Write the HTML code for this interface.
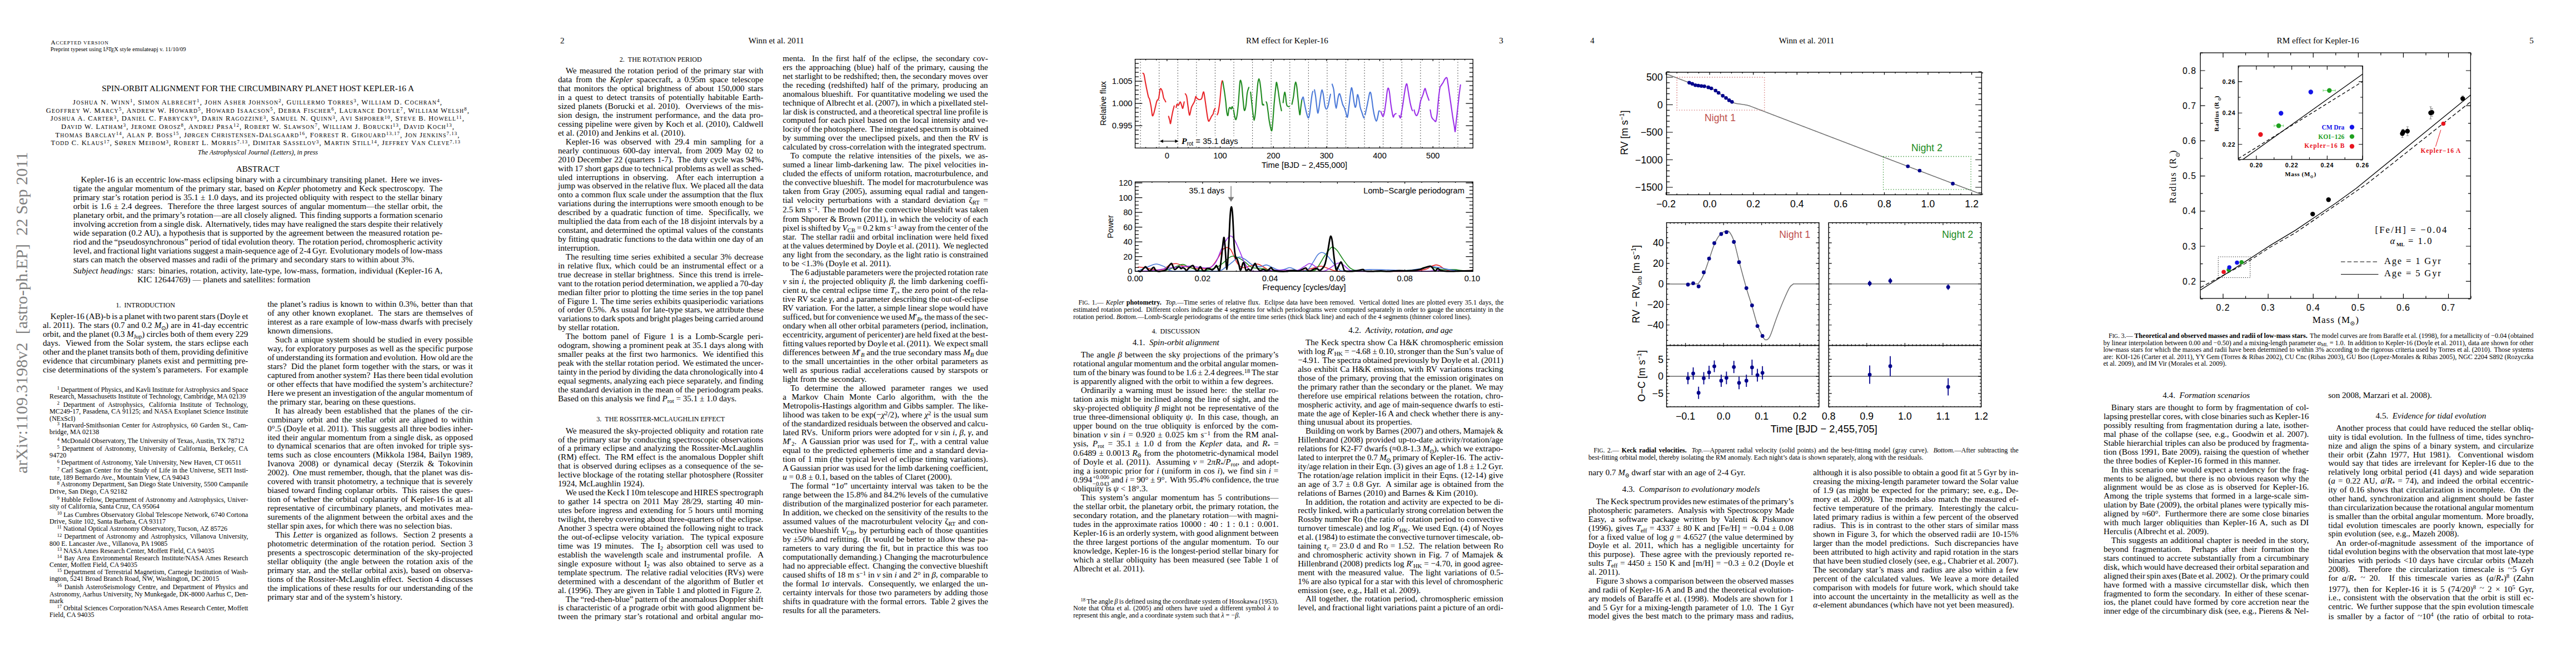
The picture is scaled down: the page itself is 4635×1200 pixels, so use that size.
<!DOCTYPE html><html><head><meta charset='utf-8'><title>Winn et al. 2011</title><style>
html,body{margin:0;padding:0;background:#fff;}
body{width:4635px;height:1200px;position:relative;overflow:hidden;font-family:'Liberation Serif',serif;color:#000;}
.l{position:absolute;white-space:nowrap;line-height:18px;height:18px;}
.c{position:absolute;white-space:nowrap;line-height:18px;height:18px;width:1000px;text-align:center;}
sup{font-size:70%;vertical-align:baseline;position:relative;top:-0.42em;line-height:0;}
sub{font-size:70%;vertical-align:baseline;position:relative;top:0.28em;line-height:0;}
sub sub{top:0.2em}
.sun{display:inline-block;width:0.62em;height:0.62em;border:0.09em solid #000;border-radius:50%;box-sizing:border-box;background:radial-gradient(circle,#000 0,#000 18%,transparent 24%);vertical-align:-0.05em;margin:0 0.05em;}
.star{display:inline-block;font-size:90%;}
.sim{display:inline-block;position:relative;top:-0.08em;}
.ss{display:inline-block;position:relative;font-size:70%;line-height:0;vertical-align:baseline;margin-left:0.08em;}
.ss span:first-child{position:relative;top:-0.5em}
.ss span:last-child{position:absolute;left:0;top:0.55em}
svg{position:absolute;left:0;top:0;}
</style></head><body>
<svg width="4635" height="1200" viewBox="0 0 4635 1200"><text xml:space="preserve" transform="translate(48.7,851.7) rotate(-90)" font-family="Liberation Serif" font-size="30.3" fill="#808080">arXiv:1109.3198v2  [astro-ph.EP]  22 Sep 2011</text><path d="M2052.05,106.6 V266.3 M2085.64,106.6 V266.3 M2119.23,106.6 V266.3 M2152.82,106.6 V266.3 M2186.41,106.6 V266.3 M2220,106.6 V266.3 M2253.59,106.6 V266.3 M2287.18,106.6 V266.3 M2320.77,106.6 V266.3 M2354.36,106.6 V266.3 M2387.95,106.6 V266.3 M2421.54,106.6 V266.3 M2455.13,106.6 V266.3 M2488.72,106.6 V266.3 M2522.32,106.6 V266.3 M2555.91,106.6 V266.3 M2589.5,106.6 V266.3 M2623.09,106.6 V266.3" stroke="#000" stroke-width="1.1" stroke-dasharray="1.2 3.7" fill="none"/>
<path d="M2056.35,131.75 C2056.69,132.13 2057.56,131.02 2058.38,134.06 C2059.2,137.1 2060.31,144.91 2061.27,149.98 C2062.24,155.04 2063.3,160.35 2064.17,164.44 C2065.03,168.54 2065.76,172.16 2066.48,174.57 C2067.2,176.98 2067.69,175.78 2068.51,178.91 C2069.33,182.05 2070.58,188.56 2071.4,193.38 C2072.22,198.2 2072.7,205.92 2073.43,207.85 C2074.15,209.78 2074.87,207.36 2075.74,204.95 C2076.61,202.54 2077.67,197.24 2078.63,193.38 C2079.6,189.52 2080.66,184.22 2081.53,181.81 C2082.4,179.39 2083.26,179.88 2083.84,178.91 C2084.42,177.95 2084.42,179.01 2085,176.02 C2085.58,173.03 2086.59,163.62 2087.31,160.97 C2088.04,158.32 2088.62,159.28 2089.34,160.1 C2090.06,160.92 2090.93,163.24 2091.66,165.89 C2092.38,168.54 2092.96,173.61 2093.68,176.02 C2094.4,178.43 2095.37,179.15 2096,180.36 C2096.62,181.56 2097.2,182.77 2097.44,183.25 M2102.65,209.29 C2102.99,210.5 2104.1,214.36 2104.68,216.53 C2105.25,218.7 2105.54,223.28 2106.12,222.31 C2106.7,221.35 2107.42,214.6 2108.15,210.74 C2108.87,206.88 2109.69,202.54 2110.46,199.17 C2111.23,195.79 2112.39,191.93 2112.78,190.49 M2116.25,193.38 C2116.49,192.42 2116.97,188.32 2117.7,187.59 C2118.42,186.87 2119.63,189.76 2120.59,189.04 C2121.55,188.32 2122.66,183.49 2123.48,183.25 C2124.3,183.01 2124.79,185.66 2125.51,187.59 C2126.23,189.52 2127.2,194.34 2127.82,194.83 C2128.45,195.31 2128.79,192.42 2129.27,190.49 C2129.75,188.56 2130.48,184.46 2130.72,183.25 M2132.74,168.78 C2133.13,169.51 2134.33,169.99 2135.06,173.12 C2135.78,176.26 2136.36,182.53 2137.08,187.59 C2137.81,192.66 2138.77,200.37 2139.4,203.51 C2140.03,206.64 2140.12,208.09 2140.84,206.4 C2141.57,204.71 2142.77,196.51 2143.74,193.38 C2144.7,190.24 2145.67,189.52 2146.63,187.59 C2147.6,185.66 2148.71,184.12 2149.53,181.81 C2150.35,179.49 2150.92,174.57 2151.55,173.7 C2152.18,172.84 2152.42,175.73 2153.29,176.6 C2154.16,177.47 2155.6,178.53 2156.76,178.91 C2157.92,179.3 2159.27,179.39 2160.23,178.91 C2161.2,178.43 2161.82,177.95 2162.55,176.02 C2163.27,174.09 2163.99,169.03 2164.57,167.34 C2165.15,165.65 2165.49,164.44 2166.02,165.89 C2166.55,167.34 2167.13,171.92 2167.75,176.02 C2168.38,180.12 2168.96,184.7 2169.78,190.49 C2170.6,196.27 2171.85,206.16 2172.67,210.74 C2173.49,215.32 2173.98,217.25 2174.7,217.97 C2175.42,218.7 2176.15,216.53 2177.01,215.08 C2177.88,213.63 2178.94,210.98 2179.91,209.29 C2180.87,207.61 2182.08,206.64 2182.8,204.95 C2183.52,203.27 2183.62,200.85 2184.25,199.17 C2184.87,197.48 2186.18,195.55 2186.56,194.83 M2190.03,206.4 C2190.28,205.92 2191,205.19 2191.48,203.51 C2191.96,201.82 2192.35,199.89 2192.93,196.27 C2193.51,192.66 2194.23,188.56 2194.95,181.81 C2195.68,175.05 2196.59,161.79 2197.27,155.76 C2197.94,149.74 2198.52,147.08 2199,145.64 C2199.49,144.19 2199.97,146.84 2200.16,147.08" stroke="#e8262a" stroke-width="2.1" fill="none" stroke-linejoin="round" stroke-linecap="round"/>
<path d="M2200.16,147.08 C2200.64,149.98 2202.19,158.66 2203.06,164.44 C2203.92,170.23 2204.65,175.54 2205.37,181.81 C2206.09,188.07 2206.72,197.72 2207.4,202.06 C2208.07,206.4 2208.79,208.81 2209.42,207.85 C2210.05,206.88 2210.53,198.68 2211.16,196.27 C2211.78,193.86 2212.51,193.38 2213.18,193.38 C2213.86,193.38 2214.58,196.51 2215.21,196.27 C2215.84,196.03 2216.41,192.17 2216.94,191.93 C2217.47,191.69 2218.15,194.34 2218.39,194.83 M2219.55,197.72 C2219.93,199.89 2221.14,207.85 2221.86,210.74 C2222.59,213.63 2223.17,216.05 2223.89,215.08 C2224.61,214.12 2225.43,210.5 2226.2,204.95 C2226.98,199.41 2227.8,190.49 2228.52,181.81 C2229.24,173.12 2229.97,159.14 2230.54,152.87 C2231.12,146.6 2231.36,144.19 2231.99,144.19 C2232.62,144.19 2233.58,147.57 2234.31,152.87 C2235.03,158.18 2235.66,168.78 2236.33,176.02 C2237.01,183.25 2237.73,192.66 2238.36,196.27 C2238.98,199.89 2239.47,199.17 2240.09,197.72 C2240.72,196.27 2241.44,192.66 2242.12,187.59 C2242.79,182.53 2243.32,172.4 2244.14,167.34 C2244.96,162.27 2246.55,158.9 2247.04,157.21 M2250.22,165.89 C2250.56,169.03 2251.52,178.19 2252.25,184.7 C2252.97,191.21 2253.84,199.65 2254.56,204.95 C2255.28,210.26 2255.91,216.53 2256.59,216.53 C2257.26,216.53 2257.89,211.71 2258.61,204.95 C2259.33,198.2 2260.15,185.18 2260.93,176.02 C2261.7,166.86 2262.52,155.67 2263.24,149.98 C2263.96,144.29 2264.59,141.88 2265.27,141.88 C2265.94,141.88 2266.57,145.25 2267.29,149.98 C2268.02,154.7 2268.93,163.96 2269.61,170.23 C2270.28,176.5 2270.76,184.7 2271.34,187.59 C2271.92,190.49 2272.64,187.35 2273.08,187.59 C2273.51,187.83 2273.8,188.8 2273.95,189.04 M2278.29,183.25 C2278.53,183.98 2279.16,184.46 2279.73,187.59 C2280.31,190.73 2281.04,196.76 2281.76,202.06 C2282.48,207.36 2283.06,213.88 2284.07,219.42 C2285.09,224.97 2286.87,234.85 2287.84,235.34 C2288.8,235.82 2289.04,230.75 2289.86,222.31 C2290.68,213.88 2291.79,195.79 2292.75,184.7 C2293.72,173.61 2294.92,161.79 2295.65,155.76 C2296.37,149.74 2296.37,147.08 2297.09,148.53 C2297.82,149.98 2299.02,158.42 2299.99,164.44 C2300.95,170.47 2301.92,178.91 2302.88,184.7 C2303.85,190.49 2305.29,196.76 2305.78,199.17 M2308.68,184.7 C2308.92,182.77 2309.65,176.26 2310.13,173.12 C2310.61,169.99 2311.09,166.13 2311.57,165.89 C2312.06,165.65 2312.54,168.54 2313.02,171.68 C2313.5,174.81 2313.99,181.56 2314.47,184.7 C2314.95,187.83 2315.05,189.28 2315.91,190.49 C2316.78,191.69 2319.05,191.69 2319.68,191.93 M2324.59,187.59 C2325.08,185.18 2326.67,178.43 2327.49,173.12 C2328.31,167.82 2328.89,160.01 2329.51,155.76 C2330.14,151.52 2330.62,147.66 2331.25,147.66 C2331.88,147.66 2332.6,151.04 2333.28,155.76 C2333.95,160.49 2334.58,168.78 2335.3,176.02 C2336.02,183.25 2336.99,194.1 2337.62,199.17 C2338.24,204.23 2338.58,207.36 2339.06,206.4 C2339.54,205.44 2339.93,197.96 2340.51,193.38 C2341.09,188.8 2342.2,181.32 2342.53,178.91" stroke="#1f8a1f" stroke-width="2.1" fill="none" stroke-linejoin="round" stroke-linecap="round"/>
<path d="M2342.53,178.91 C2342.92,178.19 2344.22,174.09 2344.85,174.57 C2345.48,175.05 2345.57,178.19 2346.3,181.81 C2347.02,185.42 2348.23,191.93 2349.19,196.27 C2350.15,200.61 2351.22,205.19 2352.08,207.85 C2352.95,210.5 2353.67,212.67 2354.4,212.19 C2355.12,211.71 2355.75,209.05 2356.42,204.95 C2357.1,200.85 2357.73,193.38 2358.45,187.59 C2359.17,181.81 2360.14,174.09 2360.76,170.23 C2361.39,166.37 2361.97,165.41 2362.21,164.44 M2365.1,161.55 C2365.44,163.48 2366.41,167.82 2367.13,173.12 C2367.85,178.43 2368.72,188.32 2369.44,193.38 C2370.17,198.44 2370.75,203.99 2371.47,203.51 C2372.19,203.02 2372.92,196.03 2373.78,190.49 C2374.65,184.94 2375.86,175.05 2376.68,170.23 C2377.5,165.41 2377.98,161.55 2378.7,161.55 C2379.43,161.55 2380.15,165.41 2381.02,170.23 C2381.89,175.05 2382.95,186.15 2383.91,190.49 C2384.88,194.83 2385.84,196.27 2386.81,196.27 C2387.77,196.27 2388.83,193.38 2389.7,190.49 C2390.57,187.59 2391.29,182.38 2392.01,178.91 C2392.74,175.44 2393.7,171.2 2394.04,169.65 M2396.93,151.42 C2397.42,153.11 2399.01,156.49 2399.83,161.55 C2400.65,166.61 2401.13,176.26 2401.85,181.81 C2402.58,187.35 2403.4,194.83 2404.17,194.83 C2404.94,194.83 2405.76,185.66 2406.48,181.81 C2407.2,177.95 2407.83,173.85 2408.51,171.68 C2409.18,169.51 2409.81,168.06 2410.53,168.78 C2411.26,169.51 2411.98,172.88 2412.85,176.02 C2413.72,179.15 2414.78,184.7 2415.74,187.59 C2416.71,190.49 2417.67,190.97 2418.63,193.38 C2419.6,195.79 2420.56,199.17 2421.53,202.06 C2422.49,204.95 2423.46,212.67 2424.42,210.74 C2425.39,208.81 2426.45,197.24 2427.31,190.49 C2428.18,183.73 2428.91,175.63 2429.63,170.23 C2430.35,164.83 2430.98,159.04 2431.66,158.08 C2432.33,157.11 2432.96,160.49 2433.68,164.44 C2434.4,168.4 2435.22,177.08 2436,181.81 C2436.77,186.53 2437.59,191.84 2438.31,192.8 C2439.03,193.77 2439.66,191.26 2440.34,187.59 C2441.01,183.93 2441.64,172.74 2442.36,170.81 C2443.08,168.88 2443.81,172.26 2444.68,176.02 C2445.54,179.78 2446.6,189.04 2447.57,193.38 C2448.53,197.72 2449.5,199.17 2450.46,202.06 C2451.43,204.95 2452.63,209.05 2453.36,210.74 C2454.08,212.43 2454.56,211.95 2454.8,212.19 M2456.25,206.4 C2456.73,204.23 2458.18,197.96 2459.14,193.38 C2460.11,188.8 2461.17,183.25 2462.04,178.91 C2462.91,174.57 2463.63,169.27 2464.35,167.34 C2465.08,165.41 2465.7,165.41 2466.38,167.34 C2467.05,169.27 2467.68,174.09 2468.4,178.91 C2469.13,183.73 2469.85,190.97 2470.72,196.27 C2471.59,201.58 2472.65,207.12 2473.61,210.74 C2474.58,214.36 2475.64,217.97 2476.5,217.97 C2477.37,217.97 2478.1,213.63 2478.82,210.74 C2479.54,207.85 2480.27,202.45 2480.84,200.61 C2481.42,198.78 2482.05,199.89 2482.29,199.75" stroke="#4a78d8" stroke-width="2.1" fill="none" stroke-linejoin="round" stroke-linecap="round"/>
<path d="M2484.61,200.61 C2484.94,201.58 2485.96,204.95 2486.63,206.4 C2487.31,207.85 2487.93,210.02 2488.66,209.29 C2489.38,208.57 2490.1,206.64 2490.97,202.06 C2491.84,197.48 2493,188.32 2493.87,181.81 C2494.73,175.3 2495.46,166.86 2496.18,163 C2496.9,159.14 2497.53,157.93 2498.21,158.66 C2498.88,159.38 2499.51,162.52 2500.23,167.34 C2500.95,172.16 2501.68,181.32 2502.55,187.59 C2503.41,193.86 2504.72,201.1 2505.44,204.95 C2506.16,208.81 2506.31,210.5 2506.89,210.74 C2507.47,210.98 2508.09,207.46 2508.91,206.4 C2509.73,205.34 2511.32,204.71 2511.81,204.38 M2517.59,207.85 C2517.98,208.57 2519.28,212.67 2519.91,212.19 C2520.53,211.71 2520.63,209.05 2521.35,204.95 C2522.08,200.85 2523.28,193.86 2524.25,187.59 C2525.21,181.32 2526.27,172.88 2527.14,167.34 C2528.01,161.79 2528.73,156.97 2529.46,154.32 C2530.18,151.66 2530.76,149.74 2531.48,151.42 C2532.2,153.11 2532.83,158.9 2533.8,164.44 C2534.76,169.99 2536.21,179.39 2537.27,184.7 C2538.33,190 2539.44,193.86 2540.16,196.27 C2540.89,198.68 2541.37,198.68 2541.61,199.17 M2544.5,197.72 C2544.74,198.68 2545.32,201.82 2545.95,203.51 C2546.58,205.19 2547.54,207.36 2548.26,207.85 C2548.99,208.33 2549.47,208.09 2550.29,206.4 C2551.11,204.71 2552.22,201.82 2553.18,197.72 C2554.15,193.62 2554.87,186.39 2556.08,181.81 C2557.28,177.22 2559.11,173.99 2560.42,170.23 C2561.72,166.47 2562.92,159.96 2563.89,159.24 C2564.85,158.51 2565.43,163.58 2566.2,165.89 C2566.98,168.21 2567.7,170.71 2568.52,173.12 C2569.34,175.54 2570.69,179.15 2571.12,180.36 M2573.44,197.72 C2573.78,199.65 2574.74,206.64 2575.46,209.29 C2576.19,211.95 2576.91,212.43 2577.78,213.63 C2578.65,214.84 2579.71,215.8 2580.67,216.53 C2581.64,217.25 2582.7,219.9 2583.56,217.97 C2584.43,216.05 2585.16,210.98 2585.88,204.95 C2586.6,198.93 2587.09,189.52 2587.91,181.81 C2588.72,174.09 2589.83,163.48 2590.8,158.66 C2591.76,153.83 2592.73,154.56 2593.69,152.87 C2594.66,151.18 2595.62,150.22 2596.59,148.53 C2597.55,146.84 2598.37,144.19 2599.48,142.74 C2600.59,141.3 2602.28,138.64 2603.24,139.85 C2604.21,141.06 2604.45,144.91 2605.27,149.98 C2606.09,155.04 2607.2,163.48 2608.16,170.23 C2609.12,176.98 2610.09,183.73 2611.05,190.49 C2612.02,197.24 2612.98,204.47 2613.95,210.74 C2614.91,217.01 2616.12,223.76 2616.84,228.1 C2617.56,232.44 2617.8,237.75 2618.29,236.78 C2618.77,235.82 2619.01,229.07 2619.73,222.31 C2620.46,215.56 2621.66,204.95 2622.63,196.27 C2623.59,187.59 2624.65,177.47 2625.52,170.23 C2626.39,163 2627.45,155.76 2627.84,152.87" stroke="#9b30e8" stroke-width="2.1" fill="none" stroke-linejoin="round" stroke-linecap="round"/>
<rect x="2042.5" y="106.6" width="607.8" height="159.7" fill="none" stroke="#000" stroke-width="1.3"/>
<path d="M2099.8,266.3 v-3.4 M2099.8,106.6 v3.4 M2195.5,266.3 v-3.4 M2195.5,106.6 v3.4 M2291.2,266.3 v-3.4 M2291.2,106.6 v3.4 M2386.9,266.3 v-3.4 M2386.9,106.6 v3.4 M2482.6,266.3 v-3.4 M2482.6,106.6 v3.4 M2578.3,266.3 v-3.4 M2578.3,106.6 v3.4 M2042.38,266.3 v-1.8 M2042.38,106.6 v1.8 M2061.52,266.3 v-1.8 M2061.52,106.6 v1.8 M2080.66,266.3 v-1.8 M2080.66,106.6 v1.8 M2118.94,266.3 v-1.8 M2118.94,106.6 v1.8 M2138.08,266.3 v-1.8 M2138.08,106.6 v1.8 M2157.22,266.3 v-1.8 M2157.22,106.6 v1.8 M2176.36,266.3 v-1.8 M2176.36,106.6 v1.8 M2214.64,266.3 v-1.8 M2214.64,106.6 v1.8 M2233.78,266.3 v-1.8 M2233.78,106.6 v1.8 M2252.92,266.3 v-1.8 M2252.92,106.6 v1.8 M2272.06,266.3 v-1.8 M2272.06,106.6 v1.8 M2310.34,266.3 v-1.8 M2310.34,106.6 v1.8 M2329.48,266.3 v-1.8 M2329.48,106.6 v1.8 M2348.62,266.3 v-1.8 M2348.62,106.6 v1.8 M2367.76,266.3 v-1.8 M2367.76,106.6 v1.8 M2406.04,266.3 v-1.8 M2406.04,106.6 v1.8 M2425.18,266.3 v-1.8 M2425.18,106.6 v1.8 M2444.32,266.3 v-1.8 M2444.32,106.6 v1.8 M2463.46,266.3 v-1.8 M2463.46,106.6 v1.8 M2501.74,266.3 v-1.8 M2501.74,106.6 v1.8 M2520.88,266.3 v-1.8 M2520.88,106.6 v1.8 M2540.02,266.3 v-1.8 M2540.02,106.6 v1.8 M2559.16,266.3 v-1.8 M2559.16,106.6 v1.8 M2597.44,266.3 v-1.8 M2597.44,106.6 v1.8 M2616.58,266.3 v-1.8 M2616.58,106.6 v1.8 M2635.72,266.3 v-1.8 M2635.72,106.6 v1.8 M2042.5,226.1 h12.8 M2650.3,226.1 h-12.8 M2042.5,186.1 h12.8 M2650.3,186.1 h-12.8 M2042.5,146.1 h12.8 M2650.3,146.1 h-12.8 M2042.5,258.1 h6.4 M2650.3,258.1 h-6.4 M2042.5,250.1 h6.4 M2650.3,250.1 h-6.4 M2042.5,242.1 h6.4 M2650.3,242.1 h-6.4 M2042.5,234.1 h6.4 M2650.3,234.1 h-6.4 M2042.5,218.1 h6.4 M2650.3,218.1 h-6.4 M2042.5,210.1 h6.4 M2650.3,210.1 h-6.4 M2042.5,202.1 h6.4 M2650.3,202.1 h-6.4 M2042.5,194.1 h6.4 M2650.3,194.1 h-6.4 M2042.5,178.1 h6.4 M2650.3,178.1 h-6.4 M2042.5,170.1 h6.4 M2650.3,170.1 h-6.4 M2042.5,162.1 h6.4 M2650.3,162.1 h-6.4 M2042.5,154.1 h6.4 M2650.3,154.1 h-6.4 M2042.5,138.1 h6.4 M2650.3,138.1 h-6.4 M2042.5,130.1 h6.4 M2650.3,130.1 h-6.4 M2042.5,122.1 h6.4 M2650.3,122.1 h-6.4 M2042.5,114.1 h6.4 M2650.3,114.1 h-6.4" stroke="#000" stroke-width="1.2" fill="none"/>
<text x="2099.8" y="284.7" font-size="14.7" font-family="Liberation Sans" text-anchor="middle" >0</text>
<text x="2195.5" y="284.7" font-size="14.7" font-family="Liberation Sans" text-anchor="middle" >100</text>
<text x="2291.2" y="284.7" font-size="14.7" font-family="Liberation Sans" text-anchor="middle" >200</text>
<text x="2386.9" y="284.7" font-size="14.7" font-family="Liberation Sans" text-anchor="middle" >300</text>
<text x="2482.6" y="284.7" font-size="14.7" font-family="Liberation Sans" text-anchor="middle" >400</text>
<text x="2578.3" y="284.7" font-size="14.7" font-family="Liberation Sans" text-anchor="middle" >500</text>
<text x="2037.5" y="151.3" font-size="14.7" font-family="Liberation Sans" text-anchor="end" >1.005</text>
<text x="2037.5" y="191.3" font-size="14.7" font-family="Liberation Sans" text-anchor="end" >1.000</text>
<text x="2037.5" y="231.3" font-size="14.7" font-family="Liberation Sans" text-anchor="end" >0.995</text>
<text transform="translate(1990.4,186.1) rotate(-90)" font-size="14.7" font-family="Liberation Sans" text-anchor="middle" >Relative flux</text>
<text x="2347" y="301.6" font-size="14.7" font-family="Liberation Sans" text-anchor="middle" >Time [BJD − 2,455,000]</text>
<path d="M2088.5,254 H2118.5" stroke="#000" stroke-width="1.2"/>
<path d="M2086.8,254 l6,-3 v6 z M2120.3,254 l-6,-3 v6 z" fill="#000"/>
<rect x="2123.5" y="244.5" width="104" height="17" fill="#fff"/>
<text x="2126" y="258.6" font-size="14.7" font-family="Liberation Sans"><tspan font-family="Liberation Serif" font-style="italic" font-weight="bold" font-size="15.5">P</tspan><tspan font-size="10" dy="3">rot</tspan><tspan dy="-3"> = 35.1 days</tspan></text>
<path d="M2047.43,480.24 C2049.35,480.46 2054.3,480.79 2058.98,481.56 C2063.65,482.33 2069.97,484.31 2075.47,484.86 C2080.97,485.41 2087.02,486.23 2091.97,484.86 C2096.92,483.49 2101.04,478.37 2105.17,476.61 C2109.29,474.85 2112.86,474.03 2116.71,474.3 C2120.56,474.58 2124.14,477.05 2128.26,478.26 C2132.39,479.47 2136.51,480.74 2141.46,481.56 C2146.41,482.39 2151.91,483.21 2157.95,483.21 C2164,483.21 2172.25,484.58 2177.75,481.56 C2183.25,478.54 2187.1,470.56 2190.95,465.06 C2194.8,459.57 2197.99,451.87 2200.84,448.57 C2203.7,445.27 2205.9,445.27 2208.1,445.27 C2210.3,445.27 2211.95,445.82 2214.04,448.57 C2216.13,451.32 2218.44,457.37 2220.64,461.77 C2222.84,466.16 2224.49,471.66 2227.24,474.96 C2229.99,478.26 2233.29,481.01 2237.14,481.56 C2240.99,482.11 2246.21,479.36 2250.33,478.26 C2254.46,477.16 2258.58,474.96 2261.88,474.96 C2265.18,474.96 2266.55,476.34 2270.13,478.26 C2273.7,480.19 2280.03,484.86 2283.33,486.51 C2286.62,488.16 2287.15,487.99 2289.92,488.16 C2292.7,488.32 2291.72,487.61 2300,487.5 C2308.28,487.39 2329.69,488.21 2339.59,487.5 C2349.49,486.78 2353.34,484.64 2359.39,483.21 C2365.43,481.78 2371.48,479.2 2375.88,478.92 C2380.28,478.65 2381.93,480.3 2385.78,481.56 C2389.63,482.83 2394.58,485.41 2398.98,486.51 C2403.38,487.61 2401.18,487.88 2412.17,488.16 C2423.17,488.43 2445.17,488.16 2464.96,488.16 C2484.76,488.16 2514.45,488.71 2530.95,488.16 C2547.44,487.61 2556.79,486.23 2563.94,484.86 C2571.09,483.49 2570.54,481.29 2573.84,479.91 C2577.14,478.54 2580.99,476.89 2583.73,476.61 C2586.48,476.34 2587.58,476.89 2590.33,478.26 C2593.08,479.64 2596.93,483.32 2600.23,484.86 C2603.53,486.4 2605.18,487.17 2610.13,487.5 C2615.08,487.83 2623.33,487 2629.92,486.84 C2636.52,486.67 2646.42,486.56 2649.72,486.51" stroke="#e8262a" stroke-width="1.6" fill="none"/>
<path d="M2047.43,488.16 C2054.85,488.05 2080.7,488.87 2091.97,487.5 C2103.24,486.12 2109.02,481.89 2115.06,479.91 C2121.11,477.93 2124.41,475.62 2128.26,475.62 C2132.11,475.62 2133.21,478.1 2138.16,479.91 C2143.11,481.73 2151.36,485.68 2157.95,486.51 C2164.55,487.33 2172.25,485.96 2177.75,484.86 C2183.25,483.76 2186.82,482.11 2190.95,479.91 C2195.07,477.71 2199.19,474.3 2202.49,471.66 C2205.79,469.02 2207.99,465.89 2210.74,464.07 C2213.49,462.26 2215.97,460.78 2218.99,460.78 C2222.01,460.78 2225.31,462.26 2228.89,464.07 C2232.46,465.89 2236.31,468.75 2240.44,471.66 C2244.56,474.58 2248.13,479.64 2253.63,481.56 C2259.13,483.49 2267.38,482.11 2273.43,483.21 C2279.48,484.31 2283.85,487.33 2289.92,488.16 C2296,488.98 2299.97,488.16 2309.9,488.16 C2319.83,488.16 2340.14,488.43 2349.49,488.16 C2358.84,487.88 2362.14,488.16 2365.98,486.51 C2369.83,484.86 2369.83,482.39 2372.58,478.26 C2375.33,474.14 2379.18,466.71 2382.48,461.77 C2385.78,456.82 2389.9,451.43 2392.38,448.57 C2394.85,445.71 2395.13,444.33 2397.33,444.61 C2399.53,444.88 2402.55,446.81 2405.58,450.22 C2408.6,453.63 2412.17,460.39 2415.47,465.06 C2418.77,469.74 2422.35,474.96 2425.37,478.26 C2428.4,481.56 2429.77,483.32 2433.62,484.86 C2437.47,486.4 2437.74,486.95 2448.47,487.5 C2459.19,488.05 2480.91,488.6 2497.95,488.16 C2515,487.72 2540.29,485.96 2550.74,484.86 C2561.19,483.76 2557.34,482.39 2560.64,481.56 C2563.94,480.74 2567.24,479.91 2570.54,479.91 C2573.84,479.91 2576.59,480.74 2580.44,481.56 C2584.28,482.39 2587.58,484.31 2593.63,484.86 C2599.68,485.41 2610.68,484.58 2616.73,484.86 C2622.78,485.13 2624.43,486.07 2629.92,486.51 C2635.42,486.95 2646.42,487.33 2649.72,487.5" stroke="#1f8a1f" stroke-width="1.6" fill="none"/>
<path d="M2047.43,487.5 C2050.45,486.23 2060.08,482 2065.58,479.91 C2071.07,477.82 2075.47,474.96 2080.42,474.96 C2085.37,474.96 2090.59,477.82 2095.27,479.91 C2099.94,482 2100.77,486.23 2108.47,487.5 C2116.16,488.76 2127.71,487.5 2141.46,487.5 C2155.21,487.5 2180.5,488.49 2190.95,487.5 C2201.39,486.51 2199.74,484.2 2204.14,481.56 C2208.54,478.92 2213.22,474.85 2217.34,471.66 C2221.46,468.47 2225.04,463.25 2228.89,462.42 C2232.74,461.6 2236.31,464.35 2240.44,466.71 C2244.56,469.08 2249.23,474.41 2253.63,476.61 C2258.03,478.81 2262.71,479.91 2266.83,479.91 C2270.95,479.91 2274.53,476.34 2278.38,476.61 C2282.23,476.89 2286.32,480.08 2289.92,481.56 C2293.53,483.05 2296.67,484.97 2300,485.52 C2303.33,486.07 2306.6,485.52 2309.9,484.86 C2313.2,484.2 2317.05,481.84 2319.8,481.56 C2322.54,481.29 2323.64,482.22 2326.39,483.21 C2329.14,484.2 2331.89,487.22 2336.29,487.5 C2340.69,487.77 2348.39,487.5 2352.79,484.86 C2357.19,482.22 2359.66,476.06 2362.69,471.66 C2365.71,467.26 2368.29,461.38 2370.93,458.47 C2373.57,455.55 2375.77,454.07 2378.52,454.18 C2381.27,454.29 2384.02,455.94 2387.43,459.13 C2390.84,462.31 2395.4,469.13 2398.98,473.31 C2402.55,477.49 2405.58,481.84 2408.87,484.2 C2412.17,486.56 2409.42,487.39 2418.77,487.5 C2428.12,487.61 2451.77,485.19 2464.96,484.86 C2478.16,484.53 2486.96,485.24 2497.95,485.52 C2508.95,485.79 2521.05,486.89 2530.95,486.51 C2540.84,486.12 2550.19,484.31 2557.34,483.21 C2564.49,482.11 2568.34,480.19 2573.84,479.91 C2579.34,479.64 2584.83,480.74 2590.33,481.56 C2595.83,482.39 2600.23,483.87 2606.83,484.86 C2613.43,485.85 2622.78,487.06 2629.92,487.5 C2637.07,487.94 2646.42,487.5 2649.72,487.5" stroke="#4a78d8" stroke-width="1.6" fill="none"/>
<path d="M2047.43,488.16 C2052.1,487.88 2065.3,487.61 2075.47,486.51 C2085.65,485.41 2100.22,482.66 2108.47,481.56 C2116.71,480.46 2119.46,480.35 2124.96,479.91 C2130.46,479.47 2135.96,478.76 2141.46,478.92 C2146.96,479.09 2152.18,480.46 2157.95,480.9 C2163.73,481.34 2171.15,483.1 2176.1,481.56 C2181.05,480.02 2184.07,477.16 2187.65,471.66 C2191.22,466.16 2194.25,455.44 2197.55,448.57 C2200.84,441.69 2204.69,434.44 2207.44,430.42 C2210.19,426.41 2211.84,424.48 2214.04,424.48 C2216.24,424.48 2217.89,425.86 2220.64,430.42 C2223.39,434.99 2227.24,444.44 2230.54,451.87 C2233.84,459.29 2237.14,469.19 2240.44,474.96 C2243.73,480.74 2246.48,484.31 2250.33,486.51 C2254.18,488.71 2256.93,488.16 2263.53,488.16 C2270.13,488.16 2282.2,486.95 2289.92,486.51 C2297.65,486.07 2302.72,485.52 2309.9,485.52 C2317.08,485.52 2326.94,487.44 2332.99,486.51 C2339.04,485.57 2342.45,481.95 2346.19,479.91 C2349.93,477.88 2352.68,474.85 2355.43,474.3 C2358.18,473.75 2360.1,475.13 2362.69,476.61 C2365.27,478.1 2368.18,481.29 2370.93,483.21 C2373.68,485.13 2376.16,487.88 2379.18,488.16 C2382.21,488.43 2385.78,486.51 2389.08,484.86 C2392.38,483.21 2395.79,480.19 2398.98,478.26 C2402.17,476.34 2405.19,473.59 2408.22,473.31 C2411.24,473.04 2413.99,474.69 2417.12,476.61 C2420.26,478.54 2423.45,482.94 2427.02,484.86 C2430.59,486.78 2426.75,487.61 2438.57,488.16 C2450.39,488.71 2477.06,488.16 2497.95,488.16 C2518.85,488.16 2549.64,488.43 2563.94,488.16 C2578.24,487.88 2578.24,486.62 2583.73,486.51 C2589.23,486.4 2585.93,487.22 2596.93,487.5 C2607.93,487.77 2640.92,488.05 2649.72,488.16" stroke="#9b30e8" stroke-width="1.6" fill="none"/>
<path d="M2047.43,487.5 C2048.25,487.61 2050.45,489.15 2052.38,488.16 C2054.3,487.17 2057.44,482.94 2058.98,481.56 C2060.52,480.19 2060.63,479.47 2061.62,479.91 C2062.61,480.35 2063.71,482.94 2064.92,484.2 C2066.13,485.46 2067.56,487.66 2068.87,487.5 C2070.19,487.33 2071.62,484.31 2072.83,483.21 C2074.04,482.11 2075.03,480.35 2076.13,480.9 C2077.23,481.45 2078.17,485.3 2079.43,486.51 C2080.7,487.72 2081.63,487.99 2083.72,488.16 C2085.81,488.32 2089.5,488.05 2091.97,487.5 C2094.44,486.95 2096.64,486.4 2098.57,484.86 C2100.49,483.32 2101.98,480.08 2103.52,478.26 C2105.06,476.45 2106.71,473.97 2107.81,473.97 C2108.91,473.97 2109.18,476.45 2110.12,478.26 C2111.05,480.08 2112.15,484.2 2113.41,484.86 C2114.68,485.52 2116.33,483.05 2117.7,482.22 C2119.08,481.4 2120.45,479.75 2121.66,479.91 C2122.87,480.08 2123.86,482.94 2124.96,483.21 C2126.06,483.49 2127.16,481.56 2128.26,481.56 C2129.36,481.56 2130.46,482.39 2131.56,483.21 C2132.66,484.03 2133.49,486.78 2134.86,486.51 C2136.23,486.23 2137.88,483.05 2139.81,481.56 C2141.73,480.08 2144.76,477.33 2146.41,477.6 C2148.06,477.88 2148.33,481.56 2149.71,483.21 C2151.08,484.86 2153.01,488.05 2154.66,487.5 C2156.3,486.95 2158.06,480.08 2159.6,479.91 C2161.14,479.75 2162.52,485.24 2163.89,486.51 C2165.27,487.77 2166.64,488.05 2167.85,487.5 C2169.06,486.95 2169.78,483.92 2171.15,483.21 C2172.53,482.5 2174.45,482.83 2176.1,483.21 C2177.75,483.6 2179.51,485.68 2181.05,485.52 C2182.59,485.35 2184.07,483.54 2185.34,482.22 C2186.6,480.9 2187.7,477.71 2188.64,477.6 C2189.57,477.49 2190.01,480.08 2190.95,481.56 C2191.88,483.05 2193.15,489.26 2194.25,486.51 C2195.35,483.76 2196.28,474.8 2197.55,465.06 C2198.81,455.33 2200.73,431.96 2201.83,428.11 C2202.93,424.26 2203.21,432.51 2204.14,441.97 C2205.08,451.43 2206.34,484.86 2207.44,484.86 C2208.54,484.86 2209.75,457.92 2210.74,441.97 C2211.73,426.02 2212.56,400.84 2213.38,389.18 C2214.21,377.52 2214.92,372.03 2215.69,372.03 C2216.46,372.03 2217.18,377.52 2218,389.18 C2218.83,400.84 2219.76,429.6 2220.64,441.97 C2221.52,454.34 2222.45,459.57 2223.28,463.41 C2224.1,467.26 2224.65,463.14 2225.59,465.06 C2226.52,466.99 2227.79,471.39 2228.89,474.96 C2229.99,478.54 2230.92,486.78 2232.19,486.51 C2233.45,486.23 2235.38,475.24 2236.48,473.31 C2237.58,471.39 2237.85,472.76 2238.79,474.96 C2239.72,477.16 2240.82,484.97 2242.09,486.51 C2243.35,488.05 2245,484.2 2246.37,484.2 C2247.75,484.2 2248.85,487.5 2250.33,486.51 C2251.82,485.52 2253.91,480.35 2255.28,478.26 C2256.66,476.17 2257.48,473.42 2258.58,473.97 C2259.68,474.52 2260.51,479.47 2261.88,481.56 C2263.26,483.65 2264.9,485.96 2266.83,486.51 C2268.75,487.06 2271.23,484.69 2273.43,484.86 C2275.63,485.02 2277.83,488.05 2280.03,487.5 C2282.23,486.95 2284.98,482 2286.62,481.56 C2288.27,481.12 2288.27,483.87 2289.92,484.86 C2291.57,485.85 2292.64,486.95 2296.52,487.5 C2300.4,488.05 2308.22,488.32 2313.2,488.16 C2318.18,487.99 2322.54,486.62 2326.39,486.51 C2330.24,486.4 2333.54,487.77 2336.29,487.5 C2339.04,487.22 2340.69,485.74 2342.89,484.86 C2345.09,483.98 2347.84,481.95 2349.49,482.22 C2351.14,482.5 2351.41,485.63 2352.79,486.51 C2354.16,487.39 2356.09,487.77 2357.74,487.5 C2359.39,487.22 2360.76,485.57 2362.69,484.86 C2364.61,484.14 2367.36,482.94 2369.28,483.21 C2371.21,483.49 2372.58,486.51 2374.23,486.51 C2375.88,486.51 2377.53,485.13 2379.18,483.21 C2380.83,481.29 2382.48,480.19 2384.13,474.96 C2385.78,469.74 2387.59,459.57 2389.08,451.87 C2390.56,444.17 2392.05,433.17 2393.04,428.77 C2394.03,424.37 2394.3,424.37 2395.02,425.47 C2395.73,426.57 2396.39,428.77 2397.33,435.37 C2398.26,441.97 2399.53,456.82 2400.63,465.06 C2401.73,473.31 2402.83,482.11 2403.93,484.86 C2405.03,487.61 2405.85,483.76 2407.23,481.56 C2408.6,479.36 2410.8,472.49 2412.17,471.66 C2413.55,470.84 2414.37,474.14 2415.47,476.61 C2416.57,479.09 2417.12,484.58 2418.77,486.51 C2420.42,488.43 2422.07,487.99 2425.37,488.16 C2428.67,488.32 2434.06,488.05 2438.57,487.5 C2443.08,486.95 2449.68,484.86 2452.42,484.86 C2455.17,484.86 2452.97,486.95 2455.06,487.5 C2457.15,488.05 2460.01,488.16 2464.96,488.16 C2469.91,488.16 2479.26,487.5 2484.76,487.5 C2490.26,487.5 2492.46,488.27 2497.95,488.16 C2503.45,488.05 2512.25,486.95 2517.75,486.84 C2523.25,486.73 2526.55,487.55 2530.95,487.5 C2535.35,487.44 2540.29,486.95 2544.14,486.51 C2547.99,486.07 2550.74,485.68 2554.04,484.86 C2557.34,484.03 2560.75,482.55 2563.94,481.56 C2567.13,480.57 2570.98,478.92 2573.18,478.92 C2575.38,478.92 2575.65,480.13 2577.14,481.56 C2578.62,482.99 2580.44,487.22 2582.09,487.5 C2583.73,487.77 2585.38,483.38 2587.03,483.21 C2588.68,483.05 2589.23,485.68 2591.98,486.51 C2594.73,487.33 2597.21,487.99 2603.53,488.16 C2609.85,488.32 2622.23,487.66 2629.92,487.5 C2637.62,487.33 2646.42,487.22 2649.72,487.17" stroke="#000" stroke-width="2.8" fill="none" stroke-linejoin="round"/>
<rect x="2042.5" y="327.2" width="607.8" height="161" fill="none" stroke="#000" stroke-width="1.3"/>
<path d="M2042.5,488.2 v-3.4 M2042.5,327.2 v3.4 M2163.8,488.2 v-3.4 M2163.8,327.2 v3.4 M2285.1,488.2 v-3.4 M2285.1,327.2 v3.4 M2406.4,488.2 v-3.4 M2406.4,327.2 v3.4 M2527.7,488.2 v-3.4 M2527.7,327.2 v3.4 M2649,488.2 v-3.4 M2649,327.2 v3.4 M2072.82,488.2 v-1.8 M2072.82,327.2 v1.8 M2103.15,488.2 v-1.8 M2103.15,327.2 v1.8 M2133.47,488.2 v-1.8 M2133.47,327.2 v1.8 M2194.12,488.2 v-1.8 M2194.12,327.2 v1.8 M2224.45,488.2 v-1.8 M2224.45,327.2 v1.8 M2254.78,488.2 v-1.8 M2254.78,327.2 v1.8 M2315.43,488.2 v-1.8 M2315.43,327.2 v1.8 M2345.75,488.2 v-1.8 M2345.75,327.2 v1.8 M2376.07,488.2 v-1.8 M2376.07,327.2 v1.8 M2436.72,488.2 v-1.8 M2436.72,327.2 v1.8 M2467.05,488.2 v-1.8 M2467.05,327.2 v1.8 M2497.38,488.2 v-1.8 M2497.38,327.2 v1.8 M2558.03,488.2 v-1.8 M2558.03,327.2 v1.8 M2588.35,488.2 v-1.8 M2588.35,327.2 v1.8 M2618.68,488.2 v-1.8 M2618.68,327.2 v1.8 M2042.5,488 h12.8 M2650.3,488 h-12.8 M2042.5,461.53 h12.8 M2650.3,461.53 h-12.8 M2042.5,435.06 h12.8 M2650.3,435.06 h-12.8 M2042.5,408.59 h12.8 M2650.3,408.59 h-12.8 M2042.5,382.12 h12.8 M2650.3,382.12 h-12.8 M2042.5,355.65 h12.8 M2650.3,355.65 h-12.8 M2042.5,329.18 h12.8 M2650.3,329.18 h-12.8 M2042.5,481.38 h6.4 M2650.3,481.38 h-6.4 M2042.5,474.76 h6.4 M2650.3,474.76 h-6.4 M2042.5,468.15 h6.4 M2650.3,468.15 h-6.4 M2042.5,454.91 h6.4 M2650.3,454.91 h-6.4 M2042.5,448.3 h6.4 M2650.3,448.3 h-6.4 M2042.5,441.68 h6.4 M2650.3,441.68 h-6.4 M2042.5,428.44 h6.4 M2650.3,428.44 h-6.4 M2042.5,421.82 h6.4 M2650.3,421.82 h-6.4 M2042.5,415.21 h6.4 M2650.3,415.21 h-6.4 M2042.5,401.97 h6.4 M2650.3,401.97 h-6.4 M2042.5,395.36 h6.4 M2650.3,395.36 h-6.4 M2042.5,388.74 h6.4 M2650.3,388.74 h-6.4 M2042.5,375.5 h6.4 M2650.3,375.5 h-6.4 M2042.5,368.88 h6.4 M2650.3,368.88 h-6.4 M2042.5,362.27 h6.4 M2650.3,362.27 h-6.4 M2042.5,349.03 h6.4 M2650.3,349.03 h-6.4 M2042.5,342.42 h6.4 M2650.3,342.42 h-6.4 M2042.5,335.8 h6.4 M2650.3,335.8 h-6.4" stroke="#000" stroke-width="1.2" fill="none"/>
<text x="2042.5" y="506.3" font-size="14.7" font-family="Liberation Sans" text-anchor="middle" >0.00</text>
<text x="2163.8" y="506.3" font-size="14.7" font-family="Liberation Sans" text-anchor="middle" >0.02</text>
<text x="2285.1" y="506.3" font-size="14.7" font-family="Liberation Sans" text-anchor="middle" >0.04</text>
<text x="2406.4" y="506.3" font-size="14.7" font-family="Liberation Sans" text-anchor="middle" >0.06</text>
<text x="2527.7" y="506.3" font-size="14.7" font-family="Liberation Sans" text-anchor="middle" >0.08</text>
<text x="2649" y="506.3" font-size="14.7" font-family="Liberation Sans" text-anchor="middle" >0.10</text>
<text x="2037.5" y="493.2" font-size="14.7" font-family="Liberation Sans" text-anchor="end" >0</text>
<text x="2037.5" y="466.73" font-size="14.7" font-family="Liberation Sans" text-anchor="end" >20</text>
<text x="2037.5" y="440.26" font-size="14.7" font-family="Liberation Sans" text-anchor="end" >40</text>
<text x="2037.5" y="413.79" font-size="14.7" font-family="Liberation Sans" text-anchor="end" >60</text>
<text x="2037.5" y="387.32" font-size="14.7" font-family="Liberation Sans" text-anchor="end" >80</text>
<text x="2037.5" y="360.85" font-size="14.7" font-family="Liberation Sans" text-anchor="end" >100</text>
<text x="2037.5" y="334.38" font-size="14.7" font-family="Liberation Sans" text-anchor="end" >120</text>
<text transform="translate(2002.9,408) rotate(-90)" font-size="14.7" font-family="Liberation Sans" text-anchor="middle" >Power</text>
<text x="2346.5" y="522.2" font-size="14.7" font-family="Liberation Sans" text-anchor="middle" >Frequency [cycles/day]</text>
<path d="M2215,334.7 V356" stroke="#777" stroke-width="1.4"/><path d="M2209.5,354.5 H2220.5 L2215,363 z" fill="#777"/>
<text x="2203" y="348" font-size="14.7" font-family="Liberation Sans" text-anchor="end" >35.1 days</text>
<text x="2634.9" y="347.9" font-size="14.7" font-family="Liberation Sans" text-anchor="end" >Lomb−Scargle periodogram</text>
<defs><clipPath id="c2t"><rect x="2998.6" y="130.0" width="566.9" height="220.4"/></clipPath></defs>
<path d="M2997.62,132.72 L2998.57,133.08 L2999.52,133.45 L3000.47,133.82 L3001.42,134.18 L3002.38,134.55 L3003.33,134.91 L3004.28,135.28 L3005.23,135.64 L3006.18,136.01 L3007.13,136.38 L3008.08,136.74 L3009.03,137.11 L3009.98,137.47 L3010.94,137.84 L3011.89,138.2 L3012.84,138.57 L3013.79,138.94 L3014.74,139.3 L3015.69,139.67 L3016.64,140.03 L3017.59,140.4 L3018.54,140.76 L3019.5,141.13 L3020.45,141.5 L3021.4,141.86 L3022.35,142.23 L3023.3,142.59 L3024.25,142.96 L3025.2,143.32 L3026.15,143.69 L3027.1,144.05 L3028.05,144.42 L3029.01,144.79 L3029.96,145.15 L3030.91,145.52 L3031.86,145.88 L3032.81,146.25 L3033.76,146.61 L3034.71,146.98 L3035.66,147.34 L3036.61,147.71 L3036.91,147.82 L3037.57,148.08 L3037.6,148.09 L3038.29,148.35 L3038.52,148.44 L3038.98,148.62 L3039.47,148.81 L3039.67,148.89 L3040.37,149.15 L3040.42,149.17 L3041.06,149.42 L3041.37,149.54 L3041.75,149.68 L3042.32,149.9 L3042.44,149.95 L3043.13,150.21 L3043.27,150.27 L3043.82,150.48 L3044.22,150.63 L3044.51,150.74 L3045.17,151 L3045.2,151.01 L3045.89,151.28 L3046.13,151.36 L3046.58,151.54 L3047.08,151.72 L3047.28,151.79 L3047.97,152.02 L3048.03,152.05 L3048.66,152.26 L3048.98,152.37 L3049.35,152.5 L3049.93,152.7 L3050.04,152.73 L3050.73,152.97 L3050.88,153.02 L3051.42,153.17 L3051.83,153.26 L3052.11,153.33 L3052.78,153.48 L3052.8,153.49 L3053.49,153.64 L3053.73,153.7 L3054.19,153.8 L3054.69,153.92 L3054.88,153.96 L3055.57,154.12 L3055.64,154.13 L3056.26,154.21 L3056.59,154.25 L3056.95,154.29 L3057.54,154.36 L3057.64,154.38 L3058.33,154.46 L3058.49,154.48 L3059.02,154.55 L3059.44,154.6 L3059.71,154.63 L3060.39,154.72 L3060.41,154.72 L3061.1,154.8 L3061.34,154.83 L3061.79,154.88 L3062.29,154.94 L3062.48,154.96 L3063.17,155.04 L3063.25,155.05 L3063.86,155.12 L3064.2,155.16 L3064.55,155.2 L3065.15,155.26 L3065.24,155.28 L3065.93,155.35 L3066.1,155.37 L3066.62,155.44 L3067.05,155.52 L3067.32,155.58 L3068,155.72 L3068.01,155.72 L3068.7,155.86 L3068.95,155.91 L3069.39,156 L3069.9,156.1 L3070.08,156.14 L3070.77,156.3 L3070.85,156.33 L3071.46,156.5 L3071.81,156.59 L3072.15,156.69 L3072.76,156.86 L3072.84,156.88 L3073.53,157.08 L3073.71,157.13 L3074.23,157.27 L3074.66,157.39 L3074.92,157.48 L3075.61,157.72 L3075.61,157.72 L3076.3,157.96 L3076.56,158.05 L3076.99,158.2 L3077.51,158.38 L3077.68,158.44 L3078.37,158.68 L3078.46,158.71 L3079.06,158.92 L3079.41,159.06 L3079.75,159.2 L3080.37,159.46 L3080.44,159.49 L3081.14,159.78 L3081.32,159.85 L3081.83,160.06 L3082.27,160.24 L3082.52,160.38 L3083.21,160.78 L3083.22,160.78 L3083.9,161.17 L3084.17,161.33 L3084.59,161.57 L3085.12,161.87 L3085.28,161.96 L3085.97,162.35 L3086.07,162.41 L3086.66,162.75 L3087.02,162.99 L3087.36,163.24 L3087.97,163.7 L3088.05,163.76 L3088.74,164.28 L3088.92,164.42 L3089.43,164.79 L3089.88,165.13 L3090.12,165.31 L3090.81,165.83 L3090.83,165.84 L3091.5,166.35 L3091.78,166.56 L3092.19,166.87 L3092.73,167.26 L3092.88,167.37 L3093.57,167.87 L3093.68,167.95 L3094.27,168.37 L3094.63,168.64 L3094.96,168.88 L3095.58,169.33 L3095.65,169.38 L3096.34,169.88 L3096.53,170.02 L3097.03,170.38 L3097.48,170.71 L3097.72,170.89 L3098.41,171.39 L3098.44,171.41 L3099.1,171.89 L3099.39,172.1 L3099.79,172.39 L3100.34,172.76 L3100.48,172.86 L3101.18,173.33 L3101.29,173.41 L3101.87,173.81 L3102.24,174.06 L3102.56,174.28 L3103.19,174.72 L3103.25,174.75 L3103.94,175.23 L3104.14,175.37 L3104.63,175.7 L3105.09,176.02 L3105.32,176.18 L3106.01,176.66 L3106.04,176.68 L3106.7,177.15 L3107,177.35 L3107.4,177.64 L3107.95,178.03 L3108.09,178.12 L3108.78,178.61 L3108.9,178.7 L3109.47,179.1 L3109.85,179.37 L3110.16,179.59 L3110.8,180.04 L3110.85,180.08 L3111.54,180.51 L3111.75,180.64 L3112.23,180.92 L3112.7,181.2 L3112.92,181.33 L3113.61,181.74 L3113.65,181.77 L3114.31,182.15 L3114.6,182.33 L3115,182.56 L3115.56,182.89 L3115.69,182.97 L3116.38,183.37 L3116.51,183.43 L3117.07,183.71 L3117.46,183.9 L3117.76,184.05 L3118.41,184.37 L3118.45,184.39 L3119.14,184.74 L3119.36,184.85 L3119.83,185.04 L3120.31,185.18 L3120.52,185.25 L3121.22,185.46 L3121.26,185.47 L3121.91,185.67 L3122.21,185.76 L3122.6,185.88 L3123.16,186.05 L3123.29,186.09 L3123.98,186.3 L3124.12,186.34 L3124.67,186.42 L3125.07,186.47 L3125.36,186.5 L3126.02,186.58 L3126.05,186.59 L3126.74,186.67 L3126.97,186.7 L3127.43,186.76 L3127.92,186.82 L3128.13,186.85 L3128.82,186.93 L3128.87,186.94 L3129.51,187.02 L3129.82,187.06 L3130.2,187.1 L3130.77,187.17 L3130.89,187.19 L3131.58,187.29 L3131.72,187.31 L3132.27,187.39 L3132.68,187.46 L3132.96,187.5 L3133.63,187.6 L3133.65,187.6 L3134.35,187.71 L3134.58,187.74 L3135.04,187.81 L3135.53,187.88 L3135.73,187.91 L3136.42,188.02 L3136.48,188.03 L3137.11,188.12 L3137.43,188.17 L3137.8,188.22 L3138.38,188.31 L3138.49,188.33 L3139.18,188.45 L3139.33,188.48 L3139.87,188.58 L3140.28,188.66 L3140.56,188.71 L3141.24,188.83 L3141.26,188.83 L3141.95,188.96 L3142.19,189.01 L3142.64,189.09 L3143.14,189.18 L3143.33,189.22 L3144.02,189.34 L3144.09,189.35 L3144.71,189.53 L3145.04,189.62 L3145.4,189.73 L3145.99,189.9 L3146.09,189.93 L3146.78,190.13 L3146.94,190.18 L3147.47,190.33 L3147.89,190.45 L3148.17,190.55 L3148.84,190.81 L3148.86,190.81 L3149.55,191.07 L3149.79,191.16 L3150.24,191.33 L3150.75,191.51 L3150.93,191.58 L3151.62,191.85 L3151.7,191.88 L3152.31,192.11 L3152.65,192.24 L3153,192.38 L3153.6,192.61 L3153.69,192.64 L3154.39,192.91 L3154.55,192.97 L3155.08,193.17 L3155.5,193.34 L3155.77,193.44 L3156.45,193.7 L3156.46,193.7 L3157.15,193.97 L3157.4,194.07 L3157.84,194.23 L3158.35,194.43 L3158.53,194.5 L3159.22,194.76 L3159.31,194.79 L3159.91,195.03 L3160.26,195.16 L3160.6,195.29 L3161.21,195.52 L3161.3,195.56 L3161.99,195.82 L3162.16,195.89 L3162.68,196.09 L3163.11,196.25 L3163.37,196.35 L3164.06,196.62 L3164.06,196.62 L3164.75,196.88 L3165.01,196.98 L3165.44,197.15 L3165.96,197.35 L3166.13,197.41 L3166.82,197.68 L3166.91,197.71 L3167.51,197.94 L3167.87,198.07 L3168.21,198.2 L3168.82,198.44 L3168.9,198.47 L3169.59,198.73 L3169.77,198.8 L3170.28,199 L3170.72,199.17 L3170.97,199.26 L3171.66,199.53 L3171.67,199.53 L3172.35,199.79 L3172.62,199.9 L3173.04,200.06 L3173.57,200.26 L3173.73,200.32 L3174.42,200.59 L3174.52,200.63 L3175.47,200.99 L3176.43,201.35 L3177.38,201.72 L3178.33,202.08 L3179.28,202.45 L3180.23,202.81 L3181.18,203.18 L3182.13,203.54 L3183.08,203.9 L3184.03,204.27 L3184.99,204.63 L3185.94,205 L3186.89,205.36 L3187.84,205.73 L3188.79,206.09 L3189.74,206.45 L3190.69,206.82 L3191.64,207.18 L3192.59,207.55 L3193.55,207.91 L3194.5,208.28 L3195.45,208.64 L3196.4,209 L3197.35,209.37 L3198.3,209.73 L3199.25,210.1 L3200.2,210.46 L3201.15,210.82 L3202.11,211.19 L3203.06,211.55 L3204.01,211.92 L3204.96,212.28 L3205.91,212.65 L3206.86,213.01 L3207.81,213.37 L3208.76,213.74 L3209.71,214.1 L3210.66,214.47 L3211.62,214.83 L3212.57,215.19 L3213.52,215.56 L3214.47,215.92 L3215.42,216.29 L3216.37,216.65 L3217.32,217.01 L3218.27,217.38 L3219.22,217.74 L3220.18,218.11 L3221.13,218.47 L3222.08,218.83 L3223.03,219.2 L3223.98,219.56 L3224.93,219.93 L3225.88,220.29 L3226.83,220.65 L3227.78,221.02 L3228.74,221.38 L3229.69,221.75 L3230.64,222.11 L3231.59,222.47 L3232.54,222.84 L3233.49,223.2 L3234.44,223.57 L3235.39,223.93 L3236.34,224.29 L3237.3,224.66 L3238.25,225.02 L3239.2,225.38 L3240.15,225.75 L3241.1,226.11 L3242.05,226.48 L3243,226.84 L3243.95,227.2 L3244.9,227.57 L3245.86,227.93 L3246.81,228.3 L3247.76,228.66 L3248.71,229.02 L3249.66,229.39 L3250.61,229.75 L3251.56,230.11 L3252.51,230.48 L3253.46,230.84 L3254.42,231.21 L3255.37,231.57 L3256.32,231.93 L3257.27,232.3 L3258.22,232.66 L3259.17,233.02 L3260.12,233.39 L3261.07,233.75 L3262.02,234.11 L3262.98,234.48 L3263.93,234.84 L3264.88,235.21 L3265.83,235.57 L3266.78,235.93 L3267.73,236.3 L3268.68,236.66 L3269.63,237.02 L3270.58,237.39 L3271.53,237.75 L3272.49,238.11 L3273.44,238.48 L3274.39,238.84 L3275.34,239.2 L3276.29,239.57 L3277.24,239.93 L3278.19,240.3 L3279.14,240.66 L3280.09,241.02 L3281.05,241.39 L3282,241.75 L3282.95,242.11 L3283.9,242.48 L3284.85,242.84 L3285.8,243.2 L3286.75,243.57 L3287.7,243.93 L3288.65,244.29 L3289.61,244.66 L3290.56,245.02 L3291.51,245.38 L3292.46,245.75 L3293.41,246.11 L3294.36,246.47 L3295.31,246.84 L3296.26,247.2 L3297.21,247.56 L3298.17,247.93 L3299.12,248.29 L3300.07,248.65 L3301.02,249.02 L3301.97,249.38 L3302.92,249.74 L3303.87,250.11 L3304.82,250.47 L3305.77,250.83 L3306.73,251.2 L3307.68,251.56 L3308.63,251.92 L3309.58,252.29 L3310.53,252.65 L3311.48,253.01 L3312.43,253.38 L3313.38,253.74 L3314.33,254.1 L3315.29,254.47 L3316.24,254.83 L3317.19,255.19 L3318.14,255.56 L3319.09,255.92 L3320.04,256.28 L3320.99,256.65 L3321.94,257.01 L3322.89,257.37 L3323.85,257.74 L3324.8,258.1 L3325.75,258.46 L3326.7,258.82 L3327.65,259.19 L3328.6,259.55 L3329.55,259.91 L3330.5,260.28 L3331.45,260.64 L3332.4,261 L3333.36,261.37 L3334.31,261.73 L3335.26,262.09 L3336.21,262.46 L3337.16,262.82 L3338.11,263.18 L3339.06,263.54 L3340.01,263.91 L3340.96,264.27 L3341.92,264.63 L3342.87,265 L3343.82,265.36 L3344.77,265.72 L3345.72,266.09 L3346.67,266.45 L3347.62,266.81 L3348.57,267.17 L3349.52,267.54 L3350.48,267.9 L3351.43,268.26 L3352.38,268.63 L3353.33,268.99 L3354.28,269.35 L3355.23,269.72 L3356.18,270.08 L3357.13,270.44 L3358.08,270.8 L3359.04,271.17 L3359.99,271.53 L3360.94,271.89 L3361.89,272.26 L3362.84,272.62 L3363.79,272.98 L3364.74,273.34 L3365.69,273.71 L3366.64,274.07 L3367.6,274.43 L3368.55,274.8 L3369.5,275.16 L3370.45,275.52 L3371.4,275.88 L3372.35,276.25 L3373.3,276.61 L3374.25,276.97 L3375.2,277.33 L3376.16,277.7 L3377.11,278.06 L3378.06,278.42 L3379.01,278.79 L3379.96,279.15 L3380.91,279.51 L3381.86,279.87 L3382.81,280.24 L3383.76,280.6 L3384.72,280.96 L3385.67,281.32 L3386.62,281.69 L3387.57,282.05 L3388.52,282.41 L3389.47,282.77 L3390.42,283.14 L3391.37,283.5 L3392.32,283.86 L3393.27,284.22 L3394.23,284.59 L3395.18,284.95 L3396.13,285.31 L3397.08,285.68 L3398.03,286.04 L3398.98,286.4 L3399.93,286.76 L3400.88,287.13 L3401.83,287.49 L3402.79,287.85 L3403.74,288.21 L3404.69,288.58 L3405.64,288.94 L3406.59,289.3 L3407.54,289.66 L3408.49,290.03 L3409.44,290.39 L3410.39,290.75 L3411.35,291.11 L3412.3,291.47 L3413.25,291.84 L3414.2,292.2 L3415.15,292.56 L3416.1,292.92 L3417.05,293.29 L3418,293.65 L3418.95,294.01 L3419.91,294.37 L3420.86,294.74 L3421.81,295.1 L3422.76,295.46 L3423.71,295.82 L3424.66,296.19 L3425.61,296.55 L3426.56,296.91 L3427.51,297.27 L3428.47,297.63 L3429.42,298 L3430.37,298.36 L3431.32,298.72 L3432.27,299.08 L3433.22,299.45 L3434.17,299.81 L3435.12,300.17 L3436.07,300.53 L3437.03,300.9 L3437.98,301.26 L3438.93,301.62 L3439.88,301.98 L3440.83,302.34 L3441.78,302.71 L3442.73,303.07 L3443.68,303.43 L3444.63,303.79 L3445.59,304.16 L3446.54,304.52 L3447.49,304.88 L3448.44,305.24 L3449.39,305.6 L3450.34,305.97 L3451.29,306.33 L3452.24,306.69 L3453.19,307.05 L3454.14,307.41 L3455.1,307.78 L3456.05,308.14 L3457,308.5 L3457.95,308.86 L3458.9,309.22 L3459.85,309.59 L3460.8,309.95 L3461.75,310.31 L3462.7,310.67 L3463.66,311.03 L3464.61,311.4 L3465.56,311.76 L3466.51,312.12 L3467.46,312.48 L3468.41,312.84 L3469.36,313.21 L3470.31,313.57 L3471.26,313.93 L3472.22,314.29 L3473.17,314.65 L3474.12,315.02 L3475.07,315.38 L3476.02,315.74 L3476.97,316.1 L3477.92,316.46 L3478.87,316.83 L3479.82,317.19 L3480.78,317.55 L3481.73,317.91 L3482.68,318.27 L3483.63,318.63 L3484.58,319 L3485.53,319.36 L3486.48,319.72 L3487.43,320.08 L3488.38,320.44 L3489.34,320.81 L3490.29,321.17 L3491.24,321.53 L3492.19,321.89 L3493.14,322.25 L3494.09,322.61 L3495.04,322.98 L3495.99,323.34 L3496.94,323.7 L3497.9,324.06 L3498.85,324.42 L3499.8,324.79 L3500.75,325.15 L3501.7,325.51 L3502.65,325.87 L3503.6,326.23 L3504.55,326.59 L3505.5,326.96 L3506.46,327.32 L3507.41,327.68 L3508.36,328.04 L3509.31,328.4 L3510.26,328.76 L3511.21,329.13 L3512.16,329.49 L3513.11,329.85 L3514.06,330.21 L3515.01,330.57 L3515.97,330.93 L3516.92,331.29 L3517.87,331.66 L3518.82,332.02 L3519.77,332.38 L3520.72,332.74 L3521.67,333.1 L3522.62,333.46 L3523.57,333.83 L3524.53,334.19 L3525.48,334.55 L3526.43,334.91 L3527.38,335.27 L3528.33,335.63 L3529.28,335.99 L3530.23,336.36 L3531.18,336.72 L3532.13,337.08 L3533.09,337.44 L3534.04,337.8 L3534.99,338.16 L3535.94,338.52 L3536.89,338.89 L3537.84,339.25 L3538.79,339.61 L3539.74,339.97 L3540.69,340.33 L3541.65,340.69 L3542.6,341.05 L3543.55,341.42 L3544.5,341.78 L3545.45,342.14 L3546.4,342.5 L3547.35,342.86 L3548.3,343.22 L3549.25,343.58 L3550.21,343.94 L3551.16,344.31 L3552.11,344.67 L3553.06,345.03 L3554.01,345.39 L3554.96,345.75 L3555.91,346.11 L3556.86,346.47 L3557.81,346.84 L3558.77,347.2 L3559.72,347.56 L3560.67,347.92 L3561.62,348.28 L3562.57,348.64 L3563.52,349 L3564.47,349.36 L3565.42,349.72 L3566.37,350.09 L3567.32,350.45" stroke="#6e6e6e" stroke-width="1.5" fill="none" clip-path="url(#c2t)"/>
<rect x="3017.3" y="139" width="157.5" height="59.2" fill="none" stroke="#cd5c5c" stroke-width="1.3" stroke-dasharray="1.3 3.2"/>
<rect x="3388.6" y="281.5" width="157.7" height="59.3" fill="none" stroke="#228b22" stroke-width="1.3" stroke-dasharray="1.3 3.2"/>
<text x="3095" y="218.1" font-size="17.7" font-family="Liberation Sans" text-anchor="middle" fill="#c0504d">Night 1</text>
<text x="3467" y="272.2" font-size="17.7" font-family="Liberation Sans" text-anchor="middle" fill="#228b22">Night 2</text>
<circle cx="3039.46" cy="148.87" r="3.3" fill="#00008b"/>
<circle cx="3044.89" cy="150.83" r="3.3" fill="#00008b"/>
<circle cx="3050.43" cy="153.25" r="3.3" fill="#00008b"/>
<circle cx="3055.77" cy="153.95" r="3.3" fill="#00008b"/>
<circle cx="3061.27" cy="154.74" r="3.3" fill="#00008b"/>
<circle cx="3066.65" cy="155.32" r="3.3" fill="#00008b"/>
<circle cx="3073.76" cy="157.17" r="3.3" fill="#00008b"/>
<circle cx="3079.19" cy="159.07" r="3.3" fill="#00008b"/>
<circle cx="3086.85" cy="162.95" r="3.3" fill="#00008b"/>
<circle cx="3092.19" cy="166.96" r="3.3" fill="#00008b"/>
<circle cx="3099.77" cy="172.37" r="3.3" fill="#00008b"/>
<circle cx="3105.59" cy="176.26" r="3.3" fill="#00008b"/>
<circle cx="3111.17" cy="180.4" r="3.3" fill="#00008b"/>
<circle cx="3116.35" cy="183.35" r="3.3" fill="#00008b"/>
<circle cx="3432.84" cy="299.25" r="3.3" fill="#00008b"/>
<circle cx="3454.01" cy="307.07" r="3.3" fill="#00008b"/>
<circle cx="3513.69" cy="330.38" r="3.3" fill="#00008b"/>
<rect x="2998.6" y="130.0" width="566.9" height="220.4" fill="none" stroke="#000" stroke-width="1.4"/>
<path d="M2997.62,350.4 v-4.4 M2997.62,130 v4.4 M3076.2,350.4 v-4.4 M3076.2,130 v4.4 M3154.78,350.4 v-4.4 M3154.78,130 v4.4 M3233.36,350.4 v-4.4 M3233.36,130 v4.4 M3311.94,350.4 v-4.4 M3311.94,130 v4.4 M3390.52,350.4 v-4.4 M3390.52,130 v4.4 M3469.1,350.4 v-4.4 M3469.1,130 v4.4 M3547.68,350.4 v-4.4 M3547.68,130 v4.4 M3017.26,350.4 v-2.2 M3017.26,130 v2.2 M3036.91,350.4 v-2.2 M3036.91,130 v2.2 M3056.55,350.4 v-2.2 M3056.55,130 v2.2 M3095.84,350.4 v-2.2 M3095.84,130 v2.2 M3115.49,350.4 v-2.2 M3115.49,130 v2.2 M3135.13,350.4 v-2.2 M3135.13,130 v2.2 M3174.42,350.4 v-2.2 M3174.42,130 v2.2 M3194.07,350.4 v-2.2 M3194.07,130 v2.2 M3213.71,350.4 v-2.2 M3213.71,130 v2.2 M3253,350.4 v-2.2 M3253,130 v2.2 M3272.65,350.4 v-2.2 M3272.65,130 v2.2 M3292.29,350.4 v-2.2 M3292.29,130 v2.2 M3331.59,350.4 v-2.2 M3331.59,130 v2.2 M3351.23,350.4 v-2.2 M3351.23,130 v2.2 M3370.88,350.4 v-2.2 M3370.88,130 v2.2 M3410.16,350.4 v-2.2 M3410.16,130 v2.2 M3429.81,350.4 v-2.2 M3429.81,130 v2.2 M3449.45,350.4 v-2.2 M3449.45,130 v2.2 M3488.74,350.4 v-2.2 M3488.74,130 v2.2 M3508.39,350.4 v-2.2 M3508.39,130 v2.2 M3528.03,350.4 v-2.2 M3528.03,130 v2.2 M3567.32,350.4 v-2.2 M3567.32,130 v2.2 M2998.6,337 h11.3 M3565.5,337 h-11.3 M2998.6,287.5 h11.3 M3565.5,287.5 h-11.3 M2998.6,238 h11.3 M3565.5,238 h-11.3 M2998.6,188.5 h11.3 M3565.5,188.5 h-11.3 M2998.6,139 h11.3 M3565.5,139 h-11.3 M2998.6,346.9 h5.7 M3565.5,346.9 h-5.7 M2998.6,327.1 h5.7 M3565.5,327.1 h-5.7 M2998.6,317.2 h5.7 M3565.5,317.2 h-5.7 M2998.6,307.3 h5.7 M3565.5,307.3 h-5.7 M2998.6,297.4 h5.7 M3565.5,297.4 h-5.7 M2998.6,277.6 h5.7 M3565.5,277.6 h-5.7 M2998.6,267.7 h5.7 M3565.5,267.7 h-5.7 M2998.6,257.8 h5.7 M3565.5,257.8 h-5.7 M2998.6,247.9 h5.7 M3565.5,247.9 h-5.7 M2998.6,228.1 h5.7 M3565.5,228.1 h-5.7 M2998.6,218.2 h5.7 M3565.5,218.2 h-5.7 M2998.6,208.3 h5.7 M3565.5,208.3 h-5.7 M2998.6,198.4 h5.7 M3565.5,198.4 h-5.7 M2998.6,178.6 h5.7 M3565.5,178.6 h-5.7 M2998.6,168.7 h5.7 M3565.5,168.7 h-5.7 M2998.6,158.8 h5.7 M3565.5,158.8 h-5.7 M2998.6,148.9 h5.7 M3565.5,148.9 h-5.7 M2998.6,129.1 h5.7 M3565.5,129.1 h-5.7" stroke="#000" stroke-width="1.2" fill="none"/>
<text x="2997.62" y="373.2" font-size="17.7" font-family="Liberation Sans" text-anchor="middle" >−0.2</text>
<text x="3076.2" y="373.2" font-size="17.7" font-family="Liberation Sans" text-anchor="middle" >0.0</text>
<text x="3154.78" y="373.2" font-size="17.7" font-family="Liberation Sans" text-anchor="middle" >0.2</text>
<text x="3233.36" y="373.2" font-size="17.7" font-family="Liberation Sans" text-anchor="middle" >0.4</text>
<text x="3311.94" y="373.2" font-size="17.7" font-family="Liberation Sans" text-anchor="middle" >0.6</text>
<text x="3390.52" y="373.2" font-size="17.7" font-family="Liberation Sans" text-anchor="middle" >0.8</text>
<text x="3469.1" y="373.2" font-size="17.7" font-family="Liberation Sans" text-anchor="middle" >1.0</text>
<text x="3547.68" y="373.2" font-size="17.7" font-family="Liberation Sans" text-anchor="middle" >1.2</text>
<text x="2991.8" y="145.3" font-size="17.7" font-family="Liberation Sans" text-anchor="end" >500</text>
<text x="2991.8" y="194.8" font-size="17.7" font-family="Liberation Sans" text-anchor="end" >0</text>
<text x="2991.8" y="244.3" font-size="17.7" font-family="Liberation Sans" text-anchor="end" >−500</text>
<text x="2991.8" y="293.8" font-size="17.7" font-family="Liberation Sans" text-anchor="end" >−1000</text>
<text x="2991.8" y="343.3" font-size="17.7" font-family="Liberation Sans" text-anchor="end" >−1500</text>
<text transform="translate(2929,238.7) rotate(-90)" font-size="17.7" font-family="Liberation Sans" text-anchor="middle">RV [m s<tspan font-size="11" dy="-7">−1</tspan><tspan dy="7">]</tspan></text>
<path d="M2998.45,510.8 C3007.04,510.8 3040.13,511.35 3049.96,510.8 C3059.79,510.25 3054.87,510.21 3057.43,507.47 C3059.99,504.73 3062.43,500.92 3065.31,494.36 C3068.18,487.8 3071.51,477.18 3074.69,468.12 C3077.88,459.07 3081.67,446.91 3084.42,440.04 C3087.17,433.17 3088.82,430.5 3091.2,426.92 C3093.57,423.35 3096.17,420.49 3098.67,418.61 C3101.17,416.73 3104.01,415.84 3106.2,415.65 C3108.39,415.47 3109.57,414.58 3111.82,417.5 C3114.07,420.43 3116.82,424.46 3119.69,433.21 C3122.57,441.95 3125.33,455.84 3129.08,469.97 C3132.82,484.1 3138.29,504.55 3142.16,518.01 C3146.03,531.46 3148.99,539.65 3152.3,550.71 C3155.61,561.76 3158.92,575.4 3162.03,584.33 C3165.13,593.26 3168.46,599.76 3170.93,604.28 C3173.41,608.81 3174.59,611.4 3176.89,611.49 C3179.2,611.58 3181.48,611.43 3184.77,604.84 C3188.06,598.25 3192.45,582.91 3196.62,571.95 C3200.79,560.99 3205.93,548.09 3209.77,539.07 C3213.62,530.04 3216.95,522.44 3219.7,517.82 C3222.46,513.2 3224.34,512.52 3226.28,511.35 C3228.22,510.18 3223.66,510.89 3231.35,510.8 C3239.04,510.71 3265.6,510.8 3272.45,510.8" stroke="#6e6e6e" stroke-width="1.5" fill="none"/>
<path d="M3290.3,510.8 H3564.8" stroke="#6e6e6e" stroke-width="1.5"/>
<path d="M2998.6,677.1 H3273.0 M3290.3,677.1 H3564.8" stroke="#888" stroke-width="2"/>
<path d="M3037.15,691.32 V669.52 M3046.61,683 V661 M3056.26,717.68 V695.68 M3065.58,691.42 V669.42 M3075.17,681.9 V657.9 M3084.55,669.58 V648.58 M3096.95,695.91 V673.91 M3106.41,691.21 V668.41 M3119.76,671.31 V649.31 M3129.08,700.19 V677.38 M3142.3,695.91 V673.91 M3152.44,674.93 V646.93 M3162.16,686.41 V663.61 M3171.21,682.83 V658.83 M3364.18,690.59 V657.59 M3401.16,676.87 V640.67 M3505.36,711.6 V680.6 M3364.18,514.88 V504.91 M3401.16,510.28 V500.31 M3505.36,521.5 V511.52" stroke="#00008b" stroke-width="1.8"/>
<circle cx="3037.15" cy="512" r="3.4" fill="#00008b"/>
<circle cx="3037.15" cy="680.42" r="3.4" fill="#00008b"/>
<circle cx="3046.61" cy="509.69" r="3.4" fill="#00008b"/>
<circle cx="3046.61" cy="672" r="3.4" fill="#00008b"/>
<circle cx="3056.26" cy="515.23" r="3.4" fill="#00008b"/>
<circle cx="3056.26" cy="706.68" r="3.4" fill="#00008b"/>
<circle cx="3065.58" cy="489.92" r="3.4" fill="#00008b"/>
<circle cx="3065.58" cy="680.42" r="3.4" fill="#00008b"/>
<circle cx="3075.17" cy="465.17" r="3.4" fill="#00008b"/>
<circle cx="3075.17" cy="669.9" r="3.4" fill="#00008b"/>
<circle cx="3084.55" cy="437.45" r="3.4" fill="#00008b"/>
<circle cx="3084.55" cy="659.08" r="3.4" fill="#00008b"/>
<circle cx="3096.95" cy="421.01" r="3.4" fill="#00008b"/>
<circle cx="3096.95" cy="684.91" r="3.4" fill="#00008b"/>
<circle cx="3106.41" cy="417.69" r="3.4" fill="#00008b"/>
<circle cx="3106.41" cy="679.81" r="3.4" fill="#00008b"/>
<circle cx="3119.76" cy="435.24" r="3.4" fill="#00008b"/>
<circle cx="3119.76" cy="660.31" r="3.4" fill="#00008b"/>
<circle cx="3129.08" cy="471.63" r="3.4" fill="#00008b"/>
<circle cx="3129.08" cy="688.78" r="3.4" fill="#00008b"/>
<circle cx="3142.3" cy="518.37" r="3.4" fill="#00008b"/>
<circle cx="3142.3" cy="684.91" r="3.4" fill="#00008b"/>
<circle cx="3152.44" cy="549.41" r="3.4" fill="#00008b"/>
<circle cx="3152.44" cy="660.93" r="3.4" fill="#00008b"/>
<circle cx="3162.16" cy="586.55" r="3.4" fill="#00008b"/>
<circle cx="3162.16" cy="675.01" r="3.4" fill="#00008b"/>
<circle cx="3171.21" cy="604.47" r="3.4" fill="#00008b"/>
<circle cx="3171.21" cy="670.83" r="3.4" fill="#00008b"/>
<circle cx="3364.18" cy="509.89" r="3.4" fill="#00008b"/>
<circle cx="3364.18" cy="674.09" r="3.4" fill="#00008b"/>
<circle cx="3401.16" cy="505.29" r="3.4" fill="#00008b"/>
<circle cx="3401.16" cy="658.77" r="3.4" fill="#00008b"/>
<circle cx="3505.36" cy="516.51" r="3.4" fill="#00008b"/>
<circle cx="3505.36" cy="696.1" r="3.4" fill="#00008b"/>
<rect x="2998.6" y="400.6" width="274.4" height="220.9" fill="none" stroke="#000" stroke-width="1.4"/>
<rect x="2998.6" y="621.5" width="274.4" height="110.4" fill="none" stroke="#000" stroke-width="1.4"/>
<path d="M3032.7,621.5 v-4.4 M3032.7,400.6 v4.4 M3101.2,621.5 v-4.4 M3101.2,400.6 v4.4 M3169.7,621.5 v-4.4 M3169.7,400.6 v4.4 M3238.2,621.5 v-4.4 M3238.2,400.6 v4.4 M2998.45,621.5 v-2.2 M2998.45,400.6 v2.2 M3005.3,621.5 v-2.2 M3005.3,400.6 v2.2 M3012.15,621.5 v-2.2 M3012.15,400.6 v2.2 M3019,621.5 v-2.2 M3019,400.6 v2.2 M3025.85,621.5 v-2.2 M3025.85,400.6 v2.2 M3039.55,621.5 v-2.2 M3039.55,400.6 v2.2 M3046.4,621.5 v-2.2 M3046.4,400.6 v2.2 M3053.25,621.5 v-2.2 M3053.25,400.6 v2.2 M3060.1,621.5 v-2.2 M3060.1,400.6 v2.2 M3066.95,621.5 v-2.2 M3066.95,400.6 v2.2 M3073.8,621.5 v-2.2 M3073.8,400.6 v2.2 M3080.65,621.5 v-2.2 M3080.65,400.6 v2.2 M3087.5,621.5 v-2.2 M3087.5,400.6 v2.2 M3094.35,621.5 v-2.2 M3094.35,400.6 v2.2 M3108.05,621.5 v-2.2 M3108.05,400.6 v2.2 M3114.9,621.5 v-2.2 M3114.9,400.6 v2.2 M3121.75,621.5 v-2.2 M3121.75,400.6 v2.2 M3128.6,621.5 v-2.2 M3128.6,400.6 v2.2 M3135.45,621.5 v-2.2 M3135.45,400.6 v2.2 M3142.3,621.5 v-2.2 M3142.3,400.6 v2.2 M3149.15,621.5 v-2.2 M3149.15,400.6 v2.2 M3156,621.5 v-2.2 M3156,400.6 v2.2 M3162.85,621.5 v-2.2 M3162.85,400.6 v2.2 M3176.55,621.5 v-2.2 M3176.55,400.6 v2.2 M3183.4,621.5 v-2.2 M3183.4,400.6 v2.2 M3190.25,621.5 v-2.2 M3190.25,400.6 v2.2 M3197.1,621.5 v-2.2 M3197.1,400.6 v2.2 M3203.95,621.5 v-2.2 M3203.95,400.6 v2.2 M3210.8,621.5 v-2.2 M3210.8,400.6 v2.2 M3217.65,621.5 v-2.2 M3217.65,400.6 v2.2 M3224.5,621.5 v-2.2 M3224.5,400.6 v2.2 M3231.35,621.5 v-2.2 M3231.35,400.6 v2.2 M3245.05,621.5 v-2.2 M3245.05,400.6 v2.2 M3251.9,621.5 v-2.2 M3251.9,400.6 v2.2 M3258.75,621.5 v-2.2 M3258.75,400.6 v2.2 M3265.6,621.5 v-2.2 M3265.6,400.6 v2.2 M3272.45,621.5 v-2.2 M3272.45,400.6 v2.2 M2998.6,584.7 h5.5 M3273,584.7 h-5.5 M2998.6,547.75 h5.5 M3273,547.75 h-5.5 M2998.6,510.8 h5.5 M3273,510.8 h-5.5 M2998.6,473.85 h5.5 M3273,473.85 h-5.5 M2998.6,436.9 h5.5 M3273,436.9 h-5.5 M2998.6,612.41 h2.8 M3273,612.41 h-2.8 M2998.6,603.17 h2.8 M3273,603.17 h-2.8 M2998.6,593.94 h2.8 M3273,593.94 h-2.8 M2998.6,575.46 h2.8 M3273,575.46 h-2.8 M2998.6,566.23 h2.8 M3273,566.23 h-2.8 M2998.6,556.99 h2.8 M3273,556.99 h-2.8 M2998.6,538.51 h2.8 M3273,538.51 h-2.8 M2998.6,529.27 h2.8 M3273,529.27 h-2.8 M2998.6,520.04 h2.8 M3273,520.04 h-2.8 M2998.6,501.56 h2.8 M3273,501.56 h-2.8 M2998.6,492.32 h2.8 M3273,492.32 h-2.8 M2998.6,483.09 h2.8 M3273,483.09 h-2.8 M2998.6,464.61 h2.8 M3273,464.61 h-2.8 M2998.6,455.38 h2.8 M3273,455.38 h-2.8 M2998.6,446.14 h2.8 M3273,446.14 h-2.8 M2998.6,427.66 h2.8 M3273,427.66 h-2.8 M2998.6,418.43 h2.8 M3273,418.43 h-2.8 M2998.6,409.19 h2.8 M3273,409.19 h-2.8 M3032.7,731.9 v-2.2 M3032.7,621.5 v2.2 M3101.2,731.9 v-2.2 M3101.2,621.5 v2.2 M3169.7,731.9 v-2.2 M3169.7,621.5 v2.2 M3238.2,731.9 v-2.2 M3238.2,621.5 v2.2 M2998.45,731.9 v-1.1 M2998.45,621.5 v1.1 M3005.3,731.9 v-1.1 M3005.3,621.5 v1.1 M3012.15,731.9 v-1.1 M3012.15,621.5 v1.1 M3019,731.9 v-1.1 M3019,621.5 v1.1 M3025.85,731.9 v-1.1 M3025.85,621.5 v1.1 M3039.55,731.9 v-1.1 M3039.55,621.5 v1.1 M3046.4,731.9 v-1.1 M3046.4,621.5 v1.1 M3053.25,731.9 v-1.1 M3053.25,621.5 v1.1 M3060.1,731.9 v-1.1 M3060.1,621.5 v1.1 M3066.95,731.9 v-1.1 M3066.95,621.5 v1.1 M3073.8,731.9 v-1.1 M3073.8,621.5 v1.1 M3080.65,731.9 v-1.1 M3080.65,621.5 v1.1 M3087.5,731.9 v-1.1 M3087.5,621.5 v1.1 M3094.35,731.9 v-1.1 M3094.35,621.5 v1.1 M3108.05,731.9 v-1.1 M3108.05,621.5 v1.1 M3114.9,731.9 v-1.1 M3114.9,621.5 v1.1 M3121.75,731.9 v-1.1 M3121.75,621.5 v1.1 M3128.6,731.9 v-1.1 M3128.6,621.5 v1.1 M3135.45,731.9 v-1.1 M3135.45,621.5 v1.1 M3142.3,731.9 v-1.1 M3142.3,621.5 v1.1 M3149.15,731.9 v-1.1 M3149.15,621.5 v1.1 M3156,731.9 v-1.1 M3156,621.5 v1.1 M3162.85,731.9 v-1.1 M3162.85,621.5 v1.1 M3176.55,731.9 v-1.1 M3176.55,621.5 v1.1 M3183.4,731.9 v-1.1 M3183.4,621.5 v1.1 M3190.25,731.9 v-1.1 M3190.25,621.5 v1.1 M3197.1,731.9 v-1.1 M3197.1,621.5 v1.1 M3203.95,731.9 v-1.1 M3203.95,621.5 v1.1 M3210.8,731.9 v-1.1 M3210.8,621.5 v1.1 M3217.65,731.9 v-1.1 M3217.65,621.5 v1.1 M3224.5,731.9 v-1.1 M3224.5,621.5 v1.1 M3231.35,731.9 v-1.1 M3231.35,621.5 v1.1 M3245.05,731.9 v-1.1 M3245.05,621.5 v1.1 M3251.9,731.9 v-1.1 M3251.9,621.5 v1.1 M3258.75,731.9 v-1.1 M3258.75,621.5 v1.1 M3265.6,731.9 v-1.1 M3265.6,621.5 v1.1 M3272.45,731.9 v-1.1 M3272.45,621.5 v1.1 M2998.6,707.85 h5.5 M3273,707.85 h-5.5 M2998.6,677.1 h5.5 M3273,677.1 h-5.5 M2998.6,646.35 h5.5 M3273,646.35 h-5.5 M2998.6,732.45 h2.8 M3273,732.45 h-2.8 M2998.6,726.3 h2.8 M3273,726.3 h-2.8 M2998.6,720.15 h2.8 M3273,720.15 h-2.8 M2998.6,714 h2.8 M3273,714 h-2.8 M2998.6,701.7 h2.8 M3273,701.7 h-2.8 M2998.6,695.55 h2.8 M3273,695.55 h-2.8 M2998.6,689.4 h2.8 M3273,689.4 h-2.8 M2998.6,683.25 h2.8 M3273,683.25 h-2.8 M2998.6,670.95 h2.8 M3273,670.95 h-2.8 M2998.6,664.8 h2.8 M3273,664.8 h-2.8 M2998.6,658.65 h2.8 M3273,658.65 h-2.8 M2998.6,652.5 h2.8 M3273,652.5 h-2.8 M2998.6,640.2 h2.8 M3273,640.2 h-2.8 M2998.6,634.05 h2.8 M3273,634.05 h-2.8 M2998.6,627.9 h2.8 M3273,627.9 h-2.8 M2998.6,621.75 h2.8 M3273,621.75 h-2.8" stroke="#000" stroke-width="1.1" fill="none"/>
<rect x="3290.3" y="400.6" width="274.5" height="220.9" fill="none" stroke="#000" stroke-width="1.4"/>
<rect x="3290.3" y="621.5" width="274.5" height="110.4" fill="none" stroke="#000" stroke-width="1.4"/>
<path d="M3290.3,621.5 v-4.4 M3290.3,400.6 v4.4 M3358.9,621.5 v-4.4 M3358.9,400.6 v4.4 M3427.5,621.5 v-4.4 M3427.5,400.6 v4.4 M3496.1,621.5 v-4.4 M3496.1,400.6 v4.4 M3564.7,621.5 v-4.4 M3564.7,400.6 v4.4 M3297.16,621.5 v-2.2 M3297.16,400.6 v2.2 M3304.02,621.5 v-2.2 M3304.02,400.6 v2.2 M3310.88,621.5 v-2.2 M3310.88,400.6 v2.2 M3317.74,621.5 v-2.2 M3317.74,400.6 v2.2 M3324.6,621.5 v-2.2 M3324.6,400.6 v2.2 M3331.46,621.5 v-2.2 M3331.46,400.6 v2.2 M3338.32,621.5 v-2.2 M3338.32,400.6 v2.2 M3345.18,621.5 v-2.2 M3345.18,400.6 v2.2 M3352.04,621.5 v-2.2 M3352.04,400.6 v2.2 M3365.76,621.5 v-2.2 M3365.76,400.6 v2.2 M3372.62,621.5 v-2.2 M3372.62,400.6 v2.2 M3379.48,621.5 v-2.2 M3379.48,400.6 v2.2 M3386.34,621.5 v-2.2 M3386.34,400.6 v2.2 M3393.2,621.5 v-2.2 M3393.2,400.6 v2.2 M3400.06,621.5 v-2.2 M3400.06,400.6 v2.2 M3406.92,621.5 v-2.2 M3406.92,400.6 v2.2 M3413.78,621.5 v-2.2 M3413.78,400.6 v2.2 M3420.64,621.5 v-2.2 M3420.64,400.6 v2.2 M3434.36,621.5 v-2.2 M3434.36,400.6 v2.2 M3441.22,621.5 v-2.2 M3441.22,400.6 v2.2 M3448.08,621.5 v-2.2 M3448.08,400.6 v2.2 M3454.94,621.5 v-2.2 M3454.94,400.6 v2.2 M3461.8,621.5 v-2.2 M3461.8,400.6 v2.2 M3468.66,621.5 v-2.2 M3468.66,400.6 v2.2 M3475.52,621.5 v-2.2 M3475.52,400.6 v2.2 M3482.38,621.5 v-2.2 M3482.38,400.6 v2.2 M3489.24,621.5 v-2.2 M3489.24,400.6 v2.2 M3502.96,621.5 v-2.2 M3502.96,400.6 v2.2 M3509.82,621.5 v-2.2 M3509.82,400.6 v2.2 M3516.68,621.5 v-2.2 M3516.68,400.6 v2.2 M3523.54,621.5 v-2.2 M3523.54,400.6 v2.2 M3530.4,621.5 v-2.2 M3530.4,400.6 v2.2 M3537.26,621.5 v-2.2 M3537.26,400.6 v2.2 M3544.12,621.5 v-2.2 M3544.12,400.6 v2.2 M3550.98,621.5 v-2.2 M3550.98,400.6 v2.2 M3557.84,621.5 v-2.2 M3557.84,400.6 v2.2 M3290.3,584.7 h5.5 M3564.8,584.7 h-5.5 M3290.3,547.75 h5.5 M3564.8,547.75 h-5.5 M3290.3,510.8 h5.5 M3564.8,510.8 h-5.5 M3290.3,473.85 h5.5 M3564.8,473.85 h-5.5 M3290.3,436.9 h5.5 M3564.8,436.9 h-5.5 M3290.3,612.41 h2.8 M3564.8,612.41 h-2.8 M3290.3,603.17 h2.8 M3564.8,603.17 h-2.8 M3290.3,593.94 h2.8 M3564.8,593.94 h-2.8 M3290.3,575.46 h2.8 M3564.8,575.46 h-2.8 M3290.3,566.23 h2.8 M3564.8,566.23 h-2.8 M3290.3,556.99 h2.8 M3564.8,556.99 h-2.8 M3290.3,538.51 h2.8 M3564.8,538.51 h-2.8 M3290.3,529.27 h2.8 M3564.8,529.27 h-2.8 M3290.3,520.04 h2.8 M3564.8,520.04 h-2.8 M3290.3,501.56 h2.8 M3564.8,501.56 h-2.8 M3290.3,492.32 h2.8 M3564.8,492.32 h-2.8 M3290.3,483.09 h2.8 M3564.8,483.09 h-2.8 M3290.3,464.61 h2.8 M3564.8,464.61 h-2.8 M3290.3,455.38 h2.8 M3564.8,455.38 h-2.8 M3290.3,446.14 h2.8 M3564.8,446.14 h-2.8 M3290.3,427.66 h2.8 M3564.8,427.66 h-2.8 M3290.3,418.43 h2.8 M3564.8,418.43 h-2.8 M3290.3,409.19 h2.8 M3564.8,409.19 h-2.8 M3290.3,731.9 v-2.2 M3290.3,621.5 v2.2 M3358.9,731.9 v-2.2 M3358.9,621.5 v2.2 M3427.5,731.9 v-2.2 M3427.5,621.5 v2.2 M3496.1,731.9 v-2.2 M3496.1,621.5 v2.2 M3564.7,731.9 v-2.2 M3564.7,621.5 v2.2 M3297.16,731.9 v-1.1 M3297.16,621.5 v1.1 M3304.02,731.9 v-1.1 M3304.02,621.5 v1.1 M3310.88,731.9 v-1.1 M3310.88,621.5 v1.1 M3317.74,731.9 v-1.1 M3317.74,621.5 v1.1 M3324.6,731.9 v-1.1 M3324.6,621.5 v1.1 M3331.46,731.9 v-1.1 M3331.46,621.5 v1.1 M3338.32,731.9 v-1.1 M3338.32,621.5 v1.1 M3345.18,731.9 v-1.1 M3345.18,621.5 v1.1 M3352.04,731.9 v-1.1 M3352.04,621.5 v1.1 M3365.76,731.9 v-1.1 M3365.76,621.5 v1.1 M3372.62,731.9 v-1.1 M3372.62,621.5 v1.1 M3379.48,731.9 v-1.1 M3379.48,621.5 v1.1 M3386.34,731.9 v-1.1 M3386.34,621.5 v1.1 M3393.2,731.9 v-1.1 M3393.2,621.5 v1.1 M3400.06,731.9 v-1.1 M3400.06,621.5 v1.1 M3406.92,731.9 v-1.1 M3406.92,621.5 v1.1 M3413.78,731.9 v-1.1 M3413.78,621.5 v1.1 M3420.64,731.9 v-1.1 M3420.64,621.5 v1.1 M3434.36,731.9 v-1.1 M3434.36,621.5 v1.1 M3441.22,731.9 v-1.1 M3441.22,621.5 v1.1 M3448.08,731.9 v-1.1 M3448.08,621.5 v1.1 M3454.94,731.9 v-1.1 M3454.94,621.5 v1.1 M3461.8,731.9 v-1.1 M3461.8,621.5 v1.1 M3468.66,731.9 v-1.1 M3468.66,621.5 v1.1 M3475.52,731.9 v-1.1 M3475.52,621.5 v1.1 M3482.38,731.9 v-1.1 M3482.38,621.5 v1.1 M3489.24,731.9 v-1.1 M3489.24,621.5 v1.1 M3502.96,731.9 v-1.1 M3502.96,621.5 v1.1 M3509.82,731.9 v-1.1 M3509.82,621.5 v1.1 M3516.68,731.9 v-1.1 M3516.68,621.5 v1.1 M3523.54,731.9 v-1.1 M3523.54,621.5 v1.1 M3530.4,731.9 v-1.1 M3530.4,621.5 v1.1 M3537.26,731.9 v-1.1 M3537.26,621.5 v1.1 M3544.12,731.9 v-1.1 M3544.12,621.5 v1.1 M3550.98,731.9 v-1.1 M3550.98,621.5 v1.1 M3557.84,731.9 v-1.1 M3557.84,621.5 v1.1 M3290.3,707.85 h5.5 M3564.8,707.85 h-5.5 M3290.3,677.1 h5.5 M3564.8,677.1 h-5.5 M3290.3,646.35 h5.5 M3564.8,646.35 h-5.5 M3290.3,732.45 h2.8 M3564.8,732.45 h-2.8 M3290.3,726.3 h2.8 M3564.8,726.3 h-2.8 M3290.3,720.15 h2.8 M3564.8,720.15 h-2.8 M3290.3,714 h2.8 M3564.8,714 h-2.8 M3290.3,701.7 h2.8 M3564.8,701.7 h-2.8 M3290.3,695.55 h2.8 M3564.8,695.55 h-2.8 M3290.3,689.4 h2.8 M3564.8,689.4 h-2.8 M3290.3,683.25 h2.8 M3564.8,683.25 h-2.8 M3290.3,670.95 h2.8 M3564.8,670.95 h-2.8 M3290.3,664.8 h2.8 M3564.8,664.8 h-2.8 M3290.3,658.65 h2.8 M3564.8,658.65 h-2.8 M3290.3,652.5 h2.8 M3564.8,652.5 h-2.8 M3290.3,640.2 h2.8 M3564.8,640.2 h-2.8 M3290.3,634.05 h2.8 M3564.8,634.05 h-2.8 M3290.3,627.9 h2.8 M3564.8,627.9 h-2.8 M3290.3,621.75 h2.8 M3564.8,621.75 h-2.8" stroke="#000" stroke-width="1.1" fill="none"/>
<text x="3032.7" y="755.4" font-size="17.7" font-family="Liberation Sans" text-anchor="middle" >−0.1</text>
<text x="3101.2" y="755.4" font-size="17.7" font-family="Liberation Sans" text-anchor="middle" >0.0</text>
<text x="3169.7" y="755.4" font-size="17.7" font-family="Liberation Sans" text-anchor="middle" >0.1</text>
<text x="3238.2" y="755.4" font-size="17.7" font-family="Liberation Sans" text-anchor="middle" >0.2</text>
<text x="3290.3" y="755.4" font-size="17.7" font-family="Liberation Sans" text-anchor="middle" >0.8</text>
<text x="3358.9" y="755.4" font-size="17.7" font-family="Liberation Sans" text-anchor="middle" >0.9</text>
<text x="3427.5" y="755.4" font-size="17.7" font-family="Liberation Sans" text-anchor="middle" >1.0</text>
<text x="3496.1" y="755.4" font-size="17.7" font-family="Liberation Sans" text-anchor="middle" >1.1</text>
<text x="3564.7" y="755.4" font-size="17.7" font-family="Liberation Sans" text-anchor="middle" >1.2</text>
<text x="2993.7" y="443.2" font-size="17.7" font-family="Liberation Sans" text-anchor="end" >40</text>
<text x="2993.7" y="480.15" font-size="17.7" font-family="Liberation Sans" text-anchor="end" >20</text>
<text x="2993.7" y="517.1" font-size="17.7" font-family="Liberation Sans" text-anchor="end" >0</text>
<text x="2993.7" y="554.05" font-size="17.7" font-family="Liberation Sans" text-anchor="end" >−20</text>
<text x="2993.7" y="591" font-size="17.7" font-family="Liberation Sans" text-anchor="end" >−40</text>
<text x="2993" y="652.65" font-size="17.7" font-family="Liberation Sans" text-anchor="end" >5</text>
<text x="2993" y="683.4" font-size="17.7" font-family="Liberation Sans" text-anchor="end" >0</text>
<text x="2993" y="714.15" font-size="17.7" font-family="Liberation Sans" text-anchor="end" >−5</text>
<text x="3281.8" y="778" font-size="18.3" font-family="Liberation Sans" text-anchor="middle" >Time [BJD − 2,455,705]</text>
<text x="3229.3" y="427.7" font-size="17.7" font-family="Liberation Sans" text-anchor="middle" fill="#c0504d">Night 1</text>
<text x="3522.2" y="427.7" font-size="17.7" font-family="Liberation Sans" text-anchor="middle" fill="#228b22">Night 2</text>
<text transform="translate(2950,511.2) rotate(-90)" font-size="17.7" font-family="Liberation Sans" text-anchor="middle">RV − RV<tspan font-size="11" dy="4">orb</tspan><tspan dy="-4"> [m s</tspan><tspan font-size="11" dy="-7">−1</tspan><tspan dy="7">]</tspan></text>
<text transform="translate(2960,676.5) rotate(-90)" font-size="17.7" font-family="Liberation Sans" text-anchor="middle">O−C [m s<tspan font-size="11" dy="-7">−1</tspan><tspan dy="7">]</tspan></text>
<defs><clipPath id="c3"><rect x="3959.1" y="95.0" width="486.3" height="441.9"/></clipPath></defs>
<path d="M3959.1,521.9 L4040,470.6 L4085,441.4 L4130,414.4 L4175,384 L4202,366 L4240,338.5 L4445.4,171.1" stroke="#000" stroke-width="1.3" fill="none" clip-path="url(#c3)"/>
<path d="M3959.1,517.4 L4040,474 L4085,444.7 L4130,418.9 L4175,388 L4204.2,368.2 L4260.6,329.3 L4445.4,183.1" stroke="#000" stroke-width="1.3" fill="none" stroke-dasharray="7 4" clip-path="url(#c3)"/>
<path d="M4161.2,382.1 V388.1 M4159.2,382.1 h4 M4159.2,388.1 h4 M4189.7,357.2 V361.2 M4187.7,357.2 h4 M4187.7,361.2 h4 M4322.5,233.4 V247.4 M4320.5,233.4 h4 M4320.5,247.4 h4 M4324,232.5 V242.5 M4322,232.5 h4 M4322,242.5 h4 M4331.8,228 V244 M4329.8,228 h4 M4329.8,244 h4 M4373.4,192 V214 M4371.4,192 h4 M4371.4,214 h4 M4375.7,195.2 V209.2 M4373.7,195.2 h4 M4373.7,209.2 h4 M4431.2,172.5 V182.5 M4429.2,172.5 h4 M4429.2,182.5 h4" stroke="#777" stroke-width="0.9"/>
<circle cx="4161.2" cy="385.1" r="4.2" fill="#000"/>
<circle cx="4189.7" cy="359.2" r="4.2" fill="#000"/>
<circle cx="4322.5" cy="240.4" r="4.2" fill="#000"/>
<circle cx="4324" cy="237.5" r="4.2" fill="#000"/>
<circle cx="4331.8" cy="236" r="4.2" fill="#000"/>
<circle cx="4373.4" cy="203" r="4.2" fill="#000"/>
<circle cx="4375.7" cy="202.2" r="4.2" fill="#000"/>
<circle cx="4431.2" cy="177.5" r="4.2" fill="#000"/>
<circle cx="4001.1" cy="489.3" r="3.8" fill="#e8141e"/>
<circle cx="4010.1" cy="485.6" r="3.8" fill="#1fa01f"/>
<circle cx="4011.2" cy="481.1" r="3.8" fill="#1414e8"/>
<circle cx="4025.1" cy="472.5" r="3.8" fill="#1414e8"/>
<circle cx="4033.3" cy="471.7" r="3.8" fill="#1fa01f"/>
<circle cx="4396.3" cy="222.5" r="3.8" fill="#e8141e"/>
<path d="M4391.8,233.7 L4382.4,263.7" stroke="#e8141e" stroke-width="1"/>
<text x="4355.4" y="275" font-size="11.5" font-family="Liberation Serif" textLength="72" lengthAdjust="spacing" text-anchor="start" fill="#e8141e" font-weight="bold">Kepler−16 A</text>
<rect x="3991.3" y="462" width="57.4" height="37.5" fill="none" stroke="#000" stroke-width="1.1" stroke-dasharray="1.2 2.6"/>
<path d="M4212,471 H4279.4" stroke="#000" stroke-width="1.2" stroke-dasharray="7.5 4"/>
<path d="M4212,493.5 H4279.4" stroke="#000" stroke-width="1.2"/>
<text x="4289.9" y="474.9" font-size="16.5" font-family="Liberation Serif" textLength="101.9" lengthAdjust="spacing" text-anchor="start" >Age = 1 Gyr</text>
<text x="4289.9" y="496.5" font-size="16.5" font-family="Liberation Serif" textLength="101.9" lengthAdjust="spacing" text-anchor="start" >Age = 5 Gyr</text>
<text x="4273.4" y="418.6" font-size="16.5" font-family="Liberation Serif" textLength="128.9" lengthAdjust="spacing" text-anchor="start" >[Fe/H] = −0.04</text>
<text x="4300.4" y="439" font-size="16.5" font-family="Liberation Serif" font-style="italic">α</text>
<text x="4312" y="442.5" font-size="9" font-family="Liberation Serif" font-weight="bold">ML</text>
<text x="4333" y="439" font-size="16.5" font-family="Liberation Serif" textLength="42.4" lengthAdjust="spacing" text-anchor="start" >= 1.0</text>
<rect x="3959.1" y="95.0" width="486.3" height="441.9" fill="none" stroke="#000" stroke-width="1.3"/>
<path d="M4000,536.9 v-8.5 M4000,95 v8.5 M4081.1,536.9 v-8.5 M4081.1,95 v8.5 M4162.2,536.9 v-8.5 M4162.2,95 v8.5 M4243.3,536.9 v-8.5 M4243.3,95 v8.5 M4324.4,536.9 v-8.5 M4324.4,95 v8.5 M4405.5,536.9 v-8.5 M4405.5,95 v8.5 M3959.45,536.9 v-4.5 M3959.45,95 v4.5 M4040.55,536.9 v-4.5 M4040.55,95 v4.5 M4121.65,536.9 v-4.5 M4121.65,95 v4.5 M4202.75,536.9 v-4.5 M4202.75,95 v4.5 M4283.85,536.9 v-4.5 M4283.85,95 v4.5 M4364.95,536.9 v-4.5 M4364.95,95 v4.5 M4446.05,536.9 v-4.5 M4446.05,95 v4.5 M3959.1,506.2 h8.5 M4445.4,506.2 h-8.5 M3959.1,443 h8.5 M4445.4,443 h-8.5 M3959.1,379.8 h8.5 M4445.4,379.8 h-8.5 M3959.1,316.6 h8.5 M4445.4,316.6 h-8.5 M3959.1,253.4 h8.5 M4445.4,253.4 h-8.5 M3959.1,190.2 h8.5 M4445.4,190.2 h-8.5 M3959.1,127 h8.5 M4445.4,127 h-8.5 M3959.1,537.8 h4.5 M4445.4,537.8 h-4.5 M3959.1,474.6 h4.5 M4445.4,474.6 h-4.5 M3959.1,411.4 h4.5 M4445.4,411.4 h-4.5 M3959.1,348.2 h4.5 M4445.4,348.2 h-4.5 M3959.1,285 h4.5 M4445.4,285 h-4.5 M3959.1,221.8 h4.5 M4445.4,221.8 h-4.5 M3959.1,158.6 h4.5 M4445.4,158.6 h-4.5 M3959.1,95.4 h4.5 M4445.4,95.4 h-4.5" stroke="#000" stroke-width="1.2" fill="none"/>
<text x="4000" y="558.7" font-size="15.8" font-family="Liberation Sans" text-anchor="middle" letter-spacing="1">0.2</text>
<text x="4081.1" y="558.7" font-size="15.8" font-family="Liberation Sans" text-anchor="middle" letter-spacing="1">0.3</text>
<text x="4162.2" y="558.7" font-size="15.8" font-family="Liberation Sans" text-anchor="middle" letter-spacing="1">0.4</text>
<text x="4243.3" y="558.7" font-size="15.8" font-family="Liberation Sans" text-anchor="middle" letter-spacing="1">0.5</text>
<text x="4324.4" y="558.7" font-size="15.8" font-family="Liberation Sans" text-anchor="middle" letter-spacing="1">0.6</text>
<text x="4405.5" y="558.7" font-size="15.8" font-family="Liberation Sans" text-anchor="middle" letter-spacing="1">0.7</text>
<text x="3952" y="511.8" font-size="15.8" font-family="Liberation Sans" text-anchor="end" letter-spacing="1">0.2</text>
<text x="3952" y="448.6" font-size="15.8" font-family="Liberation Sans" text-anchor="end" letter-spacing="1">0.3</text>
<text x="3952" y="385.4" font-size="15.8" font-family="Liberation Sans" text-anchor="end" letter-spacing="1">0.4</text>
<text x="3952" y="322.2" font-size="15.8" font-family="Liberation Sans" text-anchor="end" letter-spacing="1">0.5</text>
<text x="3952" y="259" font-size="15.8" font-family="Liberation Sans" text-anchor="end" letter-spacing="1">0.6</text>
<text x="3952" y="195.8" font-size="15.8" font-family="Liberation Sans" text-anchor="end" letter-spacing="1">0.7</text>
<text x="3952" y="132.6" font-size="15.8" font-family="Liberation Sans" text-anchor="end" letter-spacing="1">0.8</text>
<text transform="translate(3915.2,366.1) rotate(-90)" font-size="17" font-family="Liberation Serif" textLength="81.8" lengthAdjust="spacing">Radius (R</text>
<text transform="translate(3915.2,276.3) rotate(-90)" font-size="17" font-family="Liberation Serif">)</text>
<circle cx="3918.6" cy="278.6" r="3.1" fill="none" stroke="#000" stroke-width="0.9"/><circle cx="3918.6" cy="278.6" r="0.9" fill="#000"/>
<text x="4160.8" y="581" font-size="17" font-family="Liberation Serif" textLength="67.2" lengthAdjust="spacing">Mass (M</text>
<text x="4238.3" y="581" font-size="17" font-family="Liberation Serif">)</text>
<circle cx="4232.9" cy="582" r="3.1" fill="none" stroke="#000" stroke-width="0.9"/><circle cx="4232.9" cy="582" r="0.9" fill="#000"/>
<rect x="4027.3" y="118.6" width="223.8" height="168.3" fill="#fff" stroke="none"/>
<defs><clipPath id="c3i"><rect x="4027.3" y="118.6" width="223.8" height="168.3"/></clipPath></defs>
<path d="M4035.6,286.9 L4251.1,133.2" stroke="#000" stroke-width="1.3" clip-path="url(#c3i)"/>
<path d="M4027.3,285.4 L4251.1,146.7" stroke="#000" stroke-width="1.3" stroke-dasharray="6 4" clip-path="url(#c3i)"/>
<path d="M4180,162.8 H4202 M4180,160.8 v4 M4202,160.8 v4 M4091.8,226.2 H4108.6 M4091.8,224.2 v4 M4108.6,224.2 v4 M4157.8,161 V170 M4104.2,199.5 V208" stroke="#5c5" stroke-width="0.9"/>
<circle cx="4157.8" cy="165.5" r="4.2" fill="#1414e8"/>
<circle cx="4104.2" cy="203.7" r="4.2" fill="#1414e8"/>
<circle cx="4191.2" cy="162.8" r="4.2" fill="#1fa01f"/>
<circle cx="4100" cy="226.2" r="4.2" fill="#1fa01f"/>
<circle cx="4067.4" cy="242" r="4.2" fill="#e8141e"/>
<text x="4177.6" y="232.6" font-size="11.5" font-family="Liberation Serif" textLength="40.7" lengthAdjust="spacing" text-anchor="start" fill="#1414e8" font-weight="bold">CM Dra</text>
<circle cx="4231.9" cy="228.8" r="4.2" fill="#1414e8"/>
<text x="4171.2" y="249.7" font-size="11.5" font-family="Liberation Serif" textLength="47.1" lengthAdjust="spacing" text-anchor="start" fill="#1fa01f" font-weight="bold">KOI−126</text>
<circle cx="4231.9" cy="245.6" r="4.2" fill="#1fa01f"/>
<text x="4146.2" y="265.8" font-size="11.5" font-family="Liberation Serif" textLength="72.1" lengthAdjust="spacing" text-anchor="start" fill="#e8141e" font-weight="bold">Kepler−16 B</text>
<circle cx="4231.9" cy="263.2" r="4.2" fill="#e8141e"/>
<rect x="4027.3" y="118.6" width="223.8" height="168.3" fill="none" stroke="#000" stroke-width="1.3"/>
<path d="M4059.9,286.9 v-7 M4059.9,118.6 v7 M4123.6,286.9 v-7 M4123.6,118.6 v7 M4187.3,286.9 v-7 M4187.3,118.6 v7 M4251,286.9 v-7 M4251,118.6 v7 M4028.05,286.9 v-4 M4028.05,118.6 v4 M4091.75,286.9 v-4 M4091.75,118.6 v4 M4155.45,286.9 v-4 M4155.45,118.6 v4 M4219.15,286.9 v-4 M4219.15,118.6 v4 M4027.3,259.75 h7 M4251.1,259.75 h-7 M4027.3,203.3 h7 M4251.1,203.3 h-7 M4027.3,146.85 h7 M4251.1,146.85 h-7 M4027.3,287.98 h4 M4251.1,287.98 h-4 M4027.3,231.53 h4 M4251.1,231.53 h-4 M4027.3,175.07 h4 M4251.1,175.07 h-4 M4027.3,118.62 h4 M4251.1,118.62 h-4" stroke="#000" stroke-width="1.1" fill="none"/>
<text x="4059.9" y="301.2" font-size="10.6" font-family="Liberation Sans" text-anchor="middle" font-weight="bold" letter-spacing="0.8">0.20</text>
<text x="4123.6" y="301.2" font-size="10.6" font-family="Liberation Sans" text-anchor="middle" font-weight="bold" letter-spacing="0.8">0.22</text>
<text x="4187.3" y="301.2" font-size="10.6" font-family="Liberation Sans" text-anchor="middle" font-weight="bold" letter-spacing="0.8">0.24</text>
<text x="4251" y="301.2" font-size="10.6" font-family="Liberation Sans" text-anchor="middle" font-weight="bold" letter-spacing="0.8">0.26</text>
<text x="4022.5" y="263.55" font-size="10.6" font-family="Liberation Sans" text-anchor="end" font-weight="bold" letter-spacing="0.8">0.22</text>
<text x="4022.5" y="207.1" font-size="10.6" font-family="Liberation Sans" text-anchor="end" font-weight="bold" letter-spacing="0.8">0.24</text>
<text x="4022.5" y="150.65" font-size="10.6" font-family="Liberation Sans" text-anchor="end" font-weight="bold" letter-spacing="0.8">0.26</text>
<text transform="translate(3992.2,236.5) rotate(-90)" font-size="11" font-family="Liberation Serif" font-weight="bold" textLength="53" lengthAdjust="spacing">Radius (R</text>
<text transform="translate(3992.2,176.3) rotate(-90)" font-size="11" font-family="Liberation Serif" font-weight="bold">)</text>
<circle cx="3993.8" cy="178.4" r="2.1" fill="none" stroke="#000" stroke-width="0.8"/><circle cx="3993.8" cy="178.4" r="0.6" fill="#000"/>
<text x="4111.3" y="316.8" font-size="11" font-family="Liberation Serif" font-weight="bold" textLength="45" lengthAdjust="spacing">Mass (M</text>
<text x="4163.5" y="316.8" font-size="11" font-family="Liberation Serif" font-weight="bold">)</text>
<circle cx="4159.6" cy="318" r="2.1" fill="none" stroke="#000" stroke-width="0.8"/><circle cx="4159.6" cy="318" r="0.6" fill="#000"/></svg>
<div class='l' style='left:91.40px;top:67.39px;font-size:11.3px;letter-spacing:0.916px;'>A<span style='font-size:80%'>CCEPTED VERSION</span></div>
<div class='l' style='left:90.70px;top:80.02px;font-size:10.6px;'>Preprint typeset using L<span style='font-size:75%;position:relative;top:-0.25em;margin-left:-0.3em;margin-right:-0.12em'>A</span>T<span style='position:relative;top:0.22em;margin-left:-0.12em;margin-right:-0.1em'>E</span>X style emulateapj v. 11/10/09</div>
<div class='c' style='left:-36.00px;top:149.69px;font-size:15.15px;'>SPIN-ORBIT ALIGNMENT FOR THE CIRCUMBINARY PLANET HOST KEPLER-16 A</div>
<div class='l' style='left:131.10px;top:175.05px;font-size:12.6px;letter-spacing:1.175px;'>J<span style='font-size:78%'>OSHUA</span> N. W<span style='font-size:78%'>INN</span><sup>1</sup>, S<span style='font-size:78%'>IMON</span> A<span style='font-size:78%'>LBRECHT</span><sup>1</sup>, J<span style='font-size:78%'>OHN</span> A<span style='font-size:78%'>SHER</span> J<span style='font-size:78%'>OHNSON</span><sup>2</sup>, G<span style='font-size:78%'>UILLERMO</span> T<span style='font-size:78%'>ORRES</span><sup>3</sup>, W<span style='font-size:78%'>ILLIAM</span> D. C<span style='font-size:78%'>OCHRAN</span><sup>4</sup>,</div>
<div class='l' style='left:82.80px;top:189.65px;font-size:12.6px;letter-spacing:1.172px;'>G<span style='font-size:78%'>EOFFREY</span> W. M<span style='font-size:78%'>ARCY</span><sup>5</sup>, A<span style='font-size:78%'>NDREW</span> W. H<span style='font-size:78%'>OWARD</span><sup>5</sup>, H<span style='font-size:78%'>OWARD</span> I<span style='font-size:78%'>SAACSON</span><sup>5</sup>, D<span style='font-size:78%'>EBRA</span> F<span style='font-size:78%'>ISCHER</span><sup>6</sup>, L<span style='font-size:78%'>AURANCE</span> D<span style='font-size:78%'>OYLE</span><sup>7</sup>, W<span style='font-size:78%'>ILLIAM</span> W<span style='font-size:78%'>ELSH</span><sup>8</sup>,</div>
<div class='l' style='left:90.70px;top:204.45px;font-size:12.6px;letter-spacing:1.091px;'>J<span style='font-size:78%'>OSHUA</span> A. C<span style='font-size:78%'>ARTER</span><sup>3</sup>, D<span style='font-size:78%'>ANIEL</span> C. F<span style='font-size:78%'>ABRYCKY</span><sup>9</sup>, D<span style='font-size:78%'>ARIN</span> R<span style='font-size:78%'>AGOZZINE</span><sup>3</sup>, S<span style='font-size:78%'>AMUEL</span> N. Q<span style='font-size:78%'>UINN</span><sup>3</sup>, A<span style='font-size:78%'>VI</span> S<span style='font-size:78%'>HPORER</span><sup>10</sup>, S<span style='font-size:78%'>TEVE</span> B. H<span style='font-size:78%'>OWELL</span><sup>11</sup>,</div>
<div class='l' style='left:110.10px;top:218.75px;font-size:12.6px;letter-spacing:1.107px;'>D<span style='font-size:78%'>AVID</span> W. L<span style='font-size:78%'>ATHAM</span><sup>3</sup>, J<span style='font-size:78%'>EROME</span> O<span style='font-size:78%'>ROSZ</span><sup>8</sup>, A<span style='font-size:78%'>NDREJ</span> P<span style='font-size:78%'>RSA</span><sup>12</sup>, R<span style='font-size:78%'>OBERT</span> W. S<span style='font-size:78%'>LAWSON</span><sup>7</sup>, W<span style='font-size:78%'>ILLIAM</span> J. B<span style='font-size:78%'>ORUCKI</span><sup>13</sup>, D<span style='font-size:78%'>AVID</span> K<span style='font-size:78%'>OCH</span><sup>13</sup>,</div>
<div class='l' style='left:99.50px;top:233.65px;font-size:12.6px;letter-spacing:1.086px;'>T<span style='font-size:78%'>HOMAS</span> B<span style='font-size:78%'>ARCLAY</span><sup>14</sup>, A<span style='font-size:78%'>LAN</span> P. B<span style='font-size:78%'>OSS</span><sup>15</sup>, J<span style='font-size:78%'>ØRGEN</span> C<span style='font-size:78%'>HRISTENSEN</span>-D<span style='font-size:78%'>ALSGAARD</span><sup>16</sup>, F<span style='font-size:78%'>ORREST</span> R. G<span style='font-size:78%'>IROUARD</span><sup>13,17</sup>, J<span style='font-size:78%'>ON</span> J<span style='font-size:78%'>ENKINS</span><sup>7,13</sup>,</div>
<div class='l' style='left:91.40px;top:248.25px;font-size:12.6px;letter-spacing:1.059px;'>T<span style='font-size:78%'>ODD</span> C. K<span style='font-size:78%'>LAUS</span><sup>17</sup>, S<span style='font-size:78%'>ØREN</span> M<span style='font-size:78%'>EIBOM</span><sup>3</sup>, R<span style='font-size:78%'>OBERT</span> L. M<span style='font-size:78%'>ORRIS</span><sup>7,13</sup>, D<span style='font-size:78%'>IMITAR</span> S<span style='font-size:78%'>ASSELOV</span><sup>3</sup>, M<span style='font-size:78%'>ARTIN</span> S<span style='font-size:78%'>TILL</span><sup>14</sup>, J<span style='font-size:78%'>EFFREY</span> V<span style='font-size:78%'>AN</span> C<span style='font-size:78%'>LEVE</span><sup>7,13</sup></div>
<div class='c' style='left:-36.00px;top:265.31px;font-size:12.12px;'><i>The Astrophysical Journal (Letters), in press</i></div>
<div class='c' style='left:-36.00px;top:294.97px;font-size:14.9px;'>ABSTRACT</div>
<div class='l' style='left:145.60px;top:314.29px;font-size:15.15px;word-spacing:0.491px;'>Kepler-16 is an eccentric low-mass eclipsing binary with a circumbinary transiting planet.<span style='word-spacing:3.16px'> </span>Here we inves-</div>
<div class='l' style='left:131.80px;top:330.28px;font-size:15.15px;word-spacing:0.904px;'>tigate the angular momentum of the primary star,<span style='word-spacing:1.13px'> </span>based on <i>Kepler</i> photometry and Keck spectroscopy.<span style='word-spacing:4.39px'> </span>The</div>
<div class='l' style='left:131.80px;top:346.26px;font-size:15.15px;word-spacing:0.633px;'>primary star’s rotation period is 35.1 ± 1.0 days,<span style='word-spacing:0.79px'> </span>and its projected obliquity with respect to the stellar binary</div>
<div class='l' style='left:131.80px;top:362.25px;font-size:15.15px;word-spacing:1.367px;'>orbit is 1.6 ± 2.4 degrees.<span style='word-spacing:5.78px'> </span>Therefore the three largest sources of angular momentum—the stellar orbit,<span style='word-spacing:1.71px'> </span>the</div>
<div class='l' style='left:131.80px;top:378.24px;font-size:15.15px;word-spacing:-0.245px;'>planetary orbit, and the primary’s rotation—are all closely aligned.<span style='word-spacing:1.60px'> </span>This finding supports a formation scenario</div>
<div class='l' style='left:131.80px;top:394.23px;font-size:15.15px;word-spacing:-0.325px;'>involving accretion from a single disk.<span style='word-spacing:1.57px'> </span>Alternatively,<span style='word-spacing:-0.26px'> </span>tides may have realigned the stars despite their relatively</div>
<div class='l' style='left:131.80px;top:410.22px;font-size:15.15px;word-spacing:0.252px;'>wide separation (0.2 AU),<span style='word-spacing:0.31px'> </span>a hypothesis that is supported by the agreement between the measured rotation pe-</div>
<div class='l' style='left:131.80px;top:426.21px;font-size:15.15px;word-spacing:-0.774px;'>riod and the “pseudosynchronous” period of tidal evolution theory.<span style='word-spacing:1.42px'> </span>The rotation period,<span style='word-spacing:-0.62px'> </span>chromospheric activity</div>
<div class='l' style='left:131.80px;top:442.20px;font-size:15.15px;word-spacing:-0.812px;'>level,<span style='word-spacing:-0.65px'> </span>and fractional light variations suggest a main-sequence age of 2-4 Gyr.<span style='word-spacing:1.41px'> </span>Evolutionary models of low-mass</div>
<div class='l' style='left:131.80px;top:458.19px;font-size:15.15px;'>stars can match the observed masses and radii of the primary and secondary stars to within about 3%.</div>
<div class='l' style='left:131.80px;top:478.39px;font-size:15.15px;word-spacing:0.600px;'><i>Subject headings:</i><span style='word-spacing:2.88px'> </span>stars:<span style='word-spacing:2.88px'> </span>binaries,<span style='word-spacing:0.75px'> </span>rotation,<span style='word-spacing:0.75px'> </span>activity,<span style='word-spacing:0.75px'> </span>late-type,<span style='word-spacing:0.75px'> </span>low-mass,<span style='word-spacing:0.75px'> </span>formation,<span style='word-spacing:0.75px'> </span>individual (Kepler-16 A,</div>
<div class='l' style='left:247.20px;top:493.99px;font-size:15.15px;'>KIC 12644769) — planets and satellites: formation</div>
<div class='c' style='left:-238.30px;top:539.71px;font-size:12.12px;'>1. &nbsp;INTRODUCTION</div>
<div class='l' style='left:90.80px;top:560.49px;font-size:15.15px;word-spacing:-0.906px;'>Kepler-16 (AB)-b is a planet with two parent stars (Doyle et</div>
<div class='l' style='left:77.00px;top:576.44px;font-size:15.15px;word-spacing:0.373px;'>al. 2011).<span style='word-spacing:2.80px'> </span>The stars (0.7 and 0.2 <i>M</i><sub><span class="sun"></span></sub>) are in 41-day eccentric</div>
<div class='l' style='left:77.00px;top:592.39px;font-size:15.15px;word-spacing:-0.370px;'>orbit,<span style='word-spacing:-0.30px'> </span>and the planet (0.3 <i>M</i><sub>Jup</sub>) circles both of them every 229</div>
<div class='l' style='left:77.00px;top:608.34px;font-size:15.15px;word-spacing:1.285px;'>days.<span style='word-spacing:5.54px'> </span>Viewed from the Solar system,<span style='word-spacing:1.61px'> </span>the stars eclipse each</div>
<div class='l' style='left:77.00px;top:624.29px;font-size:15.15px;word-spacing:-0.835px;'>other and the planet transits both of them,<span style='word-spacing:-0.67px'> </span>providing definitive</div>
<div class='l' style='left:77.00px;top:640.24px;font-size:15.15px;word-spacing:0.698px;'>evidence that circumbinary planets exist and permitting pre-</div>
<div class='l' style='left:77.00px;top:656.19px;font-size:15.15px;word-spacing:0.213px;'>cise determinations of the system’s parameters.<span style='word-spacing:2.32px'> </span>For example</div>
<div class='l' style='left:102.70px;top:691.61px;font-size:12.12px;word-spacing:-0.536px;'><sup>1</sup> Department of Physics,<span style='word-spacing:-0.43px'> </span>and Kavli Institute for Astrophysics and Space</div>
<div class='l' style='left:89.10px;top:703.81px;font-size:12.12px;'>Research, Massachusetts Institute of Technology, Cambridge, MA 02139</div>
<div class='l' style='left:102.70px;top:718.61px;font-size:12.12px;word-spacing:3.799px;'><sup>2</sup> Department of Astrophysics,<span style='word-spacing:4.75px'> </span>California Institute of Technology,</div>
<div class='l' style='left:89.10px;top:730.61px;font-size:12.12px;word-spacing:0.361px;'>MC249-17,<span style='word-spacing:0.45px'> </span>Pasadena,<span style='word-spacing:0.45px'> </span>CA 91125;<span style='word-spacing:0.54px'> </span>and NASA Exoplanet Science Institute</div>
<div class='l' style='left:89.10px;top:743.61px;font-size:12.12px;'>(NExScI)</div>
<div class='l' style='left:102.70px;top:756.01px;font-size:12.12px;word-spacing:0.963px;'><sup>3</sup> Harvard-Smithsonian Center for Astrophysics,<span style='word-spacing:1.20px'> </span>60 Garden St.,<span style='word-spacing:1.20px'> </span>Cam-</div>
<div class='l' style='left:89.10px;top:768.31px;font-size:12.12px;'>bridge, MA 02138</div>
<div class='l' style='left:102.70px;top:783.61px;font-size:12.12px;'><sup>4</sup> McDonald Observatory, The University of Texas, Austin, TX 78712</div>
<div class='l' style='left:102.70px;top:797.91px;font-size:12.12px;word-spacing:1.809px;'><sup>5</sup> Department of Astronomy,<span style='word-spacing:2.26px'> </span>University of California,<span style='word-spacing:2.26px'> </span>Berkeley,<span style='word-spacing:2.26px'> </span>CA</div>
<div class='l' style='left:89.10px;top:810.21px;font-size:12.12px;'>94720</div>
<div class='l' style='left:102.70px;top:823.41px;font-size:12.12px;'><sup>6</sup> Department of Astronomy, Yale University, New Haven, CT 06511</div>
<div class='l' style='left:102.70px;top:837.21px;font-size:12.12px;word-spacing:0.594px;'><sup>7</sup> Carl Sagan Center for the Study of Life in the Universe,<span style='word-spacing:0.74px'> </span>SETI Insti-</div>
<div class='l' style='left:89.10px;top:849.71px;font-size:12.12px;'>tute, 189 Bernardo Ave., Mountain View, CA 94043</div>
<div class='l' style='left:102.70px;top:862.41px;font-size:12.12px;word-spacing:-0.103px;'><sup>8</sup> Astronomy Department, San Diego State University, 5500 Campanile</div>
<div class='l' style='left:89.10px;top:874.71px;font-size:12.12px;'>Drive, San Diego, CA 92182</div>
<div class='l' style='left:102.70px;top:889.51px;font-size:12.12px;word-spacing:0.253px;'><sup>9</sup> Hubble Fellow,<span style='word-spacing:0.32px'> </span>Department of Astronomy and Astrophysics,<span style='word-spacing:0.32px'> </span>Univer-</div>
<div class='l' style='left:89.10px;top:901.91px;font-size:12.12px;'>sity of California, Santa Cruz, CA 95064</div>
<div class='l' style='left:102.70px;top:916.61px;font-size:12.12px;word-spacing:0.041px;'><sup>10</sup> Las Cumbres Observatory Global Telescope Network, 6740 Cortona</div>
<div class='l' style='left:89.10px;top:929.31px;font-size:12.12px;'>Drive, Suite 102, Santa Barbara, CA 93117</div>
<div class='l' style='left:102.70px;top:941.71px;font-size:12.12px;'><sup>11</sup> National Optical Astronomy Observatory, Tucson, AZ 85726</div>
<div class='l' style='left:102.70px;top:956.41px;font-size:12.12px;word-spacing:1.340px;'><sup>12</sup> Department of Astronomy and Astrophysics,<span style='word-spacing:1.68px'> </span>Villanova University,</div>
<div class='l' style='left:89.10px;top:968.81px;font-size:12.12px;'>800 E. Lancaster Ave., Villanova, PA 19085</div>
<div class='l' style='left:102.70px;top:981.51px;font-size:12.12px;'><sup>13</sup> NASA Ames Research Center, Moffett Field, CA 94035</div>
<div class='l' style='left:102.70px;top:994.61px;font-size:12.12px;word-spacing:1.145px;'><sup>14</sup> Bay Area Environmental Research Institute/NASA Ames Research</div>
<div class='l' style='left:89.10px;top:1006.71px;font-size:12.12px;'>Center, Moffett Field, CA 94035</div>
<div class='l' style='left:102.70px;top:1019.71px;font-size:12.12px;word-spacing:0.350px;'><sup>15</sup> Department of Terrestrial Magnetism,<span style='word-spacing:0.44px'> </span>Carnegie Institution of Wash-</div>
<div class='l' style='left:89.10px;top:1032.01px;font-size:12.12px;'>ington, 5241 Broad Branch Road, NW, Washington, DC 20015</div>
<div class='l' style='left:102.70px;top:1046.71px;font-size:12.12px;word-spacing:1.621px;'><sup>16</sup> Danish AsteroSeismology Centre,<span style='word-spacing:2.03px'> </span>and Department of Physics and</div>
<div class='l' style='left:89.10px;top:1059.51px;font-size:12.12px;word-spacing:-0.232px;'>Astronomy, Aarhus University, Ny Munkegade, DK-8000 Aarhus C, Den-</div>
<div class='l' style='left:89.10px;top:1071.81px;font-size:12.12px;'>mark</div>
<div class='l' style='left:102.70px;top:1084.51px;font-size:12.12px;word-spacing:-0.053px;'><sup>17</sup> Orbital Sciences Corporation/NASA Ames Research Center, Moffett</div>
<div class='l' style='left:89.10px;top:1096.91px;font-size:12.12px;'>Field, CA 94035</div>
<div class='l' style='left:481.20px;top:538.19px;font-size:15.15px;word-spacing:0.849px;'>the planet’s radius is known to within 0.3%,<span style='word-spacing:1.06px'> </span>better than that</div>
<div class='l' style='left:481.20px;top:554.14px;font-size:15.15px;word-spacing:1.356px;'>of any other known exoplanet.<span style='word-spacing:5.75px'> </span>The stars are themselves of</div>
<div class='l' style='left:481.20px;top:570.10px;font-size:15.15px;word-spacing:0.368px;'>interest as a rare example of low-mass dwarfs with precisely</div>
<div class='l' style='left:481.20px;top:586.05px;font-size:15.15px;'>known dimensions.</div>
<div class='l' style='left:495.00px;top:602.01px;font-size:15.15px;word-spacing:0.880px;'>Such a unique system should be studied in every possible</div>
<div class='l' style='left:481.20px;top:617.96px;font-size:15.15px;word-spacing:0.144px;'>way, for exploratory purposes as well as the specific purpose</div>
<div class='l' style='left:481.20px;top:633.91px;font-size:15.15px;word-spacing:-0.871px;'>of understanding its formation and evolution.<span style='word-spacing:1.39px'> </span>How old are the</div>
<div class='l' style='left:481.20px;top:649.87px;font-size:15.15px;word-spacing:0.977px;'>stars?<span style='word-spacing:4.61px'> </span>Did the planet form together with the stars,<span style='word-spacing:1.22px'> </span>or was it</div>
<div class='l' style='left:481.20px;top:665.82px;font-size:15.15px;word-spacing:-0.638px;'>captured from another system?<span style='word-spacing:1.47px'> </span>Has there been tidal evolution</div>
<div class='l' style='left:481.20px;top:681.78px;font-size:15.15px;word-spacing:0.082px;'>or other effects that have modified the system’s architecture?</div>
<div class='l' style='left:481.20px;top:697.73px;font-size:15.15px;word-spacing:-0.663px;'>Here we present an investigation of the angular momentum of</div>
<div class='l' style='left:481.20px;top:713.69px;font-size:15.15px;'>the primary star, bearing on these questions.</div>
<div class='l' style='left:495.00px;top:729.64px;font-size:15.15px;word-spacing:1.631px;'>It has already been established that the planes of the cir-</div>
<div class='l' style='left:481.20px;top:745.60px;font-size:15.15px;word-spacing:2.514px;'>cumbinary orbit and the stellar orbit are aligned to within</div>
<div class='l' style='left:481.20px;top:761.55px;font-size:15.15px;word-spacing:0.002px;'>0°.5 (Doyle et al. 2011).<span style='word-spacing:1.69px'> </span>This suggests all three bodies inher-</div>
<div class='l' style='left:481.20px;top:777.51px;font-size:15.15px;word-spacing:0.669px;'>ited their angular momentum from a single disk,<span style='word-spacing:0.84px'> </span>as opposed</div>
<div class='l' style='left:481.20px;top:793.46px;font-size:15.15px;word-spacing:1.019px;'>to dynamical scenarios that are often invoked for triple sys-</div>
<div class='l' style='left:481.20px;top:809.41px;font-size:15.15px;word-spacing:1.055px;'>tems such as close encounters (Mikkola 1984,<span style='word-spacing:1.32px'> </span>Bailyn 1989,</div>
<div class='l' style='left:481.20px;top:825.37px;font-size:15.15px;word-spacing:3.783px;'>Ivanova 2008) or dynamical decay (Sterzik &amp; Tokovinin</div>
<div class='l' style='left:481.20px;top:841.32px;font-size:15.15px;word-spacing:0.446px;'>2002).<span style='word-spacing:3.02px'> </span>One must remember,<span style='word-spacing:0.56px'> </span>though,<span style='word-spacing:0.56px'> </span>that the planet was dis-</div>
<div class='l' style='left:481.20px;top:857.28px;font-size:15.15px;word-spacing:0.619px;'>covered with transit photometry,<span style='word-spacing:0.77px'> </span>a technique that is severely</div>
<div class='l' style='left:481.20px;top:873.23px;font-size:15.15px;word-spacing:1.027px;'>biased toward finding coplanar orbits.<span style='word-spacing:4.76px'> </span>This raises the ques-</div>
<div class='l' style='left:481.20px;top:889.19px;font-size:15.15px;word-spacing:1.075px;'>tion of whether the orbital coplanarity of Kepler-16 is at all</div>
<div class='l' style='left:481.20px;top:905.14px;font-size:15.15px;word-spacing:1.742px;'>representative of circumbinary planets,<span style='word-spacing:2.18px'> </span>and motivates mea-</div>
<div class='l' style='left:481.20px;top:921.10px;font-size:15.15px;word-spacing:0.740px;'>surements of the alignment between the orbital axes and the</div>
<div class='l' style='left:481.20px;top:937.05px;font-size:15.15px;'>stellar spin axes, for which there was no selection bias.</div>
<div class='l' style='left:495.00px;top:953.01px;font-size:15.15px;word-spacing:1.473px;'>This <i>Letter</i> is organized as follows.<span style='word-spacing:6.10px'> </span>Section 2 presents a</div>
<div class='l' style='left:481.20px;top:968.96px;font-size:15.15px;word-spacing:1.157px;'>photometric determination of the rotation period.<span style='word-spacing:5.15px'> </span>Section 3</div>
<div class='l' style='left:481.20px;top:984.91px;font-size:15.15px;word-spacing:1.742px;'>presents a spectroscopic determination of the sky-projected</div>
<div class='l' style='left:481.20px;top:1000.87px;font-size:15.15px;word-spacing:1.766px;'>stellar obliquity (the angle between the rotation axis of the</div>
<div class='l' style='left:481.20px;top:1016.82px;font-size:15.15px;word-spacing:1.118px;'>primary star,<span style='word-spacing:1.40px'> </span>and the stellar orbital axis),<span style='word-spacing:1.40px'> </span>based on observa-</div>
<div class='l' style='left:481.20px;top:1032.78px;font-size:15.15px;word-spacing:0.471px;'>tions of the Rossiter-McLaughlin effect.<span style='word-spacing:3.10px'> </span>Section 4 discusses</div>
<div class='l' style='left:481.20px;top:1048.73px;font-size:15.15px;word-spacing:0.455px;'>the implications of these results for our understanding of the</div>
<div class='l' style='left:481.20px;top:1064.69px;font-size:15.15px;'>primary star and of the system’s history.</div>
<div class='l' style='left:1007.90px;top:63.89px;font-size:15.15px;'>2</div>
<div class='c' style='left:896.60px;top:63.89px;font-size:15.15px;'>Winn et al. 2011</div>
<div class='c' style='left:688.70px;top:97.61px;font-size:12.12px;'>2. &nbsp;THE ROTATION PERIOD</div>
<div class='l' style='left:1017.80px;top:118.39px;font-size:15.15px;word-spacing:1.292px;'>We measured the rotation period of the primary star with</div>
<div class='l' style='left:1004.00px;top:134.32px;font-size:15.15px;word-spacing:2.988px;'>data from the <i>Kepler</i> spacecraft,<span style='word-spacing:3.73px'> </span>a 0.95m space telescope</div>
<div class='l' style='left:1004.00px;top:150.25px;font-size:15.15px;word-spacing:2.179px;'>that monitors the optical brightness of about 150,000 stars</div>
<div class='l' style='left:1004.00px;top:166.18px;font-size:15.15px;word-spacing:2.503px;'>in a quest to detect transits of potentially habitable Earth-</div>
<div class='l' style='left:1004.00px;top:182.11px;font-size:15.15px;word-spacing:1.588px;'>sized planets (Borucki et al. 2010).<span style='word-spacing:6.45px'> </span>Overviews of the mis-</div>
<div class='l' style='left:1004.00px;top:198.04px;font-size:15.15px;word-spacing:1.907px;'>sion design,<span style='word-spacing:2.38px'> </span>the instrument performance,<span style='word-spacing:2.38px'> </span>and the data pro-</div>
<div class='l' style='left:1004.00px;top:213.97px;font-size:15.15px;word-spacing:0.707px;'>cessing pipeline were given by Koch et al. (2010),<span style='word-spacing:0.88px'> </span>Caldwell</div>
<div class='l' style='left:1004.00px;top:229.89px;font-size:15.15px;'>et al. (2010) and Jenkins et al. (2010).</div>
<div class='l' style='left:1017.80px;top:245.82px;font-size:15.15px;word-spacing:3.647px;'>Kepler-16 was observed with 29.4 min sampling for a</div>
<div class='l' style='left:1004.00px;top:261.75px;font-size:15.15px;word-spacing:2.522px;'>nearly continuous 600-day interval,<span style='word-spacing:3.15px'> </span>from 2009 May 02 to</div>
<div class='l' style='left:1004.00px;top:277.68px;font-size:15.15px;word-spacing:0.545px;'>2010 December 22 (quarters 1-7).<span style='word-spacing:3.32px'> </span>The duty cycle was 94%,</div>
<div class='l' style='left:1004.00px;top:293.61px;font-size:15.15px;word-spacing:-0.707px;'>with 17 short gaps due to technical problems as well as sched-</div>
<div class='l' style='left:1004.00px;top:309.54px;font-size:15.15px;word-spacing:2.828px;'>uled interruptions in observing.<span style='word-spacing:10.17px'> </span>After each interruption a</div>
<div class='l' style='left:1004.00px;top:325.47px;font-size:15.15px;word-spacing:-0.481px;'>jump was observed in the relative flux.<span style='word-spacing:1.52px'> </span>We placed all the data</div>
<div class='l' style='left:1004.00px;top:341.40px;font-size:15.15px;word-spacing:0.273px;'>onto a common flux scale under the assumption that the flux</div>
<div class='l' style='left:1004.00px;top:357.33px;font-size:15.15px;word-spacing:-0.079px;'>variations during the interruptions were smooth enough to be</div>
<div class='l' style='left:1004.00px;top:373.26px;font-size:15.15px;word-spacing:1.434px;'>described by a quadratic function of time.<span style='word-spacing:5.98px'> </span>Specifically,<span style='word-spacing:1.79px'> </span>we</div>
<div class='l' style='left:1004.00px;top:389.19px;font-size:15.15px;word-spacing:-0.094px;'>multiplied the data from each of the 18 disjoint intervals by a</div>
<div class='l' style='left:1004.00px;top:405.12px;font-size:15.15px;word-spacing:0.486px;'>constant,<span style='word-spacing:0.61px'> </span>and determined the optimal values of the constants</div>
<div class='l' style='left:1004.00px;top:421.05px;font-size:15.15px;word-spacing:-0.171px;'>by fitting quadratic functions to the data within one day of an</div>
<div class='l' style='left:1004.00px;top:436.98px;font-size:15.15px;'>interruption.</div>
<div class='l' style='left:1017.80px;top:452.91px;font-size:15.15px;word-spacing:1.147px;'>The resulting time series exhibited a secular 3% decrease</div>
<div class='l' style='left:1004.00px;top:468.84px;font-size:15.15px;word-spacing:1.734px;'>in relative flux,<span style='word-spacing:2.17px'> </span>which could be an instrumental effect or a</div>
<div class='l' style='left:1004.00px;top:484.77px;font-size:15.15px;word-spacing:0.864px;'>true decrease in stellar brightness.<span style='word-spacing:4.27px'> </span>Since this trend is irrele-</div>
<div class='l' style='left:1004.00px;top:500.70px;font-size:15.15px;word-spacing:-0.642px;'>vant to the rotation period determination,<span style='word-spacing:-0.51px'> </span>we applied a 70-day</div>
<div class='l' style='left:1004.00px;top:516.63px;font-size:15.15px;word-spacing:0.288px;'>median filter prior to plotting the time series in the top panel</div>
<div class='l' style='left:1004.00px;top:532.56px;font-size:15.15px;word-spacing:0.006px;'>of Figure 1.<span style='word-spacing:1.70px'> </span>The time series exhibits quasiperiodic variations</div>
<div class='l' style='left:1004.00px;top:548.49px;font-size:15.15px;word-spacing:0.054px;'>of order 0.5%.<span style='word-spacing:1.84px'> </span>As usual for late-type stars, we attribute these</div>
<div class='l' style='left:1004.00px;top:564.42px;font-size:15.15px;word-spacing:-0.956px;'>variations to dark spots and bright plages being carried around</div>
<div class='l' style='left:1004.00px;top:580.35px;font-size:15.15px;'>by stellar rotation.</div>
<div class='l' style='left:1017.80px;top:596.28px;font-size:15.15px;word-spacing:3.428px;'>The bottom panel of Figure 1 is a Lomb-Scargle peri-</div>
<div class='l' style='left:1004.00px;top:612.21px;font-size:15.15px;word-spacing:0.339px;'>odogram,<span style='word-spacing:0.42px'> </span>showing a prominent peak at 35.1 days along with</div>
<div class='l' style='left:1004.00px;top:628.14px;font-size:15.15px;word-spacing:1.074px;'>smaller peaks at the first two harmonics.<span style='word-spacing:4.90px'> </span>We identified this</div>
<div class='l' style='left:1004.00px;top:644.07px;font-size:15.15px;word-spacing:-0.156px;'>peak with the stellar rotation period.<span style='word-spacing:1.63px'> </span>We estimated the uncer-</div>
<div class='l' style='left:1004.00px;top:660.00px;font-size:15.15px;word-spacing:-0.737px;'>tainty in the period by dividing the data chronologically into 4</div>
<div class='l' style='left:1004.00px;top:675.93px;font-size:15.15px;word-spacing:0.224px;'>equal segments,<span style='word-spacing:0.28px'> </span>analyzing each piece separately,<span style='word-spacing:0.28px'> </span>and finding</div>
<div class='l' style='left:1004.00px;top:691.86px;font-size:15.15px;word-spacing:-0.067px;'>the standard deviation in the mean of the periodogram peaks.</div>
<div class='l' style='left:1004.00px;top:707.79px;font-size:15.15px;'>Based on this analysis we find <i>P</i><sub>rot</sub> = 35.1 ± 1.0 days.</div>
<div class='c' style='left:688.70px;top:744.91px;font-size:12.12px;'>3. &nbsp;THE ROSSITER-MCLAUGHLIN EFFECT</div>
<div class='l' style='left:1017.80px;top:765.59px;font-size:15.15px;word-spacing:0.581px;'>We measured the sky-projected obliquity and rotation rate</div>
<div class='l' style='left:1004.00px;top:781.53px;font-size:15.15px;word-spacing:0.093px;'>of the primary star by conducting spectroscopic observations</div>
<div class='l' style='left:1004.00px;top:797.47px;font-size:15.15px;word-spacing:0.740px;'>of a primary eclipse and analyzing the Rossiter-McLaughlin</div>
<div class='l' style='left:1004.00px;top:813.42px;font-size:15.15px;word-spacing:0.937px;'>(RM) effect.<span style='word-spacing:4.49px'> </span>The RM effect is the anomalous Doppler shift</div>
<div class='l' style='left:1004.00px;top:829.36px;font-size:15.15px;word-spacing:1.118px;'>that is observed during eclipses as a consequence of the se-</div>
<div class='l' style='left:1004.00px;top:845.30px;font-size:15.15px;word-spacing:0.575px;'>lective blockage of the rotating stellar photosphere (Rossiter</div>
<div class='l' style='left:1004.00px;top:861.24px;font-size:15.15px;'>1924, McLaughlin 1924).</div>
<div class='l' style='left:1017.80px;top:877.19px;font-size:15.15px;word-spacing:-0.951px;'>We used the Keck I 10m telescope and HIRES spectrograph</div>
<div class='l' style='left:1004.00px;top:893.13px;font-size:15.15px;word-spacing:2.330px;'>to gather 14 spectra on 2011 May 28/29,<span style='word-spacing:2.91px'> </span>starting 40 min-</div>
<div class='l' style='left:1004.00px;top:909.07px;font-size:15.15px;word-spacing:1.097px;'>utes before ingress and extending for 5 hours until morning</div>
<div class='l' style='left:1004.00px;top:925.02px;font-size:15.15px;word-spacing:-0.148px;'>twilight, thereby covering about three-quarters of the eclipse.</div>
<div class='l' style='left:1004.00px;top:940.96px;font-size:15.15px;word-spacing:0.353px;'>Another 3 spectra were obtained the following night to track</div>
<div class='l' style='left:1004.00px;top:956.90px;font-size:15.15px;word-spacing:2.117px;'>the out-of-eclipse velocity variation.<span style='word-spacing:8.03px'> </span>The typical exposure</div>
<div class='l' style='left:1004.00px;top:972.84px;font-size:15.15px;word-spacing:2.506px;'>time was 19 minutes.<span style='word-spacing:9.20px'> </span>The I<sub>2</sub> absorption cell was used to</div>
<div class='l' style='left:1004.00px;top:988.79px;font-size:15.15px;word-spacing:1.988px;'>establish the wavelength scale and instrumental profile.<span style='word-spacing:7.65px'> </span>A</div>
<div class='l' style='left:1004.00px;top:1004.73px;font-size:15.15px;word-spacing:2.099px;'>single exposure without I<sub>2</sub> was also obtained to serve as a</div>
<div class='l' style='left:1004.00px;top:1020.67px;font-size:15.15px;word-spacing:0.384px;'>template spectrum.<span style='word-spacing:2.83px'> </span>The relative radial velocities (RVs) were</div>
<div class='l' style='left:1004.00px;top:1036.62px;font-size:15.15px;word-spacing:1.662px;'>determined with a descendant of the algorithm of Butler et</div>
<div class='l' style='left:1004.00px;top:1052.56px;font-size:15.15px;'>al. (1996). They are given in Table 1 and plotted in Figure 2.</div>
<div class='l' style='left:1017.80px;top:1068.50px;font-size:15.15px;word-spacing:-0.673px;'>The “red-then-blue” pattern of the anomalous Doppler shift</div>
<div class='l' style='left:1004.00px;top:1084.44px;font-size:15.15px;word-spacing:0.636px;'>is characteristic of a prograde orbit with good alignment be-</div>
<div class='l' style='left:1004.00px;top:1100.39px;font-size:15.15px;word-spacing:1.853px;'>tween the primary star’s rotational and orbital angular mo-</div>
<div class='l' style='left:1408.20px;top:96.09px;font-size:15.15px;word-spacing:2.159px;'>menta.<span style='word-spacing:8.16px'> </span>In the first half of the eclipse,<span style='word-spacing:2.70px'> </span>the secondary cov-</div>
<div class='l' style='left:1408.20px;top:112.00px;font-size:15.15px;word-spacing:1.965px;'>ers the approaching (blue) half of the primary,<span style='word-spacing:2.46px'> </span>causing the</div>
<div class='l' style='left:1408.20px;top:127.91px;font-size:15.15px;word-spacing:0.034px;'>net starlight to be redshifted; then, the secondary moves over</div>
<div class='l' style='left:1408.20px;top:143.82px;font-size:15.15px;word-spacing:2.049px;'>the receding (redshifted) half of the primary,<span style='word-spacing:2.56px'> </span>producing an</div>
<div class='l' style='left:1408.20px;top:159.74px;font-size:15.15px;word-spacing:0.594px;'>anomalous blueshift.<span style='word-spacing:3.46px'> </span>For quantitative modeling we used the</div>
<div class='l' style='left:1408.20px;top:175.65px;font-size:15.15px;word-spacing:-0.308px;'>technique of Albrecht et al. (2007),<span style='word-spacing:-0.25px'> </span>in which a pixellated stel-</div>
<div class='l' style='left:1408.20px;top:191.56px;font-size:15.15px;word-spacing:-0.607px;'>lar disk is constructed,<span style='word-spacing:-0.49px'> </span>and a theoretical spectral line profile is</div>
<div class='l' style='left:1408.20px;top:207.47px;font-size:15.15px;word-spacing:0.541px;'>computed for each pixel based on the local intensity and ve-</div>
<div class='l' style='left:1408.20px;top:223.39px;font-size:15.15px;word-spacing:-1.007px;'>locity of the photosphere.<span style='word-spacing:1.35px'> </span>The integrated spectrum is obtained</div>
<div class='l' style='left:1408.20px;top:239.30px;font-size:15.15px;word-spacing:1.363px;'>by summing over the uneclipsed pixels,<span style='word-spacing:1.70px'> </span>and then the RV is</div>
<div class='l' style='left:1408.20px;top:255.21px;font-size:15.15px;'>calculated by cross-correlation with the integrated spectrum.</div>
<div class='l' style='left:1422.00px;top:271.12px;font-size:15.15px;word-spacing:2.386px;'>To compute the relative intensities of the pixels,<span style='word-spacing:2.98px'> </span>we as-</div>
<div class='l' style='left:1408.20px;top:287.04px;font-size:15.15px;word-spacing:1.043px;'>sumed a linear limb-darkening law.<span style='word-spacing:4.81px'> </span>The pixel velocities in-</div>
<div class='l' style='left:1408.20px;top:302.95px;font-size:15.15px;word-spacing:0.592px;'>cluded the effects of uniform rotation,<span style='word-spacing:0.74px'> </span>macroturbulence,<span style='word-spacing:0.74px'> </span>and</div>
<div class='l' style='left:1408.20px;top:318.86px;font-size:15.15px;word-spacing:-0.562px;'>the convective blueshift.<span style='word-spacing:1.49px'> </span>The model for macroturbulence was</div>
<div class='l' style='left:1408.20px;top:334.77px;font-size:15.15px;word-spacing:1.316px;'>taken from Gray (2005),<span style='word-spacing:1.65px'> </span>assuming equal radial and tangen-</div>
<div class='l' style='left:1408.20px;top:350.69px;font-size:15.15px;word-spacing:2.777px;'>tial velocity perturbations with a standard deviation ζ<sub>RT</sub> =</div>
<div class='l' style='left:1408.20px;top:368.19px;font-size:15.15px;word-spacing:-0.155px;'>2.5 km s<sup>−1</sup>.<span style='word-spacing:1.63px'> </span>The model for the convective blueshift was taken</div>
<div class='l' style='left:1408.20px;top:384.84px;font-size:15.15px;word-spacing:0.127px;'>from Shporer &amp; Brown (2011), in which the velocity of each</div>
<div class='l' style='left:1408.20px;top:401.49px;font-size:15.15px;word-spacing:-1.114px;'>pixel is shifted by <i>V</i><sub>CB</sub> = 0.2 km s<sup>−1</sup> away from the center of the</div>
<div class='l' style='left:1408.20px;top:417.49px;font-size:15.15px;word-spacing:0.745px;'>star.<span style='word-spacing:3.92px'> </span>The stellar radii and orbital inclination were held fixed</div>
<div class='l' style='left:1408.20px;top:433.49px;font-size:15.15px;word-spacing:-0.552px;'>at the values determined by Doyle et al. (2011).<span style='word-spacing:1.50px'> </span>We neglected</div>
<div class='l' style='left:1408.20px;top:449.49px;font-size:15.15px;word-spacing:0.332px;'>any light from the secondary,<span style='word-spacing:0.42px'> </span>as the light ratio is constrained</div>
<div class='l' style='left:1408.20px;top:465.49px;font-size:15.15px;'>to be &lt;1.3% (Doyle et al. 2011).</div>
<div class='l' style='left:1422.00px;top:481.49px;font-size:15.15px;word-spacing:-0.940px;'>The 6 adjustable parameters were the projected rotation rate</div>
<div class='l' style='left:1408.20px;top:497.49px;font-size:15.15px;word-spacing:1.097px;'><i>v</i> sin <i>i</i>,<span style='word-spacing:1.37px'> </span>the projected obliquity <i>β</i>,<span style='word-spacing:1.37px'> </span>the limb darkening coeffi-</div>
<div class='l' style='left:1408.20px;top:513.49px;font-size:15.15px;word-spacing:0.258px;'>cient <i>u</i>,<span style='word-spacing:0.32px'> </span>the central eclipse time <i>T</i><sub><i>c</i></sub>,<span style='word-spacing:0.32px'> </span>the zero point of the rela-</div>
<div class='l' style='left:1408.20px;top:529.49px;font-size:15.15px;word-spacing:-0.181px;'>tive RV scale <i>γ</i>, and a parameter describing the out-of-eclipse</div>
<div class='l' style='left:1408.20px;top:545.49px;font-size:15.15px;word-spacing:-0.104px;'>RV variation.<span style='word-spacing:1.65px'> </span>For the latter, a simple linear slope would have</div>
<div class='l' style='left:1408.20px;top:561.49px;font-size:15.15px;word-spacing:-1.223px;'>sufficed,<span style='word-spacing:-0.98px'> </span>but for convenience we used <i>M</i>′<sub><i>B</i></sub>,<span style='word-spacing:-0.98px'> </span>the mass of the sec-</div>
<div class='l' style='left:1408.20px;top:577.49px;font-size:15.15px;word-spacing:-0.009px;'>ondary when all other orbital parameters (period, inclination,</div>
<div class='l' style='left:1408.20px;top:593.49px;font-size:15.15px;word-spacing:-0.861px;'>eccentricity,<span style='word-spacing:-0.69px'> </span>argument of pericenter) are held fixed at the best-</div>
<div class='l' style='left:1408.20px;top:609.49px;font-size:15.15px;word-spacing:-1.004px;'>fitting values reported by Doyle et al. (2011).<span style='word-spacing:1.35px'> </span>We expect small</div>
<div class='l' style='left:1408.20px;top:625.49px;font-size:15.15px;word-spacing:-0.104px;'>differences between <i>M</i>′<sub><i>B</i></sub> and the true secondary mass <i>M</i><sub><i>B</i></sub> due</div>
<div class='l' style='left:1408.20px;top:641.49px;font-size:15.15px;word-spacing:1.674px;'>to the small uncertainties in the other orbital parameters as</div>
<div class='l' style='left:1408.20px;top:657.49px;font-size:15.15px;word-spacing:1.725px;'>well as spurious radial accelerations caused by starspots or</div>
<div class='l' style='left:1408.20px;top:673.49px;font-size:15.15px;'>light from the secondary.</div>
<div class='l' style='left:1422.00px;top:689.49px;font-size:15.15px;word-spacing:5.863px;'>To determine the allowed parameter ranges we used</div>
<div class='l' style='left:1408.20px;top:705.49px;font-size:15.15px;word-spacing:5.898px;'>a Markov Chain Monte Carlo algorithm,<span style='word-spacing:7.37px'> </span>with the the</div>
<div class='l' style='left:1408.20px;top:721.49px;font-size:15.15px;word-spacing:0.229px;'>Metropolis-Hastings algorithm and Gibbs sampler.<span style='word-spacing:2.37px'> </span>The like-</div>
<div class='l' style='left:1408.20px;top:737.49px;font-size:15.15px;word-spacing:0.354px;'>lihood was taken to be exp(−<i>χ</i><sup>2</sup>/2),<span style='word-spacing:0.44px'> </span>where <i>χ</i><sup>2</sup> is the usual sum</div>
<div class='l' style='left:1408.20px;top:753.49px;font-size:15.15px;word-spacing:-0.582px;'>of the standardized residuals between the observed and calcu-</div>
<div class='l' style='left:1408.20px;top:769.49px;font-size:15.15px;word-spacing:0.381px;'>lated RVs.<span style='word-spacing:2.82px'> </span>Uniform priors were adopted for <i>v</i> sin <i>i</i>,<span style='word-spacing:0.48px'> </span><i>β</i>,<span style='word-spacing:0.48px'> </span><i>γ</i>,<span style='word-spacing:0.48px'> </span>and</div>
<div class='l' style='left:1408.20px;top:785.49px;font-size:15.15px;word-spacing:1.017px;'><i>M</i>′<sub>2</sub>.<span style='word-spacing:4.73px'> </span>A Gaussian prior was used for <i>T</i><sub><i>c</i></sub>,<span style='word-spacing:1.27px'> </span>with a central value</div>
<div class='l' style='left:1408.20px;top:801.49px;font-size:15.15px;word-spacing:1.023px;'>equal to the predicted ephemeris time and a standard devia-</div>
<div class='l' style='left:1408.20px;top:817.49px;font-size:15.15px;word-spacing:0.747px;'>tion of 1 min (the typical level of eclipse timing variations).</div>
<div class='l' style='left:1408.20px;top:833.49px;font-size:15.15px;word-spacing:-0.399px;'>A Gaussian prior was used for the limb darkening coefficient,</div>
<div class='l' style='left:1408.20px;top:849.49px;font-size:15.15px;'><i>u</i> = 0.8 ± 0.1, based on the tables of Claret (2000).</div>
<div class='l' style='left:1422.00px;top:865.49px;font-size:15.15px;word-spacing:1.555px;'>The formal “1<i>σ</i>” uncertainty interval was taken to be the</div>
<div class='l' style='left:1408.20px;top:881.49px;font-size:15.15px;word-spacing:-0.101px;'>range between the 15.8% and 84.2% levels of the cumulative</div>
<div class='l' style='left:1408.20px;top:897.49px;font-size:15.15px;word-spacing:0.092px;'>distribution of the marginalized posterior for each parameter.</div>
<div class='l' style='left:1408.20px;top:913.49px;font-size:15.15px;word-spacing:-0.204px;'>In addition, we checked on the sensitivity of the results to the</div>
<div class='l' style='left:1408.20px;top:929.49px;font-size:15.15px;word-spacing:1.008px;'>assumed values of the macroturbulent velocity ζ<sub>RT</sub> and con-</div>
<div class='l' style='left:1408.20px;top:945.49px;font-size:15.15px;word-spacing:0.720px;'>vective blueshift <i>V</i><sub>CB</sub>,<span style='word-spacing:0.90px'> </span>by perturbing each of those quantities</div>
<div class='l' style='left:1408.20px;top:961.49px;font-size:15.15px;word-spacing:0.293px;'>by ±50% and refitting.<span style='word-spacing:2.56px'> </span>(It would be better to allow these pa-</div>
<div class='l' style='left:1408.20px;top:977.49px;font-size:15.15px;word-spacing:1.599px;'>rameters to vary during the fit,<span style='word-spacing:2.00px'> </span>but in practice this was too</div>
<div class='l' style='left:1408.20px;top:993.49px;font-size:15.15px;word-spacing:-0.279px;'>computationally demanding.)<span style='word-spacing:1.59px'> </span>Changing the macroturbulence</div>
<div class='l' style='left:1408.20px;top:1009.49px;font-size:15.15px;word-spacing:0.072px;'>had no appreciable effect.<span style='word-spacing:1.90px'> </span>Changing the convective blueshift</div>
<div class='l' style='left:1408.20px;top:1025.49px;font-size:15.15px;word-spacing:0.039px;'>caused shifts of 18 m s<sup>−1</sup> in <i>v</i> sin <i>i</i> and 2° in <i>β</i>, comparable to</div>
<div class='l' style='left:1408.20px;top:1041.49px;font-size:15.15px;word-spacing:1.313px;'>the formal 1<i>σ</i> intervals.<span style='word-spacing:5.62px'> </span>Consequently,<span style='word-spacing:1.64px'> </span>we enlarged the un-</div>
<div class='l' style='left:1408.20px;top:1057.49px;font-size:15.15px;word-spacing:0.885px;'>certainty intervals for those two parameters by adding those</div>
<div class='l' style='left:1408.20px;top:1073.49px;font-size:15.15px;word-spacing:0.385px;'>shifts in quadrature with the formal errors.<span style='word-spacing:2.84px'> </span>Table 2 gives the</div>
<div class='l' style='left:1408.20px;top:1089.49px;font-size:15.15px;'>results for all the parameters.</div>
<div class='c' style='left:1816.00px;top:63.89px;font-size:15.15px;'>RM effect for Kepler-16</div>
<div class='l' style='left:2697.20px;top:63.89px;font-size:15.15px;'>3</div>
<div class='l' style='left:1940.50px;top:535.41px;font-size:12.12px;word-spacing:1.000px;'>F<span style="font-size:80%">IG</span>. 1.— <i>Kepler</i> <b>photometry.</b><span style='word-spacing:4.35px'> </span><i>Top.</i>—Time series of relative flux.<span style='word-spacing:4.35px'> </span>Eclipse data have been removed.<span style='word-spacing:4.35px'> </span>Vertical dotted lines are plotted every 35.1 days,<span style='word-spacing:1.25px'> </span>the</div>
<div class='l' style='left:1931.00px;top:548.01px;font-size:12.12px;word-spacing:0.525px;'>estimated rotation period.<span style='word-spacing:2.92px'> </span>Different colors indicate the 4 segments for which periodograms were computed separately in order to gauge the uncertainty in the</div>
<div class='l' style='left:1931.00px;top:560.61px;font-size:12.12px;'>rotation period. <i>Bottom.</i>—Lomb-Scargle periodograms of the entire time series (thick black line) and each of the 4 segments (thinner colored lines).</div>
<div class='c' style='left:1615.70px;top:586.51px;font-size:12.12px;'>4. &nbsp;DISCUSSION</div>
<div class='c' style='left:1615.70px;top:607.39px;font-size:15.15px;'>4.1. &nbsp;<i>Spin-orbit alignment</i></div>
<div class='l' style='left:1944.80px;top:628.99px;font-size:15.15px;word-spacing:1.251px;'>The angle <i>β</i> between the sky projections of the primary’s</div>
<div class='l' style='left:1931.00px;top:645.04px;font-size:15.15px;word-spacing:-0.746px;'>rotational angular momentum and the orbital angular momen-</div>
<div class='l' style='left:1931.00px;top:661.09px;font-size:15.15px;word-spacing:-0.770px;'>tum of the binary was found to be 1.6 ± 2.4 degrees.<sup>18</sup> The star</div>
<div class='l' style='left:1931.00px;top:677.14px;font-size:15.15px;'>is apparently aligned with the orbit to within a few degrees.</div>
<div class='l' style='left:1944.80px;top:693.19px;font-size:15.15px;word-spacing:1.545px;'>Ordinarily a warning must be issued here:<span style='word-spacing:4.77px'> </span>the stellar ro-</div>
<div class='l' style='left:1931.00px;top:709.24px;font-size:15.15px;word-spacing:0.840px;'>tation axis might be inclined along the line of sight,<span style='word-spacing:1.05px'> </span>and the</div>
<div class='l' style='left:1931.00px;top:725.29px;font-size:15.15px;word-spacing:1.187px;'>sky-projected obliquity <i>β</i> might not be representative of the</div>
<div class='l' style='left:1931.00px;top:741.34px;font-size:15.15px;word-spacing:1.167px;'>true three-dimensional obliquity <i>ψ</i>.<span style='word-spacing:5.18px'> </span>In this case,<span style='word-spacing:1.46px'> </span>though,<span style='word-spacing:1.46px'> </span>an</div>
<div class='l' style='left:1931.00px;top:757.39px;font-size:15.15px;word-spacing:1.956px;'>upper bound on the true obliquity is enforced by the com-</div>
<div class='l' style='left:1931.00px;top:773.44px;font-size:15.15px;word-spacing:1.437px;'>bination <i>v</i> sin <i>i</i> = 0.920 ± 0.025 km s<sup>−1</sup> from the RM anal-</div>
<div class='l' style='left:1931.00px;top:789.49px;font-size:15.15px;word-spacing:2.917px;'>ysis,<span style='word-spacing:3.65px'> </span><i>P</i><sub>rot</sub> = 35.1 ± 1.0 d from the <i>Kepler</i> data,<span style='word-spacing:3.65px'> </span>and <i>R</i><sub><span class="star">*</span></sub> =</div>
<div class='l' style='left:1931.00px;top:805.54px;font-size:15.15px;word-spacing:1.059px;'>0.6489 ± 0.0013 <i>R</i><sub><span class="sun"></span></sub> from the photometric-dynamical model</div>
<div class='l' style='left:1931.00px;top:821.59px;font-size:15.15px;word-spacing:1.338px;'>of Doyle et al. (2011).<span style='word-spacing:5.70px'> </span>Assuming <i>v</i> = 2<i>πR</i><sub><span class="star">*</span></sub>/<i>P</i><sub>rot</sub>,<span style='word-spacing:1.67px'> </span>and adopt-</div>
<div class='l' style='left:1931.00px;top:837.64px;font-size:15.15px;word-spacing:1.034px;'>ing a isotropic prior for <i>i</i> (uniform in cos <i>i</i>),<span style='word-spacing:1.29px'> </span>we find sin <i>i</i> =</div>
<div class='l' style='left:1931.00px;top:853.69px;font-size:15.15px;word-spacing:-0.093px;'>0.994<span class="ss"><span>+0.006</span><span>−0.043</span></span> and <i>i</i> = 90° ± 9°.<span style='word-spacing:1.65px'> </span>With 95.4% confidence, the true</div>
<div class='l' style='left:1931.00px;top:869.74px;font-size:15.15px;'>obliquity is <i>ψ</i> &lt; 18°.3.</div>
<div class='l' style='left:1944.80px;top:885.79px;font-size:15.15px;word-spacing:2.774px;'>This system’s angular momentum has 5 contributions—</div>
<div class='l' style='left:1931.00px;top:901.84px;font-size:15.15px;word-spacing:0.456px;'>the stellar orbit,<span style='word-spacing:0.57px'> </span>the planetary orbit,<span style='word-spacing:0.57px'> </span>the primary rotation,<span style='word-spacing:0.57px'> </span>the</div>
<div class='l' style='left:1931.00px;top:917.89px;font-size:15.15px;word-spacing:0.914px;'>secondary rotation,<span style='word-spacing:1.14px'> </span>and the planetary rotation—with magni-</div>
<div class='l' style='left:1931.00px;top:933.94px;font-size:15.15px;word-spacing:0.456px;'>tudes in the approximate ratios 10000 :<span style='word-spacing:2.59px'> </span>40 :<span style='word-spacing:2.59px'> </span>1 :<span style='word-spacing:2.59px'> </span>0.1 :<span style='word-spacing:2.59px'> </span>0.001.</div>
<div class='l' style='left:1931.00px;top:949.99px;font-size:15.15px;word-spacing:-0.526px;'>Kepler-16 is an orderly system,<span style='word-spacing:-0.42px'> </span>with good alignment between</div>
<div class='l' style='left:1931.00px;top:966.04px;font-size:15.15px;word-spacing:0.932px;'>the three largest portions of the angular momentum.<span style='word-spacing:4.48px'> </span>To our</div>
<div class='l' style='left:1931.00px;top:982.09px;font-size:15.15px;word-spacing:0.307px;'>knowledge,<span style='word-spacing:0.38px'> </span>Kepler-16 is the longest-period stellar binary for</div>
<div class='l' style='left:1931.00px;top:998.14px;font-size:15.15px;word-spacing:1.168px;'>which a stellar obliquity has been measured (see Table 1 of</div>
<div class='l' style='left:1931.00px;top:1014.19px;font-size:15.15px;'>Albrecht et al. 2011).</div>
<div class='l' style='left:1944.60px;top:1072.71px;font-size:12.12px;word-spacing:-0.547px;'><sup>18</sup> The angle <i>β</i> is defined using the coordinate system of Hosokawa (1953).</div>
<div class='l' style='left:1931.00px;top:1085.26px;font-size:12.12px;word-spacing:1.406px;'>Note that Ohta et al. (2005) and others have used a different symbol <i>λ</i> to</div>
<div class='l' style='left:1931.00px;top:1097.81px;font-size:12.12px;'>represent this angle, and a coordinate system such that <i>λ</i> = −<i>β</i>.</div>
<div class='c' style='left:2020.00px;top:585.49px;font-size:15.15px;'>4.2. &nbsp;<i>Activity, rotation, and age</i></div>
<div class='l' style='left:2349.00px;top:607.39px;font-size:15.15px;word-spacing:0.658px;'>The Keck spectra show Ca H&amp;K chromospheric emission</div>
<div class='l' style='left:2335.20px;top:623.29px;font-size:15.15px;word-spacing:-0.465px;'>with log <i>R</i>′<sub>HK</sub> = −4.68 ± 0.10,<span style='word-spacing:-0.37px'> </span>stronger than the Sun’s value of</div>
<div class='l' style='left:2335.20px;top:639.19px;font-size:15.15px;word-spacing:-0.582px;'>−4.91.<span style='word-spacing:1.49px'> </span>The spectra obtained previously by Doyle et al. (2011)</div>
<div class='l' style='left:2335.20px;top:655.09px;font-size:15.15px;word-spacing:1.080px;'>also exhibit Ca H&amp;K emission,<span style='word-spacing:1.35px'> </span>with RV variations tracking</div>
<div class='l' style='left:2335.20px;top:670.99px;font-size:15.15px;word-spacing:0.502px;'>those of the primary,<span style='word-spacing:0.63px'> </span>proving that the emission originates on</div>
<div class='l' style='left:2335.20px;top:686.89px;font-size:15.15px;word-spacing:0.402px;'>the primary rather than the secondary or the planet.<span style='word-spacing:2.89px'> </span>We may</div>
<div class='l' style='left:2335.20px;top:702.79px;font-size:15.15px;word-spacing:0.981px;'>therefore use empirical relations between the rotation,<span style='word-spacing:1.23px'> </span>chro-</div>
<div class='l' style='left:2335.20px;top:718.69px;font-size:15.15px;word-spacing:0.316px;'>mospheric activity,<span style='word-spacing:0.40px'> </span>and age of main-sequence dwarfs to esti-</div>
<div class='l' style='left:2335.20px;top:734.59px;font-size:15.15px;word-spacing:0.254px;'>mate the age of Kepler-16 A and check whether there is any-</div>
<div class='l' style='left:2335.20px;top:750.49px;font-size:15.15px;'>thing unusual about its properties.</div>
<div class='l' style='left:2349.00px;top:766.39px;font-size:15.15px;word-spacing:-0.771px;'>Building on work by Barnes (2007) and others,<span style='word-spacing:-0.62px'> </span>Mamajek &amp;</div>
<div class='l' style='left:2335.20px;top:782.29px;font-size:15.15px;word-spacing:0.926px;'>Hillenbrand (2008) provided up-to-date activity/rotation/age</div>
<div class='l' style='left:2335.20px;top:798.19px;font-size:15.15px;word-spacing:-0.218px;'>relations for K2-F7 dwarfs (≈0.8-1.3 <i>M</i><sub><span class="sun"></span></sub>), which we extrapo-</div>
<div class='l' style='left:2335.20px;top:814.09px;font-size:15.15px;word-spacing:-0.354px;'>lated to interpret the 0.7 <i>M</i><sub><span class="sun"></span></sub> primary of Kepler-16.<span style='word-spacing:1.56px'> </span>The activ-</div>
<div class='l' style='left:2335.20px;top:829.99px;font-size:15.15px;word-spacing:-0.387px;'>ity/age relation in their Eqn. (3) gives an age of 1.8 ± 1.2 Gyr.</div>
<div class='l' style='left:2335.20px;top:845.89px;font-size:15.15px;word-spacing:0.619px;'>The rotation/age relation implicit in their Eqns. (12-14) give</div>
<div class='l' style='left:2335.20px;top:861.79px;font-size:15.15px;word-spacing:1.037px;'>an age of 3.7 ± 0.8 Gyr.<span style='word-spacing:4.79px'> </span>A similar age is obtained from the</div>
<div class='l' style='left:2335.20px;top:877.69px;font-size:15.15px;'>relations of Barnes (2010) and Barnes &amp; Kim (2010).</div>
<div class='l' style='left:2349.00px;top:893.59px;font-size:15.15px;word-spacing:0.370px;'>In addition,<span style='word-spacing:0.46px'> </span>the rotation and activity are expected to be di-</div>
<div class='l' style='left:2335.20px;top:909.49px;font-size:15.15px;word-spacing:-0.763px;'>rectly linked,<span style='word-spacing:-0.61px'> </span>with a particularly strong correlation betwen the</div>
<div class='l' style='left:2335.20px;top:925.39px;font-size:15.15px;word-spacing:-0.012px;'>Rossby number Ro (the ratio of rotation period to convective</div>
<div class='l' style='left:2335.20px;top:941.29px;font-size:15.15px;word-spacing:0.086px;'>turnover timescale) and log <i>R</i>′<sub>HK</sub>. We used Eqn. (4) of Noyes</div>
<div class='l' style='left:2335.20px;top:957.19px;font-size:15.15px;word-spacing:-1.056px;'>et al. (1984) to estimate the convective turnover timescale,<span style='word-spacing:-0.85px'> </span>ob-</div>
<div class='l' style='left:2335.20px;top:973.09px;font-size:15.15px;word-spacing:0.831px;'>taining <i>τ</i><sub><i>c</i></sub> = 23.0 d and Ro = 1.52.<span style='word-spacing:4.17px'> </span>The relation between Ro</div>
<div class='l' style='left:2335.20px;top:988.99px;font-size:15.15px;word-spacing:1.528px;'>and chromospheric activity shown in Fig. 7 of Mamajek &amp;</div>
<div class='l' style='left:2335.20px;top:1004.89px;font-size:15.15px;word-spacing:0.037px;'>Hillenbrand (2008) predicts log <i>R</i>′<sub>HK</sub> = −4.70, in good agree-</div>
<div class='l' style='left:2335.20px;top:1020.79px;font-size:15.15px;word-spacing:1.469px;'>ment with the measured value.<span style='word-spacing:6.09px'> </span>The light variations of 0.5-</div>
<div class='l' style='left:2335.20px;top:1036.69px;font-size:15.15px;word-spacing:-0.312px;'>1% are also typical for a star with this level of chromospheric</div>
<div class='l' style='left:2335.20px;top:1052.59px;font-size:15.15px;'>emission (see, e.g., Hall et al. 2009).</div>
<div class='l' style='left:2349.00px;top:1068.49px;font-size:15.15px;word-spacing:1.382px;'>All together,<span style='word-spacing:1.73px'> </span>the rotation period,<span style='word-spacing:1.73px'> </span>chromospheric emission</div>
<div class='l' style='left:2335.20px;top:1084.39px;font-size:15.15px;word-spacing:-0.435px;'>level,<span style='word-spacing:-0.35px'> </span>and fractional light variations paint a picture of an ordi-</div>
<div class='l' style='left:2861.30px;top:63.89px;font-size:15.15px;'>4</div>
<div class='c' style='left:2750.50px;top:63.89px;font-size:15.15px;'>Winn et al. 2011</div>
<div class='l' style='left:2867.50px;top:801.41px;font-size:12.12px;word-spacing:1.497px;'>F<span style="font-size:80%">IG</span>. 2.— <b>Keck radial velocities.</b><span style='word-spacing:5.84px'> </span><i>Top.</i>—Apparent radial velocity (solid points) and the best-fitting model (gray curve).<span style='word-spacing:5.84px'> </span><i>Bottom.</i>—After subtracting the</div>
<div class='l' style='left:2858.00px;top:813.81px;font-size:12.12px;'>best-fitting orbital model, thereby isolating the RM anomaly. Each night’s data is shown separately, along with the residuals.</div>
<div class='l' style='left:2858.00px;top:841.19px;font-size:15.15px;'>nary 0.7 <i>M</i><sub><span class="sun"></span></sub> dwarf star with an age of 2-4 Gyr.</div>
<div class='c' style='left:2542.70px;top:871.29px;font-size:15.15px;'>4.3. &nbsp;<i>Comparison to evolutionary models</i></div>
<div class='l' style='left:2871.80px;top:892.99px;font-size:15.15px;word-spacing:-1.064px;'>The Keck spectrum provides new estimates of the primary’s</div>
<div class='l' style='left:2858.00px;top:908.87px;font-size:15.15px;word-spacing:0.752px;'>photospheric parameters.<span style='word-spacing:3.94px'> </span>Analysis with Spectroscopy Made</div>
<div class='l' style='left:2858.00px;top:924.76px;font-size:15.15px;word-spacing:3.594px;'>Easy,<span style='word-spacing:4.49px'> </span>a software package written by Valenti &amp; Piskunov</div>
<div class='l' style='left:2858.00px;top:940.64px;font-size:15.15px;word-spacing:0.774px;'>(1996),<span style='word-spacing:0.97px'> </span>gives <i>T</i><sub>eff</sub> = 4337 ± 80 K and [Fe/H] = −0.04 ± 0.08</div>
<div class='l' style='left:2858.00px;top:956.53px;font-size:15.15px;word-spacing:0.533px;'>for a fixed value of log <i>g</i> = 4.6527 (the value determined by</div>
<div class='l' style='left:2858.00px;top:972.41px;font-size:15.15px;word-spacing:3.133px;'>Doyle et al. 2011,<span style='word-spacing:3.92px'> </span>which has a negligible uncertainty for</div>
<div class='l' style='left:2858.00px;top:988.29px;font-size:15.15px;word-spacing:1.356px;'>this purpose).<span style='word-spacing:5.75px'> </span>These agree with the previously reported re-</div>
<div class='l' style='left:2858.00px;top:1004.18px;font-size:15.15px;word-spacing:0.912px;'>sults <i>T</i><sub>eff</sub> = 4450 ± 150 K and [m/H] = −0.3 ± 0.2 (Doyle et</div>
<div class='l' style='left:2858.00px;top:1020.06px;font-size:15.15px;'>al. 2011).</div>
<div class='l' style='left:2871.80px;top:1035.95px;font-size:15.15px;word-spacing:-0.437px;'>Figure 3 shows a comparison between the observed masses</div>
<div class='l' style='left:2858.00px;top:1051.83px;font-size:15.15px;word-spacing:0.054px;'>and radii of Kepler-16 A and B and the theoretical evolution-</div>
<div class='l' style='left:2858.00px;top:1067.72px;font-size:15.15px;word-spacing:0.525px;'>ary models of Baraffe et al. (1998).<span style='word-spacing:3.26px'> </span>Models are shown for 1</div>
<div class='l' style='left:2858.00px;top:1083.60px;font-size:15.15px;word-spacing:0.978px;'>and 5 Gyr for a mixing-length parameter of 1.0.<span style='word-spacing:4.62px'> </span>The 1 Gyr</div>
<div class='l' style='left:2858.00px;top:1099.49px;font-size:15.15px;word-spacing:1.073px;'>model gives the best match to the primary mass and radius,</div>
<div class='l' style='left:3262.20px;top:841.19px;font-size:15.15px;word-spacing:-0.221px;'>although it is also possible to obtain a good fit at 5 Gyr by in-</div>
<div class='l' style='left:3262.20px;top:857.07px;font-size:15.15px;word-spacing:0.353px;'>creasing the mixing-length parameter toward the Solar value</div>
<div class='l' style='left:3262.20px;top:872.95px;font-size:15.15px;word-spacing:1.292px;'>of 1.9 (as might be expected for the primary;<span style='word-spacing:1.94px'> </span>see,<span style='word-spacing:1.61px'> </span>e.g.,<span style='word-spacing:1.61px'> </span>De-</div>
<div class='l' style='left:3262.20px;top:888.83px;font-size:15.15px;word-spacing:0.963px;'>mory et al. 2009).<span style='word-spacing:4.57px'> </span>The models also match the measured ef-</div>
<div class='l' style='left:3262.20px;top:904.71px;font-size:15.15px;word-spacing:1.554px;'>fective temperature of the primary.<span style='word-spacing:6.35px'> </span>Interestingly the calcu-</div>
<div class='l' style='left:3262.20px;top:920.59px;font-size:15.15px;word-spacing:0.877px;'>lated primary radius is within a few percent of the observed</div>
<div class='l' style='left:3262.20px;top:936.47px;font-size:15.15px;word-spacing:1.143px;'>radius.<span style='word-spacing:5.11px'> </span>This is in contrast to the other stars of similar mass</div>
<div class='l' style='left:3262.20px;top:952.35px;font-size:15.15px;word-spacing:0.729px;'>shown in Figure 3,<span style='word-spacing:0.91px'> </span>for which the observed radii are 10-15%</div>
<div class='l' style='left:3262.20px;top:968.23px;font-size:15.15px;word-spacing:1.379px;'>larger than the model predictions.<span style='word-spacing:5.82px'> </span>Such discrepancies have</div>
<div class='l' style='left:3262.20px;top:984.11px;font-size:15.15px;word-spacing:0.284px;'>been attributed to high activity and rapid rotation in the stars</div>
<div class='l' style='left:3262.20px;top:999.99px;font-size:15.15px;word-spacing:-0.664px;'>that have been studied closely (see,<span style='word-spacing:-0.53px'> </span>e.g.,<span style='word-spacing:-0.53px'> </span>Chabrier et al. 2007).</div>
<div class='l' style='left:3262.20px;top:1015.87px;font-size:15.15px;word-spacing:1.408px;'>The secondary star’s mass and radius are also within a few</div>
<div class='l' style='left:3262.20px;top:1031.75px;font-size:15.15px;word-spacing:1.550px;'>percent of the calculated values.<span style='word-spacing:6.33px'> </span>We leave a more detailed</div>
<div class='l' style='left:3262.20px;top:1047.63px;font-size:15.15px;word-spacing:0.801px;'>comparison with models for future work,<span style='word-spacing:1.00px'> </span>which should take</div>
<div class='l' style='left:3262.20px;top:1063.51px;font-size:15.15px;word-spacing:0.959px;'>into account the uncertainty in the metallicity as well as the</div>
<div class='l' style='left:3262.20px;top:1079.39px;font-size:15.15px;'><i>α</i>-element abundances (which have not yet been measured).</div>
<div class='c' style='left:3670.50px;top:63.89px;font-size:15.15px;'>RM effect for Kepler-16</div>
<div class='l' style='left:4551.20px;top:63.89px;font-size:15.15px;'>5</div>
<div class='l' style='left:3793.90px;top:595.41px;font-size:12.12px;word-spacing:-0.427px;'>F<span style="font-size:80%">IG</span>. 3.— <b>Theoretical and observed masses and radii of low-mass stars.</b><span style='word-spacing:1.20px'> </span>The model curves are from Baraffe et al. (1998),<span style='word-spacing:-0.34px'> </span>for a metallicity of −0.04 (obtained</div>
<div class='l' style='left:3784.40px;top:607.78px;font-size:12.12px;word-spacing:-0.048px;'>by linear interpolation between 0.00 and −0.50) and a mixing-length parameter <i>α</i><sub>ML</sub> = 1.0.<span style='word-spacing:1.33px'> </span>In addition to Kepler-16 (Doyle et al. 2011), data are shown for other</div>
<div class='l' style='left:3784.40px;top:620.16px;font-size:12.12px;word-spacing:0.041px;'>low-mass stars for which the masses and radii have been determined to within 3% according to the rigorous criteria used by Torres et al. (2010).<span style='word-spacing:1.47px'> </span>Those systems</div>
<div class='l' style='left:3784.40px;top:632.53px;font-size:12.12px;word-spacing:-0.142px;'>are:<span style='word-spacing:1.27px'> </span>KOI-126 (Carter et al. 2011), YY Gem (Torres &amp; Ribas 2002), CU Cnc (Ribas 2003), GU Boo (Lopez-Morales &amp; Ribas 2005), NGC 2204 S892 (Rozyczka</div>
<div class='l' style='left:3784.40px;top:644.91px;font-size:12.12px;'>et al. 2009), and IM Vir (Morales et al. 2009).</div>
<div class='c' style='left:3469.70px;top:702.39px;font-size:15.15px;'>4.4. &nbsp;<i>Formation scenarios</i></div>
<div class='l' style='left:3798.80px;top:724.19px;font-size:15.15px;word-spacing:1.155px;'>Binary stars are thought to form by fragmentation of col-</div>
<div class='l' style='left:3785.00px;top:740.11px;font-size:15.15px;word-spacing:-0.522px;'>lapsing prestellar cores,<span style='word-spacing:-0.42px'> </span>with close binaries such as Kepler-16</div>
<div class='l' style='left:3785.00px;top:756.03px;font-size:15.15px;word-spacing:0.999px;'>possibly resulting from fragmentation during a late,<span style='word-spacing:1.25px'> </span>isother-</div>
<div class='l' style='left:3785.00px;top:771.95px;font-size:15.15px;word-spacing:1.785px;'>mal phase of the collapse (see,<span style='word-spacing:2.23px'> </span>e.g.,<span style='word-spacing:2.23px'> </span>Goodwin et al. 2007).</div>
<div class='l' style='left:3785.00px;top:787.87px;font-size:15.15px;word-spacing:0.140px;'>Stable hierarchial triples can also be produced by fragmenta-</div>
<div class='l' style='left:3785.00px;top:803.80px;font-size:15.15px;word-spacing:0.417px;'>tion (Boss 1991,<span style='word-spacing:0.52px'> </span>Bate 2009),<span style='word-spacing:0.52px'> </span>raising the question of whether</div>
<div class='l' style='left:3785.00px;top:819.72px;font-size:15.15px;'>the three bodies of Kepler-16 formed in this manner.</div>
<div class='l' style='left:3798.80px;top:835.64px;font-size:15.15px;word-spacing:0.666px;'>In this scenario one would expect a tendency for the frag-</div>
<div class='l' style='left:3785.00px;top:851.56px;font-size:15.15px;word-spacing:0.915px;'>ments to be aligned,<span style='word-spacing:1.14px'> </span>but there is no obvious reason why the</div>
<div class='l' style='left:3785.00px;top:867.48px;font-size:15.15px;word-spacing:2.116px;'>alignment would be as close as is observed for Kepler-16.</div>
<div class='l' style='left:3785.00px;top:883.40px;font-size:15.15px;word-spacing:1.598px;'>Among the triple systems that formed in a large-scale sim-</div>
<div class='l' style='left:3785.00px;top:899.33px;font-size:15.15px;word-spacing:0.025px;'>ulation by Bate (2009), the orbital planes were typically mis-</div>
<div class='l' style='left:3785.00px;top:915.25px;font-size:15.15px;word-spacing:0.902px;'>aligned by ≈60°.<span style='word-spacing:4.39px'> </span>Furthermore there are some close binaries</div>
<div class='l' style='left:3785.00px;top:931.17px;font-size:15.15px;word-spacing:1.994px;'>with much larger obliquities than Kepler-16 A,<span style='word-spacing:2.49px'> </span>such as DI</div>
<div class='l' style='left:3785.00px;top:947.09px;font-size:15.15px;'>Herculis (Albrecht et al. 2009).</div>
<div class='l' style='left:3798.80px;top:963.01px;font-size:15.15px;word-spacing:0.843px;'>This suggests an additional chapter is needed in the story,</div>
<div class='l' style='left:3785.00px;top:978.93px;font-size:15.15px;word-spacing:3.764px;'>beyond fragmentation.<span style='word-spacing:12.97px'> </span>Perhaps after their formation the</div>
<div class='l' style='left:3785.00px;top:994.86px;font-size:15.15px;word-spacing:1.057px;'>stars continued to accrete substantially from a circumbinary</div>
<div class='l' style='left:3785.00px;top:1010.78px;font-size:15.15px;word-spacing:-0.560px;'>disk,<span style='word-spacing:-0.45px'> </span>which would have decreased their orbital separation and</div>
<div class='l' style='left:3785.00px;top:1026.70px;font-size:15.15px;word-spacing:-1.157px;'>aligned their spin axes (Bate et al. 2002).<span style='word-spacing:1.30px'> </span>Or the primary could</div>
<div class='l' style='left:3785.00px;top:1042.62px;font-size:15.15px;word-spacing:1.609px;'>have formed with a massive circumstellar disk,<span style='word-spacing:2.01px'> </span>which then</div>
<div class='l' style='left:3785.00px;top:1058.54px;font-size:15.15px;word-spacing:0.602px;'>fragmented to form the secondary.<span style='word-spacing:3.49px'> </span>In either of these scenar-</div>
<div class='l' style='left:3785.00px;top:1074.47px;font-size:15.15px;word-spacing:0.725px;'>ios,<span style='word-spacing:0.91px'> </span>the planet could have formed by core accretion near the</div>
<div class='l' style='left:3785.00px;top:1090.39px;font-size:15.15px;word-spacing:-0.237px;'>inner edge of the circumbinary disk (see, e.g., Pierens &amp; Nel-</div>
<div class='l' style='left:4189.20px;top:702.39px;font-size:15.15px;'>son 2008, Marzari et al. 2008).</div>
<div class='c' style='left:3874.00px;top:739.19px;font-size:15.15px;'>4.5. &nbsp;<i>Evidence for tidal evolution</i></div>
<div class='l' style='left:4203.00px;top:760.99px;font-size:15.15px;word-spacing:0.738px;'>Another process that could have reduced the stellar obliq-</div>
<div class='l' style='left:4189.20px;top:776.85px;font-size:15.15px;word-spacing:0.435px;'>uity is tidal evolution.<span style='word-spacing:2.99px'> </span>In the fullness of time,<span style='word-spacing:0.54px'> </span>tides synchro-</div>
<div class='l' style='left:4189.20px;top:792.72px;font-size:15.15px;word-spacing:1.470px;'>nize and align the spins of a binary system,<span style='word-spacing:1.84px'> </span>and circularize</div>
<div class='l' style='left:4189.20px;top:808.59px;font-size:15.15px;word-spacing:2.531px;'>their orbit (Zahn 1977,<span style='word-spacing:3.16px'> </span>Hut 1981).<span style='word-spacing:9.27px'> </span>Conventional wisdom</div>
<div class='l' style='left:4189.20px;top:824.45px;font-size:15.15px;word-spacing:1.495px;'>would say that tides are irrelevant for Kepler-16 due to the</div>
<div class='l' style='left:4189.20px;top:840.32px;font-size:15.15px;word-spacing:1.305px;'>relatively long orbital period (41 days) and wide separation</div>
<div class='l' style='left:4189.20px;top:856.19px;font-size:15.15px;word-spacing:1.490px;'>(<i>a</i> = 0.22 AU,<span style='word-spacing:1.86px'> </span><i>a</i>/<i>R</i><sub><span class="star">*</span></sub> = 74),<span style='word-spacing:1.86px'> </span>and indeed the orbital eccentric-</div>
<div class='l' style='left:4189.20px;top:872.05px;font-size:15.15px;word-spacing:1.137px;'>ity of 0.16 shows that circularization is incomplete.<span style='word-spacing:5.09px'> </span>On the</div>
<div class='l' style='left:4189.20px;top:887.92px;font-size:15.15px;word-spacing:1.554px;'>other hand,<span style='word-spacing:1.94px'> </span>synchronization and alignment should be faster</div>
<div class='l' style='left:4189.20px;top:903.79px;font-size:15.15px;word-spacing:-0.919px;'>than circularization because the rotational angular momentum</div>
<div class='l' style='left:4189.20px;top:919.65px;font-size:15.15px;word-spacing:-0.165px;'>is smaller than the orbital angular momentum.<span style='word-spacing:1.63px'> </span>More broadly,</div>
<div class='l' style='left:4189.20px;top:935.52px;font-size:15.15px;word-spacing:2.019px;'>tidal evolution timescales are poorly known,<span style='word-spacing:2.52px'> </span>especially for</div>
<div class='l' style='left:4189.20px;top:951.39px;font-size:15.15px;'>spin evolution (see, e.g., Mazeh 2008).</div>
<div class='l' style='left:4203.00px;top:967.59px;font-size:15.15px;word-spacing:2.854px;'>An order-of-magnitude assessment of the importance of</div>
<div class='l' style='left:4189.20px;top:983.41px;font-size:15.15px;word-spacing:-0.699px;'>tidal evolution begins with the observation that most late-type</div>
<div class='l' style='left:4189.20px;top:999.24px;font-size:15.15px;word-spacing:1.604px;'>binaries with periods &lt;10 days have circular orbits (Mazeh</div>
<div class='l' style='left:4189.20px;top:1015.06px;font-size:15.15px;word-spacing:3.365px;'>2008).<span style='word-spacing:11.78px'> </span>Therefore the circularization timescale is <span class="sim">~</span>5 Gyr</div>
<div class='l' style='left:4189.20px;top:1030.89px;font-size:15.15px;word-spacing:3.675px;'>for <i>a</i>/<i>R</i><sub><span class="star">*</span></sub> <span class="sim">~</span> 20.<span style='word-spacing:12.71px'> </span>If this timescale varies as (<i>a</i>/<i>R</i><sub><span class="star">*</span></sub>)<sup>8</sup> (Zahn</div>
<div class='l' style='left:4189.20px;top:1050.59px;font-size:15.15px;word-spacing:2.671px;'>1977),<span style='word-spacing:3.34px'> </span>then for Kepler-16 it is 5 (74/20)<sup>8</sup> <span class="sim">~</span> 2 × 10<sup>5</sup> Gyr,</div>
<div class='l' style='left:4189.20px;top:1066.49px;font-size:15.15px;word-spacing:1.137px;'>i.e.,<span style='word-spacing:1.42px'> </span>consistent with the observation that the orbit is still ec-</div>
<div class='l' style='left:4189.20px;top:1082.39px;font-size:15.15px;word-spacing:0.226px;'>centric.<span style='word-spacing:2.36px'> </span>We further suppose that the spin evolution timescale</div>
<div class='l' style='left:4189.20px;top:1099.89px;font-size:15.15px;word-spacing:2.267px;'>is smaller by a factor of <span class="sim">~</span>10<sup>4</sup> (the ratio of orbital to rota-</div>
</body></html>
